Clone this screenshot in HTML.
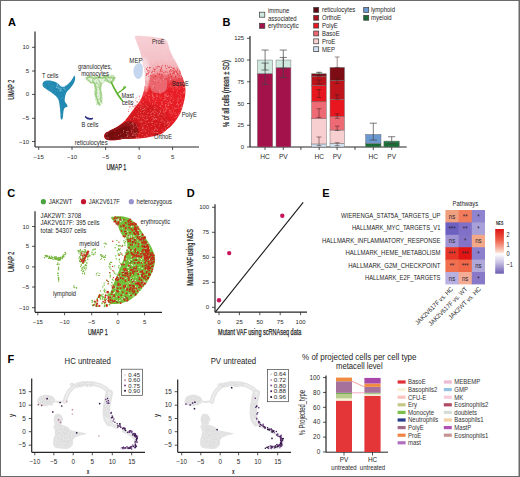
<!DOCTYPE html>
<html><head><meta charset="utf-8"><style>
html,body{margin:0;padding:0;background:#fff;width:520px;height:477px;overflow:hidden;}
svg{display:block;font-family:"Liberation Sans", sans-serif;}
</style></head><body>
<svg width="520" height="477" viewBox="0 0 520 477">
<rect x="0" y="0" width="520" height="477" fill="#fff"/>
<rect x="0.00" y="0.00" width="520.00" height="1.00" fill="#6a6a6a" />
<rect x="0.00" y="0.00" width="1.00" height="477.00" fill="#6a6a6a" />
<rect x="518.50" y="0.00" width="1.50" height="477.00" fill="#6a6a6a" />
<rect x="0.00" y="476.00" width="520.00" height="1.00" fill="#6a6a6a" />
<text x="8.00" y="25.60" font-size="11" fill="#000" font-weight="bold" >A</text>
<text x="222.60" y="25.80" font-size="11" fill="#000" font-weight="bold" >B</text>
<text x="7.30" y="196.80" font-size="11" fill="#000" font-weight="bold" >C</text>
<text x="186.80" y="196.60" font-size="11" fill="#000" font-weight="bold" >D</text>
<text x="322.30" y="196.60" font-size="11" fill="#000" font-weight="bold" >E</text>
<text x="7.50" y="362.50" font-size="11" fill="#000" font-weight="bold" >F</text>
<path d="M42.5,84.0 C42.6,83.1 43.2,82.1 44.0,81.5 C44.8,80.9 46.2,80.7 47.5,80.6 C48.8,80.5 50.6,80.7 52.0,81.0 C53.4,81.3 54.9,81.8 56.0,82.3 C57.1,82.8 58.0,83.5 58.8,84.2 C59.6,84.9 60.1,86.0 61.0,86.5 C61.9,87.0 62.9,87.3 64.0,87.0 C65.1,86.7 66.4,85.5 67.5,84.5 C68.6,83.5 69.8,82.5 70.8,81.3 C71.8,80.1 72.6,78.5 73.2,77.6 C73.8,76.6 74.0,75.6 74.3,75.6 C74.6,75.6 75.0,76.6 75.1,77.5 C75.2,78.4 75.1,79.8 74.7,81.0 C74.3,82.2 73.6,83.7 72.7,85.0 C71.8,86.3 70.6,87.8 69.6,89.0 C68.6,90.2 67.4,90.8 66.7,92.0 C66.0,93.2 65.5,94.5 65.2,96.0 C64.9,97.5 64.6,99.7 64.8,101.0 C65.0,102.3 66.1,103.1 66.6,104.0 C67.1,104.9 67.8,106.0 67.6,106.6 C67.4,107.2 65.9,106.9 65.2,107.6 C64.5,108.2 64.0,108.7 63.6,110.5 C63.2,112.3 63.1,117.2 62.6,118.6 C62.1,120.0 61.2,119.9 60.8,118.8 C60.4,117.7 60.5,114.5 60.3,112.0 C60.1,109.5 59.7,106.1 59.4,104.0 C59.1,101.9 58.9,100.9 58.3,99.5 C57.6,98.1 56.7,97.0 55.5,95.8 C54.3,94.6 52.5,93.4 51.0,92.3 C49.5,91.2 47.8,90.1 46.5,89.2 C45.2,88.3 44.1,87.9 43.4,87.0 C42.7,86.1 42.4,84.9 42.5,84.0Z" fill="#2189b1" />
<g fill="#8cc8e0" fill-opacity="1.0"><circle cx="61.9" cy="86.3" r="0.45"/><circle cx="56.6" cy="87.6" r="0.45"/><circle cx="56.4" cy="86.9" r="0.45"/><circle cx="60.7" cy="90.4" r="0.45"/><circle cx="57.4" cy="85.0" r="0.45"/><circle cx="62.3" cy="86.6" r="0.45"/><circle cx="65.4" cy="85.6" r="0.45"/><circle cx="57.6" cy="84.1" r="0.45"/><circle cx="59.4" cy="90.3" r="0.45"/><circle cx="58.0" cy="88.2" r="0.45"/><circle cx="63.0" cy="86.4" r="0.45"/><circle cx="56.7" cy="84.9" r="0.45"/><circle cx="63.5" cy="86.8" r="0.45"/><circle cx="59.5" cy="88.3" r="0.45"/><circle cx="61.0" cy="85.7" r="0.45"/><circle cx="64.7" cy="89.3" r="0.45"/><circle cx="58.7" cy="88.2" r="0.45"/><circle cx="61.8" cy="90.9" r="0.45"/><circle cx="60.6" cy="89.8" r="0.45"/><circle cx="57.7" cy="87.4" r="0.45"/><circle cx="64.4" cy="88.2" r="0.45"/><circle cx="65.6" cy="85.8" r="0.45"/><circle cx="63.6" cy="88.3" r="0.45"/><circle cx="62.4" cy="87.1" r="0.45"/><circle cx="61.2" cy="89.0" r="0.45"/><circle cx="65.0" cy="85.6" r="0.45"/><circle cx="60.2" cy="89.0" r="0.45"/><circle cx="56.2" cy="87.2" r="0.45"/><circle cx="57.8" cy="84.1" r="0.45"/><circle cx="57.4" cy="85.2" r="0.45"/><circle cx="60.3" cy="90.8" r="0.45"/><circle cx="56.9" cy="87.0" r="0.45"/><circle cx="62.0" cy="91.0" r="0.45"/><circle cx="59.1" cy="86.7" r="0.45"/><circle cx="59.9" cy="91.0" r="0.45"/><circle cx="57.9" cy="85.1" r="0.45"/><circle cx="58.6" cy="87.4" r="0.45"/><circle cx="60.1" cy="88.1" r="0.45"/><circle cx="61.7" cy="88.6" r="0.45"/><circle cx="65.9" cy="90.0" r="0.45"/></g>
<g fill="#5aaccc" fill-opacity="1.0"><circle cx="55.3" cy="92.8" r="0.4"/><circle cx="49.3" cy="82.6" r="0.4"/><circle cx="50.7" cy="90.6" r="0.4"/><circle cx="57.7" cy="96.5" r="0.4"/><circle cx="53.7" cy="87.0" r="0.4"/><circle cx="69.5" cy="82.6" r="0.4"/><circle cx="51.0" cy="91.4" r="0.4"/><circle cx="53.2" cy="85.2" r="0.4"/><circle cx="49.7" cy="85.4" r="0.4"/><circle cx="48.9" cy="84.4" r="0.4"/><circle cx="62.8" cy="114.5" r="0.4"/><circle cx="63.8" cy="110.1" r="0.4"/><circle cx="46.6" cy="82.1" r="0.4"/><circle cx="69.4" cy="84.7" r="0.4"/><circle cx="50.7" cy="88.3" r="0.4"/><circle cx="61.5" cy="114.7" r="0.4"/><circle cx="58.9" cy="98.6" r="0.4"/><circle cx="56.8" cy="83.5" r="0.4"/><circle cx="60.6" cy="109.5" r="0.4"/><circle cx="50.6" cy="87.6" r="0.4"/><circle cx="60.8" cy="108.4" r="0.4"/><circle cx="62.5" cy="97.4" r="0.4"/><circle cx="60.7" cy="116.3" r="0.4"/><circle cx="44.9" cy="86.0" r="0.4"/><circle cx="59.3" cy="90.2" r="0.4"/><circle cx="48.9" cy="89.4" r="0.4"/><circle cx="60.6" cy="94.6" r="0.4"/><circle cx="62.8" cy="97.7" r="0.4"/><circle cx="45.9" cy="87.1" r="0.4"/><circle cx="51.3" cy="81.2" r="0.4"/><circle cx="69.2" cy="86.8" r="0.4"/><circle cx="61.1" cy="105.9" r="0.4"/><circle cx="64.9" cy="94.0" r="0.4"/><circle cx="63.2" cy="110.2" r="0.4"/><circle cx="57.3" cy="90.3" r="0.4"/><circle cx="51.2" cy="81.2" r="0.4"/><circle cx="59.7" cy="85.9" r="0.4"/><circle cx="46.1" cy="82.6" r="0.4"/><circle cx="44.1" cy="84.3" r="0.4"/><circle cx="52.7" cy="88.8" r="0.4"/><circle cx="67.3" cy="88.1" r="0.4"/><circle cx="73.0" cy="80.2" r="0.4"/><circle cx="65.5" cy="103.1" r="0.4"/><circle cx="55.7" cy="90.6" r="0.4"/><circle cx="50.8" cy="82.7" r="0.4"/><circle cx="51.7" cy="86.1" r="0.4"/><circle cx="52.6" cy="91.0" r="0.4"/><circle cx="58.0" cy="97.3" r="0.4"/><circle cx="52.4" cy="85.7" r="0.4"/><circle cx="61.6" cy="98.5" r="0.4"/></g>
<path d="M85.2,115.8 Q88,119 93.2,117.4 L92.8,119.2 Q88,121 84.8,117.2Z" fill="#2b2d86"/>
<path d="M85.8,77.0 C86.5,76.2 88.3,75.5 90.0,75.2 C91.7,75.0 94.2,75.3 96.0,75.5 C97.8,75.7 99.5,76.4 101.0,76.3 C102.5,76.2 103.5,75.1 105.0,74.8 C106.5,74.5 108.5,74.5 110.0,74.5 C111.5,74.5 113.1,74.4 114.0,75.0 C114.9,75.6 115.5,76.8 115.5,78.0 C115.5,79.2 114.9,81.6 114.0,82.5 C113.1,83.4 111.3,83.6 110.0,83.5 C108.7,83.4 107.2,81.9 106.0,82.0 C104.8,82.1 103.2,83.0 102.5,84.0 C101.8,85.0 101.5,86.2 101.5,88.0 C101.5,89.8 102.4,92.8 102.5,95.0 C102.6,97.2 102.6,99.2 102.3,101.0 C102.0,102.8 101.4,104.8 100.5,105.5 C99.6,106.2 97.8,105.8 97.0,105.0 C96.2,104.2 95.9,102.8 95.5,101.0 C95.1,99.2 94.5,96.2 94.5,94.0 C94.5,91.8 95.8,89.8 95.5,88.0 C95.2,86.2 94.1,84.1 93.0,83.0 C91.9,81.9 90.2,82.0 89.0,81.5 C87.8,81.0 86.5,80.8 86.0,80.0 C85.5,79.2 85.1,77.8 85.8,77.0Z" fill="#e2f1da" />
<path d="M86.1,78.8 L90.6,76.6 L94.3,79.3 L98.8,76.4 L102.3,78.2 L106.0,77.4 L110.1,76.9 L114.9,78.3M85.6,78.1 L90.0,76.1 L94.2,79.0 L97.9,77.7 L102.9,78.1 L106.4,75.7 L109.1,78.0 L113.6,77.4M86.8,79.0 L89.2,76.6 L93.5,78.0 L97.0,77.0 L101.6,77.8 L105.4,75.7 L109.1,77.7 L114.5,78.1M92.3,80.4 L94.8,84.7 L95.2,89.6 L95.0,94.4 L97.3,98.9 L98.0,102.7 L100.1,105.5M92.7,80.2 L95.5,84.8 L96.5,89.3 L96.2,94.1 L97.1,98.9 L97.7,103.7 L100.4,104.4M93.0,81.2 L94.7,84.3 L96.2,90.4 L95.4,94.9 L97.0,98.6 L98.7,103.8 L100.0,104.1M98.8,80.5 L100.2,83.4 L99.5,89.3 L101.2,93.7 L100.7,99.4 L102.2,103.5M98.9,80.5 L101.2,84.6 L100.4,89.1 L101.0,94.6 L100.7,99.4 L101.1,102.3M103.6,76.2 L107.1,79.5 L109.4,82.8 L112.2,80.8 L115.0,77.1M104.9,76.3 L106.1,80.8 L109.8,82.7 L113.6,79.3 L113.7,76.1M104.5,76.5 L106.5,79.3 L109.8,82.5 L113.4,80.7 L115.3,77.5M88.4,79.4 L90.4,82.9 L93.6,82.8M87.6,79.8 L90.8,82.5 L93.4,82.6" fill="none" stroke="#98cc7e" stroke-width="0.9" stroke-linejoin="round"/>
<g fill="#90c874" fill-opacity="1.0"><circle cx="88.2" cy="80.8" r="0.45"/><circle cx="89.6" cy="77.6" r="0.45"/><circle cx="98.1" cy="78.5" r="0.45"/><circle cx="99.5" cy="94.3" r="0.45"/><circle cx="96.5" cy="82.3" r="0.45"/><circle cx="97.2" cy="83.2" r="0.45"/><circle cx="107.3" cy="81.5" r="0.45"/><circle cx="87.1" cy="79.4" r="0.45"/><circle cx="95.6" cy="99.6" r="0.45"/><circle cx="111.8" cy="76.9" r="0.45"/><circle cx="104.3" cy="80.3" r="0.45"/><circle cx="98.6" cy="99.7" r="0.45"/><circle cx="99.0" cy="86.9" r="0.45"/><circle cx="90.5" cy="81.3" r="0.45"/><circle cx="86.8" cy="79.6" r="0.45"/><circle cx="97.2" cy="89.3" r="0.45"/><circle cx="108.3" cy="77.5" r="0.45"/><circle cx="102.7" cy="77.3" r="0.45"/><circle cx="97.2" cy="92.7" r="0.45"/><circle cx="100.5" cy="90.2" r="0.45"/><circle cx="95.0" cy="91.2" r="0.45"/><circle cx="101.9" cy="83.3" r="0.45"/><circle cx="99.4" cy="102.9" r="0.45"/><circle cx="92.8" cy="82.4" r="0.45"/><circle cx="109.7" cy="80.5" r="0.45"/><circle cx="99.2" cy="100.0" r="0.45"/><circle cx="96.2" cy="78.2" r="0.45"/><circle cx="102.1" cy="83.2" r="0.45"/><circle cx="95.6" cy="94.6" r="0.45"/><circle cx="96.2" cy="83.5" r="0.45"/><circle cx="112.5" cy="75.5" r="0.45"/><circle cx="107.1" cy="76.4" r="0.45"/><circle cx="98.2" cy="84.3" r="0.45"/><circle cx="101.0" cy="85.5" r="0.45"/><circle cx="93.4" cy="82.0" r="0.45"/><circle cx="102.1" cy="97.4" r="0.45"/><circle cx="98.6" cy="84.8" r="0.45"/><circle cx="107.0" cy="78.6" r="0.45"/><circle cx="96.9" cy="83.8" r="0.45"/><circle cx="94.6" cy="84.6" r="0.45"/><circle cx="103.4" cy="76.5" r="0.45"/><circle cx="101.7" cy="92.6" r="0.45"/><circle cx="98.0" cy="79.6" r="0.45"/><circle cx="108.4" cy="74.9" r="0.45"/><circle cx="104.6" cy="80.4" r="0.45"/><circle cx="95.8" cy="96.9" r="0.45"/><circle cx="113.7" cy="79.9" r="0.45"/><circle cx="105.5" cy="77.1" r="0.45"/><circle cx="112.8" cy="80.9" r="0.45"/><circle cx="89.9" cy="78.0" r="0.45"/><circle cx="102.2" cy="100.3" r="0.45"/><circle cx="102.0" cy="98.0" r="0.45"/><circle cx="100.5" cy="95.8" r="0.45"/><circle cx="96.5" cy="86.2" r="0.45"/><circle cx="105.3" cy="80.6" r="0.45"/><circle cx="104.1" cy="77.5" r="0.45"/><circle cx="98.5" cy="86.7" r="0.45"/><circle cx="112.1" cy="81.4" r="0.45"/><circle cx="97.6" cy="98.8" r="0.45"/><circle cx="100.4" cy="77.0" r="0.45"/><circle cx="97.7" cy="99.6" r="0.45"/><circle cx="97.0" cy="93.7" r="0.45"/><circle cx="96.8" cy="80.9" r="0.45"/><circle cx="95.0" cy="76.3" r="0.45"/><circle cx="92.5" cy="79.5" r="0.45"/><circle cx="99.1" cy="102.7" r="0.45"/><circle cx="87.8" cy="80.9" r="0.45"/><circle cx="112.2" cy="82.9" r="0.45"/><circle cx="109.0" cy="78.6" r="0.45"/><circle cx="107.9" cy="77.0" r="0.45"/><circle cx="100.0" cy="99.5" r="0.45"/><circle cx="107.4" cy="79.9" r="0.45"/><circle cx="95.6" cy="88.6" r="0.45"/><circle cx="99.4" cy="105.2" r="0.45"/><circle cx="104.2" cy="78.8" r="0.45"/><circle cx="113.6" cy="79.7" r="0.45"/><circle cx="99.6" cy="98.6" r="0.45"/><circle cx="98.9" cy="87.4" r="0.45"/><circle cx="100.5" cy="86.8" r="0.45"/><circle cx="105.8" cy="76.7" r="0.45"/><circle cx="99.5" cy="92.5" r="0.45"/><circle cx="96.8" cy="104.3" r="0.45"/><circle cx="105.2" cy="75.3" r="0.45"/><circle cx="86.1" cy="77.2" r="0.45"/><circle cx="95.9" cy="82.7" r="0.45"/><circle cx="89.2" cy="76.6" r="0.45"/><circle cx="88.9" cy="77.4" r="0.45"/><circle cx="95.4" cy="84.1" r="0.45"/><circle cx="98.6" cy="84.9" r="0.45"/><circle cx="98.1" cy="96.2" r="0.45"/><circle cx="112.8" cy="78.8" r="0.45"/><circle cx="97.8" cy="83.3" r="0.45"/><circle cx="97.4" cy="87.3" r="0.45"/><circle cx="92.4" cy="82.6" r="0.45"/><circle cx="99.6" cy="102.7" r="0.45"/><circle cx="94.0" cy="80.1" r="0.45"/><circle cx="96.8" cy="94.0" r="0.45"/><circle cx="95.0" cy="83.8" r="0.45"/><circle cx="107.0" cy="76.6" r="0.45"/><circle cx="109.7" cy="79.9" r="0.45"/><circle cx="110.9" cy="77.6" r="0.45"/><circle cx="99.6" cy="88.4" r="0.45"/><circle cx="112.9" cy="79.5" r="0.45"/><circle cx="98.7" cy="79.1" r="0.45"/><circle cx="108.1" cy="75.6" r="0.45"/><circle cx="95.0" cy="75.7" r="0.45"/><circle cx="95.7" cy="96.6" r="0.45"/><circle cx="111.6" cy="75.4" r="0.45"/><circle cx="101.7" cy="100.3" r="0.45"/><circle cx="101.4" cy="83.9" r="0.45"/></g>
<g fill="none" stroke="#5ab22a" stroke-width="1.6" stroke-linecap="round"><path d="M111.4,82.6 Q114,88 116,91.5 Q117.5,94 118.5,95.5 Q120.5,98.5 122.5,101"/><path d="M117.4,93.5 Q120.5,91.5 122.5,89.8 Q124.2,88.5 125.6,87" stroke-width="1.2"/><path d="M123,89.5 L124.2,86.3" stroke-width="1"/></g>
<defs><clipPath id="eryclip"><path d="M135.0,36.3 C136.0,35.6 139.5,35.8 142.0,35.9 C144.5,36.0 147.5,36.3 150.0,36.6 C152.5,36.9 154.8,37.3 157.0,37.6 C159.2,37.9 161.8,37.8 163.5,38.6 C165.2,39.4 166.4,40.6 167.5,42.5 C168.6,44.4 168.9,47.6 169.8,50.0 C170.7,52.4 171.9,54.8 173.0,57.0 C174.1,59.2 175.4,61.0 176.5,63.0 C177.6,65.0 178.6,67.0 179.5,69.0 C180.4,71.0 180.9,73.1 181.7,75.3 C182.5,77.5 183.6,79.8 184.2,82.0 C184.8,84.2 185.2,86.3 185.4,88.5 C185.6,90.7 185.4,93.0 185.2,95.0 C185.0,97.0 184.6,98.4 184.2,100.4 C183.8,102.4 183.1,104.9 182.5,107.0 C181.9,109.1 181.4,110.9 180.4,113.0 C179.4,115.1 178.0,117.4 176.5,119.5 C175.0,121.6 173.2,123.8 171.6,125.5 C170.0,127.2 168.5,128.2 167.0,129.5 C165.5,130.8 164.6,132.0 162.8,133.0 C161.1,134.0 158.6,134.9 156.5,135.5 C154.4,136.1 152.4,136.4 150.3,136.8 C148.2,137.2 146.1,137.7 144.0,138.0 C141.9,138.3 140.2,138.5 138.0,138.6 C135.8,138.7 133.2,138.8 131.0,138.8 C128.8,138.8 126.8,138.7 125.0,138.8 C123.2,138.9 121.7,139.3 120.0,139.6 C118.3,139.8 116.8,140.2 115.0,140.3 C113.2,140.4 110.6,140.4 109.0,140.2 C107.4,140.0 106.3,139.6 105.5,139.0 C104.7,138.4 104.1,137.4 104.0,136.5 C103.9,135.6 104.2,134.4 105.0,133.5 C105.8,132.6 107.3,131.9 109.0,131.0 C110.7,130.1 113.2,129.0 115.0,128.0 C116.8,127.0 118.3,126.0 120.0,124.8 C121.7,123.5 123.5,122.0 125.0,120.5 C126.5,119.0 127.7,117.2 129.0,115.5 C130.3,113.8 131.4,112.1 132.7,110.4 C133.9,108.7 135.2,107.2 136.5,105.5 C137.8,103.8 139.2,102.1 140.2,100.4 C141.2,98.7 141.9,97.2 142.5,95.5 C143.1,93.8 143.6,92.4 144.0,90.3 C144.4,88.2 145.0,85.5 145.2,83.0 C145.4,80.5 145.4,78.0 145.2,75.3 C145.0,72.6 144.4,69.9 143.8,67.0 C143.2,64.1 142.1,60.4 141.5,57.7 C140.9,55.0 140.6,53.1 140.0,51.0 C139.4,48.9 138.4,46.8 137.7,45.0 C137.0,43.2 136.2,41.5 135.8,40.0 C135.4,38.5 134.0,37.0 135.0,36.3Z"/></clipPath><linearGradient id="erygrad" x1="0" y1="36" x2="0" y2="140" gradientUnits="userSpaceOnUse"><stop offset="0" stop-color="#f6d0d5"/><stop offset="0.22" stop-color="#f4c2c8"/><stop offset="0.31" stop-color="#f2b2b8"/><stop offset="0.37" stop-color="#ee8a90"/><stop offset="0.43" stop-color="#e8404a"/><stop offset="0.52" stop-color="#ea1e26"/><stop offset="1" stop-color="#e01a22"/></linearGradient><filter id="bl1" x="-20%" y="-20%" width="140%" height="140%"><feGaussianBlur stdDeviation="1.6"/></filter><filter id="bl05" x="-20%" y="-20%" width="140%" height="140%"><feGaussianBlur stdDeviation="0.7"/></filter></defs>
<g clip-path="url(#eryclip)">
<rect x="100" y="30" width="95" height="115" fill="url(#erygrad)"/>
<g filter="url(#bl1)">
<path d="M128.0,118.0 C130.0,112.8 133.0,110.5 136.0,108.0 C139.0,105.5 142.7,103.3 146.0,103.0 C149.3,102.7 152.8,104.3 156.0,106.0 C159.2,107.7 162.7,110.3 165.0,113.0 C167.3,115.7 170.2,119.0 170.0,122.0 C169.8,125.0 167.0,128.7 164.0,131.0 C161.0,133.3 156.3,134.7 152.0,136.0 C147.7,137.3 142.7,138.5 138.0,139.0 C133.3,139.5 125.7,142.5 124.0,139.0 C122.3,135.5 126.0,123.2 128.0,118.0Z" fill="#c0141a" opacity="0.45"/>
<path d="M142.0,58.0 C142.8,55.0 145.5,57.7 147.0,60.0 C148.5,62.3 150.7,67.8 151.0,72.0 C151.3,76.2 150.0,81.7 149.0,85.0 C148.0,88.3 146.2,93.2 145.0,92.0 C143.8,90.8 142.5,83.7 142.0,78.0 C141.5,72.3 141.2,61.0 142.0,58.0Z" fill="#f8e4e6" opacity="0.8"/>
</g>
<g filter="url(#bl05)">
<path d="M104.8,134.0 C105.2,132.6 106.6,131.4 108.0,130.5 C109.4,129.6 111.3,129.2 113.0,128.5 C114.7,127.8 116.3,127.3 118.0,126.5 C119.7,125.7 121.3,124.3 123.0,123.5 C124.7,122.7 126.3,121.8 128.0,121.5 C129.7,121.2 131.5,121.2 133.0,122.0 C134.5,122.8 136.1,124.3 137.0,126.0 C137.9,127.7 138.8,130.1 138.5,132.0 C138.2,133.9 137.1,136.2 135.0,137.5 C132.9,138.8 129.0,139.0 126.0,139.5 C123.0,140.0 119.7,140.2 117.0,140.5 C114.3,140.8 111.9,141.2 110.0,141.0 C108.1,140.8 106.4,140.2 105.5,139.0 C104.6,137.8 104.4,135.4 104.8,134.0Z" fill="#8e1418" />
<path d="M106.0,135.0 C106.5,134.0 108.3,132.8 110.0,132.0 C111.7,131.2 114.0,130.8 116.0,130.0 C118.0,129.2 120.0,128.2 122.0,127.5 C124.0,126.8 126.5,125.6 128.0,126.0 C129.5,126.4 131.2,128.3 131.0,130.0 C130.8,131.7 129.0,134.6 127.0,136.0 C125.0,137.4 121.7,137.9 119.0,138.5 C116.3,139.1 113.0,139.6 111.0,139.5 C109.0,139.4 107.8,138.8 107.0,138.0 C106.2,137.2 105.5,136.0 106.0,135.0Z" fill="#740c10" />
</g>
<path d="M150.5,75.5 C151.3,73.9 153.2,74.7 155.0,74.6 C156.8,74.5 159.2,74.5 161.0,74.8 C162.8,75.1 165.0,75.3 166.0,76.5 C167.0,77.7 167.1,79.9 167.2,82.0 C167.3,84.1 167.2,87.2 166.5,89.0 C165.8,90.8 164.8,91.9 163.0,92.5 C161.2,93.1 157.9,93.1 156.0,92.8 C154.1,92.5 152.5,92.0 151.5,90.5 C150.5,89.0 150.2,86.5 150.0,84.0 C149.8,81.5 149.7,77.1 150.5,75.5Z" fill="#ea6870" filter="url(#bl05)"/>
<g fill="#f9e0e2" fill-opacity="0.8"><circle cx="154.7" cy="113.3" r="0.45"/><circle cx="180.8" cy="103.7" r="0.45"/><circle cx="148.3" cy="95.8" r="0.45"/><circle cx="126.7" cy="131.6" r="0.45"/><circle cx="166.3" cy="52.6" r="0.45"/><circle cx="168.9" cy="50.4" r="0.45"/><circle cx="154.3" cy="49.1" r="0.45"/><circle cx="127.5" cy="136.3" r="0.45"/><circle cx="147.9" cy="106.7" r="0.45"/><circle cx="120.7" cy="134.1" r="0.45"/><circle cx="176.8" cy="67.1" r="0.45"/><circle cx="170.6" cy="86.1" r="0.45"/><circle cx="161.4" cy="41.9" r="0.45"/><circle cx="165.0" cy="124.1" r="0.45"/><circle cx="118.7" cy="135.6" r="0.45"/><circle cx="146.7" cy="116.9" r="0.45"/><circle cx="168.9" cy="125.7" r="0.45"/><circle cx="107.0" cy="134.6" r="0.45"/><circle cx="153.7" cy="131.7" r="0.45"/><circle cx="131.7" cy="132.4" r="0.45"/><circle cx="148.4" cy="68.5" r="0.45"/><circle cx="184.3" cy="91.6" r="0.45"/><circle cx="152.3" cy="122.2" r="0.45"/><circle cx="108.5" cy="131.5" r="0.45"/><circle cx="155.3" cy="118.2" r="0.45"/><circle cx="183.4" cy="83.2" r="0.45"/><circle cx="143.7" cy="112.1" r="0.45"/><circle cx="182.1" cy="101.4" r="0.45"/><circle cx="144.6" cy="71.2" r="0.45"/><circle cx="167.7" cy="126.5" r="0.45"/><circle cx="133.4" cy="118.0" r="0.45"/><circle cx="167.1" cy="108.4" r="0.45"/><circle cx="158.1" cy="115.2" r="0.45"/><circle cx="133.6" cy="109.4" r="0.45"/><circle cx="166.7" cy="108.0" r="0.45"/><circle cx="127.9" cy="134.6" r="0.45"/><circle cx="156.9" cy="96.5" r="0.45"/><circle cx="141.7" cy="121.2" r="0.45"/><circle cx="156.7" cy="119.2" r="0.45"/><circle cx="164.1" cy="122.4" r="0.45"/><circle cx="132.5" cy="123.9" r="0.45"/><circle cx="174.8" cy="107.8" r="0.45"/><circle cx="146.2" cy="91.2" r="0.45"/><circle cx="180.3" cy="85.7" r="0.45"/><circle cx="160.3" cy="111.0" r="0.45"/><circle cx="163.5" cy="53.8" r="0.45"/><circle cx="167.5" cy="96.5" r="0.45"/><circle cx="158.2" cy="79.8" r="0.45"/><circle cx="154.8" cy="116.8" r="0.45"/><circle cx="155.8" cy="111.1" r="0.45"/><circle cx="139.9" cy="103.8" r="0.45"/><circle cx="155.4" cy="40.3" r="0.45"/><circle cx="142.4" cy="59.5" r="0.45"/><circle cx="153.8" cy="97.5" r="0.45"/><circle cx="123.4" cy="130.2" r="0.45"/><circle cx="153.9" cy="45.8" r="0.45"/><circle cx="148.4" cy="71.3" r="0.45"/><circle cx="151.3" cy="135.9" r="0.45"/><circle cx="170.6" cy="79.7" r="0.45"/><circle cx="170.2" cy="103.0" r="0.45"/><circle cx="152.5" cy="94.8" r="0.45"/><circle cx="153.5" cy="72.6" r="0.45"/><circle cx="154.1" cy="50.6" r="0.45"/><circle cx="155.2" cy="128.9" r="0.45"/><circle cx="152.5" cy="63.0" r="0.45"/><circle cx="183.9" cy="87.7" r="0.45"/><circle cx="184.1" cy="87.2" r="0.45"/><circle cx="167.6" cy="122.2" r="0.45"/><circle cx="126.3" cy="133.5" r="0.45"/><circle cx="167.6" cy="61.5" r="0.45"/><circle cx="153.5" cy="85.5" r="0.45"/><circle cx="156.5" cy="98.9" r="0.45"/><circle cx="164.5" cy="48.2" r="0.45"/><circle cx="165.9" cy="67.3" r="0.45"/><circle cx="147.4" cy="71.0" r="0.45"/><circle cx="164.6" cy="97.6" r="0.45"/><circle cx="141.1" cy="131.6" r="0.45"/><circle cx="176.3" cy="92.9" r="0.45"/><circle cx="161.6" cy="101.9" r="0.45"/><circle cx="143.2" cy="131.1" r="0.45"/><circle cx="128.1" cy="122.6" r="0.45"/><circle cx="160.5" cy="81.1" r="0.45"/><circle cx="144.5" cy="70.4" r="0.45"/><circle cx="168.4" cy="105.2" r="0.45"/><circle cx="161.1" cy="41.0" r="0.45"/><circle cx="172.5" cy="58.8" r="0.45"/><circle cx="156.6" cy="135.3" r="0.45"/><circle cx="162.0" cy="50.0" r="0.45"/><circle cx="127.8" cy="131.7" r="0.45"/><circle cx="154.7" cy="40.4" r="0.45"/><circle cx="150.8" cy="113.4" r="0.45"/><circle cx="152.9" cy="87.0" r="0.45"/><circle cx="180.4" cy="75.0" r="0.45"/><circle cx="145.2" cy="130.9" r="0.45"/><circle cx="149.2" cy="100.7" r="0.45"/><circle cx="146.1" cy="49.9" r="0.45"/><circle cx="164.0" cy="54.6" r="0.45"/><circle cx="162.1" cy="104.3" r="0.45"/><circle cx="152.3" cy="60.8" r="0.45"/><circle cx="175.4" cy="86.1" r="0.45"/><circle cx="130.3" cy="119.1" r="0.45"/><circle cx="181.5" cy="107.0" r="0.45"/><circle cx="154.9" cy="72.9" r="0.45"/><circle cx="154.0" cy="72.3" r="0.45"/><circle cx="171.7" cy="103.5" r="0.45"/><circle cx="169.5" cy="81.1" r="0.45"/><circle cx="173.3" cy="89.9" r="0.45"/><circle cx="152.2" cy="95.7" r="0.45"/><circle cx="164.2" cy="77.2" r="0.45"/><circle cx="176.4" cy="86.1" r="0.45"/><circle cx="142.3" cy="128.8" r="0.45"/><circle cx="154.4" cy="80.7" r="0.45"/><circle cx="141.9" cy="46.3" r="0.45"/><circle cx="134.0" cy="133.8" r="0.45"/><circle cx="160.0" cy="106.2" r="0.45"/><circle cx="142.4" cy="134.6" r="0.45"/><circle cx="163.4" cy="52.9" r="0.45"/><circle cx="136.6" cy="137.5" r="0.45"/><circle cx="163.6" cy="110.9" r="0.45"/><circle cx="158.7" cy="134.1" r="0.45"/><circle cx="156.6" cy="80.9" r="0.45"/><circle cx="137.4" cy="40.6" r="0.45"/><circle cx="146.2" cy="72.4" r="0.45"/><circle cx="177.2" cy="87.2" r="0.45"/><circle cx="107.1" cy="137.3" r="0.45"/><circle cx="179.0" cy="98.4" r="0.45"/><circle cx="173.7" cy="58.3" r="0.45"/><circle cx="143.6" cy="95.6" r="0.45"/><circle cx="163.1" cy="131.2" r="0.45"/><circle cx="171.3" cy="59.3" r="0.45"/><circle cx="170.7" cy="68.6" r="0.45"/><circle cx="161.0" cy="40.9" r="0.45"/><circle cx="165.2" cy="94.0" r="0.45"/><circle cx="176.9" cy="104.2" r="0.45"/><circle cx="165.8" cy="95.9" r="0.45"/><circle cx="140.0" cy="121.2" r="0.45"/><circle cx="163.3" cy="109.1" r="0.45"/><circle cx="125.8" cy="120.7" r="0.45"/><circle cx="166.2" cy="94.1" r="0.45"/><circle cx="153.8" cy="60.0" r="0.45"/><circle cx="151.6" cy="122.2" r="0.45"/><circle cx="163.2" cy="45.8" r="0.45"/><circle cx="147.2" cy="53.8" r="0.45"/><circle cx="161.7" cy="82.5" r="0.45"/><circle cx="178.5" cy="84.0" r="0.45"/><circle cx="147.4" cy="137.1" r="0.45"/><circle cx="152.5" cy="46.7" r="0.45"/><circle cx="170.3" cy="79.7" r="0.45"/><circle cx="108.3" cy="138.0" r="0.45"/><circle cx="143.2" cy="128.0" r="0.45"/><circle cx="149.8" cy="73.2" r="0.45"/><circle cx="165.1" cy="61.1" r="0.45"/><circle cx="173.2" cy="100.4" r="0.45"/><circle cx="171.7" cy="87.1" r="0.45"/><circle cx="168.9" cy="69.7" r="0.45"/><circle cx="159.6" cy="126.0" r="0.45"/><circle cx="154.7" cy="119.5" r="0.45"/><circle cx="145.7" cy="97.1" r="0.45"/><circle cx="142.8" cy="109.3" r="0.45"/><circle cx="136.5" cy="138.5" r="0.45"/><circle cx="160.4" cy="105.9" r="0.45"/><circle cx="147.7" cy="119.3" r="0.45"/><circle cx="159.3" cy="90.4" r="0.45"/><circle cx="151.2" cy="115.2" r="0.45"/><circle cx="162.2" cy="67.9" r="0.45"/><circle cx="162.3" cy="43.4" r="0.45"/><circle cx="165.3" cy="105.8" r="0.45"/><circle cx="160.0" cy="123.4" r="0.45"/><circle cx="164.1" cy="99.7" r="0.45"/><circle cx="183.3" cy="92.7" r="0.45"/><circle cx="157.2" cy="129.8" r="0.45"/><circle cx="178.1" cy="100.0" r="0.45"/><circle cx="160.1" cy="93.7" r="0.45"/><circle cx="162.2" cy="74.9" r="0.45"/><circle cx="154.6" cy="129.6" r="0.45"/><circle cx="166.4" cy="59.4" r="0.45"/><circle cx="163.3" cy="79.4" r="0.45"/><circle cx="177.6" cy="67.5" r="0.45"/><circle cx="149.8" cy="98.9" r="0.45"/><circle cx="152.4" cy="103.4" r="0.45"/><circle cx="160.2" cy="112.0" r="0.45"/><circle cx="129.9" cy="124.7" r="0.45"/><circle cx="156.5" cy="132.6" r="0.45"/><circle cx="172.4" cy="85.7" r="0.45"/><circle cx="163.9" cy="121.1" r="0.45"/><circle cx="169.4" cy="110.3" r="0.45"/><circle cx="159.4" cy="113.5" r="0.45"/><circle cx="148.2" cy="75.1" r="0.45"/><circle cx="144.3" cy="136.4" r="0.45"/><circle cx="165.8" cy="111.2" r="0.45"/><circle cx="164.0" cy="131.8" r="0.45"/><circle cx="144.6" cy="108.7" r="0.45"/><circle cx="168.2" cy="96.0" r="0.45"/><circle cx="173.0" cy="90.1" r="0.45"/><circle cx="184.1" cy="92.4" r="0.45"/><circle cx="135.4" cy="133.4" r="0.45"/><circle cx="166.3" cy="73.6" r="0.45"/><circle cx="146.1" cy="41.4" r="0.45"/><circle cx="121.8" cy="137.6" r="0.45"/><circle cx="181.7" cy="107.6" r="0.45"/><circle cx="145.3" cy="41.4" r="0.45"/><circle cx="136.0" cy="117.2" r="0.45"/><circle cx="177.5" cy="103.3" r="0.45"/><circle cx="155.8" cy="39.7" r="0.45"/><circle cx="137.6" cy="127.2" r="0.45"/><circle cx="165.6" cy="129.0" r="0.45"/><circle cx="138.4" cy="137.4" r="0.45"/><circle cx="158.3" cy="48.8" r="0.45"/><circle cx="152.8" cy="50.1" r="0.45"/><circle cx="123.3" cy="132.0" r="0.45"/><circle cx="134.4" cy="116.8" r="0.45"/><circle cx="156.4" cy="75.0" r="0.45"/><circle cx="163.5" cy="49.8" r="0.45"/><circle cx="143.2" cy="109.6" r="0.45"/><circle cx="153.7" cy="118.7" r="0.45"/><circle cx="157.3" cy="132.4" r="0.45"/><circle cx="140.5" cy="112.8" r="0.45"/><circle cx="147.0" cy="76.5" r="0.45"/><circle cx="148.9" cy="122.5" r="0.45"/><circle cx="144.2" cy="95.0" r="0.45"/></g>
<g fill="#e0282e" fill-opacity="0.9"><circle cx="152.3" cy="71.3" r="0.5"/><circle cx="157.7" cy="66.3" r="0.5"/><circle cx="155.0" cy="76.5" r="0.5"/><circle cx="173.6" cy="68.2" r="0.5"/><circle cx="177.2" cy="74.0" r="0.5"/><circle cx="159.5" cy="74.1" r="0.5"/><circle cx="153.8" cy="68.2" r="0.5"/><circle cx="179.1" cy="71.0" r="0.5"/><circle cx="173.6" cy="73.0" r="0.5"/><circle cx="177.0" cy="71.9" r="0.5"/><circle cx="167.6" cy="65.9" r="0.5"/><circle cx="172.8" cy="73.8" r="0.5"/><circle cx="168.5" cy="67.5" r="0.5"/><circle cx="146.6" cy="74.9" r="0.5"/><circle cx="162.4" cy="74.4" r="0.5"/><circle cx="179.7" cy="75.5" r="0.5"/><circle cx="146.8" cy="74.3" r="0.5"/><circle cx="174.2" cy="68.1" r="0.5"/><circle cx="174.3" cy="72.3" r="0.5"/><circle cx="180.1" cy="71.4" r="0.5"/><circle cx="150.2" cy="67.5" r="0.5"/><circle cx="161.0" cy="73.9" r="0.5"/><circle cx="170.0" cy="66.8" r="0.5"/><circle cx="149.6" cy="71.9" r="0.5"/><circle cx="171.5" cy="71.2" r="0.5"/><circle cx="166.9" cy="78.6" r="0.5"/><circle cx="149.8" cy="68.3" r="0.5"/><circle cx="163.8" cy="72.6" r="0.5"/><circle cx="180.0" cy="72.9" r="0.5"/><circle cx="170.5" cy="70.7" r="0.5"/><circle cx="175.4" cy="77.4" r="0.5"/><circle cx="154.4" cy="69.7" r="0.5"/><circle cx="169.2" cy="74.3" r="0.5"/><circle cx="174.8" cy="69.4" r="0.5"/><circle cx="148.1" cy="74.1" r="0.5"/><circle cx="177.8" cy="73.3" r="0.5"/><circle cx="159.4" cy="74.2" r="0.5"/><circle cx="173.0" cy="68.2" r="0.5"/><circle cx="160.3" cy="69.3" r="0.5"/><circle cx="172.7" cy="70.6" r="0.5"/><circle cx="156.1" cy="66.9" r="0.5"/><circle cx="181.7" cy="76.6" r="0.5"/><circle cx="179.9" cy="72.1" r="0.5"/><circle cx="148.2" cy="70.7" r="0.5"/><circle cx="166.6" cy="68.6" r="0.5"/><circle cx="148.3" cy="72.2" r="0.5"/><circle cx="181.3" cy="79.1" r="0.5"/><circle cx="162.6" cy="65.6" r="0.5"/><circle cx="165.5" cy="65.3" r="0.5"/><circle cx="161.5" cy="68.4" r="0.5"/><circle cx="161.1" cy="67.3" r="0.5"/><circle cx="164.6" cy="78.7" r="0.5"/><circle cx="159.3" cy="74.1" r="0.5"/><circle cx="176.4" cy="72.5" r="0.5"/><circle cx="161.7" cy="78.7" r="0.5"/><circle cx="167.0" cy="72.0" r="0.5"/><circle cx="155.4" cy="75.9" r="0.5"/><circle cx="154.2" cy="71.5" r="0.5"/><circle cx="174.3" cy="73.7" r="0.5"/><circle cx="149.4" cy="67.2" r="0.5"/><circle cx="171.8" cy="75.7" r="0.5"/><circle cx="147.6" cy="71.1" r="0.5"/><circle cx="168.8" cy="77.7" r="0.5"/><circle cx="150.5" cy="75.2" r="0.5"/><circle cx="148.2" cy="73.3" r="0.5"/><circle cx="154.1" cy="69.7" r="0.5"/><circle cx="146.1" cy="75.5" r="0.5"/><circle cx="148.9" cy="76.2" r="0.5"/><circle cx="157.5" cy="73.5" r="0.5"/><circle cx="169.6" cy="71.8" r="0.5"/><circle cx="178.9" cy="78.7" r="0.5"/><circle cx="155.3" cy="69.3" r="0.5"/><circle cx="160.8" cy="70.6" r="0.5"/><circle cx="170.2" cy="76.1" r="0.5"/><circle cx="178.1" cy="74.6" r="0.5"/><circle cx="160.8" cy="77.4" r="0.5"/><circle cx="171.0" cy="69.4" r="0.5"/><circle cx="173.3" cy="72.1" r="0.5"/><circle cx="172.5" cy="73.8" r="0.5"/><circle cx="175.6" cy="76.3" r="0.5"/><circle cx="165.4" cy="71.7" r="0.5"/><circle cx="183.0" cy="77.6" r="0.5"/><circle cx="153.5" cy="77.3" r="0.5"/><circle cx="170.0" cy="70.2" r="0.5"/><circle cx="169.8" cy="67.7" r="0.5"/><circle cx="170.3" cy="73.3" r="0.5"/><circle cx="173.7" cy="72.1" r="0.5"/><circle cx="161.4" cy="68.9" r="0.5"/><circle cx="173.4" cy="70.0" r="0.5"/><circle cx="167.9" cy="76.1" r="0.5"/><circle cx="161.8" cy="75.0" r="0.5"/><circle cx="146.5" cy="68.2" r="0.5"/><circle cx="162.3" cy="71.0" r="0.5"/><circle cx="176.1" cy="71.6" r="0.5"/><circle cx="175.8" cy="76.3" r="0.5"/><circle cx="168.9" cy="77.4" r="0.5"/><circle cx="168.6" cy="75.5" r="0.5"/><circle cx="178.0" cy="73.9" r="0.5"/><circle cx="146.6" cy="69.4" r="0.5"/><circle cx="148.0" cy="69.9" r="0.5"/><circle cx="147.6" cy="67.5" r="0.5"/><circle cx="156.0" cy="75.7" r="0.5"/><circle cx="159.5" cy="66.7" r="0.5"/><circle cx="182.1" cy="78.3" r="0.5"/><circle cx="171.6" cy="67.5" r="0.5"/><circle cx="160.1" cy="71.2" r="0.5"/><circle cx="162.2" cy="76.3" r="0.5"/><circle cx="171.7" cy="77.8" r="0.5"/><circle cx="171.3" cy="76.2" r="0.5"/><circle cx="178.8" cy="78.7" r="0.5"/><circle cx="175.7" cy="70.7" r="0.5"/><circle cx="170.4" cy="74.5" r="0.5"/><circle cx="179.3" cy="75.4" r="0.5"/><circle cx="161.7" cy="67.1" r="0.5"/><circle cx="157.1" cy="68.0" r="0.5"/><circle cx="171.3" cy="76.3" r="0.5"/><circle cx="151.7" cy="72.5" r="0.5"/><circle cx="177.6" cy="69.9" r="0.5"/><circle cx="147.8" cy="73.7" r="0.5"/><circle cx="158.5" cy="66.3" r="0.5"/><circle cx="150.0" cy="70.8" r="0.5"/><circle cx="166.0" cy="79.3" r="0.5"/><circle cx="177.4" cy="69.2" r="0.5"/><circle cx="146.3" cy="73.6" r="0.5"/><circle cx="174.3" cy="71.6" r="0.5"/><circle cx="176.1" cy="71.2" r="0.5"/><circle cx="180.7" cy="73.7" r="0.5"/><circle cx="165.5" cy="66.7" r="0.5"/><circle cx="161.1" cy="71.0" r="0.5"/><circle cx="176.9" cy="67.7" r="0.5"/></g>
<g fill="#f26a6e" fill-opacity="0.75"><circle cx="142.7" cy="127.4" r="0.5"/><circle cx="138.2" cy="118.6" r="0.5"/><circle cx="160.7" cy="85.5" r="0.5"/><circle cx="168.8" cy="103.6" r="0.5"/><circle cx="144.2" cy="129.7" r="0.5"/><circle cx="171.7" cy="98.0" r="0.5"/><circle cx="165.7" cy="87.2" r="0.5"/><circle cx="156.1" cy="84.8" r="0.5"/><circle cx="163.2" cy="82.4" r="0.5"/><circle cx="155.8" cy="107.2" r="0.5"/><circle cx="151.6" cy="88.8" r="0.5"/><circle cx="141.7" cy="106.1" r="0.5"/><circle cx="180.9" cy="96.9" r="0.5"/><circle cx="181.7" cy="85.1" r="0.5"/><circle cx="145.5" cy="92.1" r="0.5"/><circle cx="165.9" cy="106.8" r="0.5"/><circle cx="130.9" cy="130.0" r="0.5"/><circle cx="144.7" cy="119.8" r="0.5"/><circle cx="152.2" cy="130.6" r="0.5"/><circle cx="142.1" cy="95.3" r="0.5"/><circle cx="174.3" cy="109.1" r="0.5"/><circle cx="145.8" cy="109.4" r="0.5"/><circle cx="175.7" cy="113.0" r="0.5"/><circle cx="152.1" cy="118.1" r="0.5"/><circle cx="161.9" cy="103.5" r="0.5"/><circle cx="150.6" cy="87.6" r="0.5"/><circle cx="151.3" cy="131.0" r="0.5"/><circle cx="143.4" cy="101.2" r="0.5"/><circle cx="161.2" cy="114.2" r="0.5"/><circle cx="169.0" cy="82.4" r="0.5"/><circle cx="131.5" cy="123.8" r="0.5"/><circle cx="179.3" cy="83.9" r="0.5"/><circle cx="142.1" cy="118.1" r="0.5"/><circle cx="166.6" cy="109.6" r="0.5"/><circle cx="162.2" cy="129.2" r="0.5"/><circle cx="144.2" cy="116.2" r="0.5"/><circle cx="131.7" cy="131.3" r="0.5"/><circle cx="147.2" cy="125.5" r="0.5"/><circle cx="148.4" cy="129.7" r="0.5"/><circle cx="184.8" cy="87.5" r="0.5"/><circle cx="169.8" cy="122.2" r="0.5"/><circle cx="152.5" cy="96.1" r="0.5"/><circle cx="180.9" cy="103.3" r="0.5"/><circle cx="140.3" cy="115.9" r="0.5"/><circle cx="151.2" cy="115.6" r="0.5"/><circle cx="152.3" cy="96.6" r="0.5"/><circle cx="164.5" cy="94.1" r="0.5"/><circle cx="155.0" cy="113.7" r="0.5"/><circle cx="155.2" cy="132.3" r="0.5"/><circle cx="171.7" cy="97.8" r="0.5"/><circle cx="145.3" cy="115.5" r="0.5"/><circle cx="134.7" cy="134.2" r="0.5"/><circle cx="141.4" cy="110.5" r="0.5"/><circle cx="138.3" cy="106.5" r="0.5"/><circle cx="143.7" cy="94.4" r="0.5"/><circle cx="172.0" cy="94.8" r="0.5"/><circle cx="168.2" cy="108.5" r="0.5"/><circle cx="168.8" cy="122.4" r="0.5"/><circle cx="179.7" cy="112.3" r="0.5"/><circle cx="148.0" cy="113.2" r="0.5"/><circle cx="140.6" cy="106.5" r="0.5"/><circle cx="139.8" cy="101.4" r="0.5"/><circle cx="182.4" cy="108.2" r="0.5"/><circle cx="160.5" cy="98.7" r="0.5"/><circle cx="148.6" cy="98.4" r="0.5"/><circle cx="172.4" cy="97.1" r="0.5"/><circle cx="160.1" cy="93.2" r="0.5"/><circle cx="164.9" cy="113.9" r="0.5"/><circle cx="141.9" cy="122.4" r="0.5"/><circle cx="137.4" cy="133.4" r="0.5"/><circle cx="167.3" cy="122.5" r="0.5"/><circle cx="154.2" cy="130.5" r="0.5"/><circle cx="162.7" cy="120.1" r="0.5"/><circle cx="152.9" cy="111.6" r="0.5"/><circle cx="145.8" cy="107.6" r="0.5"/><circle cx="156.3" cy="128.7" r="0.5"/><circle cx="143.1" cy="112.5" r="0.5"/><circle cx="161.3" cy="118.0" r="0.5"/><circle cx="143.7" cy="96.2" r="0.5"/><circle cx="153.2" cy="114.9" r="0.5"/><circle cx="163.7" cy="87.8" r="0.5"/><circle cx="151.8" cy="112.5" r="0.5"/><circle cx="180.7" cy="81.2" r="0.5"/><circle cx="154.9" cy="97.1" r="0.5"/><circle cx="179.6" cy="84.6" r="0.5"/><circle cx="146.1" cy="120.3" r="0.5"/><circle cx="162.5" cy="81.2" r="0.5"/><circle cx="178.7" cy="105.6" r="0.5"/><circle cx="140.5" cy="107.9" r="0.5"/><circle cx="154.1" cy="88.7" r="0.5"/><circle cx="165.0" cy="121.8" r="0.5"/><circle cx="153.6" cy="111.2" r="0.5"/><circle cx="161.8" cy="82.6" r="0.5"/><circle cx="155.3" cy="118.4" r="0.5"/><circle cx="144.9" cy="119.7" r="0.5"/><circle cx="147.1" cy="115.8" r="0.5"/><circle cx="161.8" cy="118.9" r="0.5"/><circle cx="167.6" cy="120.8" r="0.5"/><circle cx="138.8" cy="115.6" r="0.5"/><circle cx="162.2" cy="83.5" r="0.5"/><circle cx="170.3" cy="93.2" r="0.5"/><circle cx="154.5" cy="110.4" r="0.5"/><circle cx="168.3" cy="124.4" r="0.5"/><circle cx="151.6" cy="112.9" r="0.5"/><circle cx="184.5" cy="98.8" r="0.5"/><circle cx="164.1" cy="111.3" r="0.5"/><circle cx="161.9" cy="120.5" r="0.5"/><circle cx="174.7" cy="83.7" r="0.5"/><circle cx="150.6" cy="133.0" r="0.5"/><circle cx="145.0" cy="124.6" r="0.5"/><circle cx="156.9" cy="118.7" r="0.5"/><circle cx="154.6" cy="108.6" r="0.5"/><circle cx="164.4" cy="112.6" r="0.5"/><circle cx="127.9" cy="135.6" r="0.5"/><circle cx="144.1" cy="109.0" r="0.5"/><circle cx="180.7" cy="96.1" r="0.5"/><circle cx="142.9" cy="127.1" r="0.5"/><circle cx="139.5" cy="118.7" r="0.5"/><circle cx="153.6" cy="99.1" r="0.5"/><circle cx="140.5" cy="101.1" r="0.5"/><circle cx="146.3" cy="94.5" r="0.5"/><circle cx="142.6" cy="116.5" r="0.5"/><circle cx="153.7" cy="86.8" r="0.5"/><circle cx="156.4" cy="95.6" r="0.5"/><circle cx="133.6" cy="125.5" r="0.5"/><circle cx="171.0" cy="111.5" r="0.5"/><circle cx="177.4" cy="98.4" r="0.5"/><circle cx="181.8" cy="82.5" r="0.5"/><circle cx="178.7" cy="104.6" r="0.5"/><circle cx="152.9" cy="132.7" r="0.5"/><circle cx="179.5" cy="88.7" r="0.5"/><circle cx="150.6" cy="110.2" r="0.5"/><circle cx="152.2" cy="98.0" r="0.5"/><circle cx="181.9" cy="107.6" r="0.5"/><circle cx="143.5" cy="125.1" r="0.5"/><circle cx="139.7" cy="104.5" r="0.5"/><circle cx="156.4" cy="119.1" r="0.5"/><circle cx="165.3" cy="110.2" r="0.5"/><circle cx="147.0" cy="88.5" r="0.5"/><circle cx="149.3" cy="80.6" r="0.5"/><circle cx="165.5" cy="99.6" r="0.5"/><circle cx="154.6" cy="92.2" r="0.5"/><circle cx="176.1" cy="108.0" r="0.5"/><circle cx="178.4" cy="113.5" r="0.5"/><circle cx="142.5" cy="121.4" r="0.5"/><circle cx="127.8" cy="131.6" r="0.5"/><circle cx="175.2" cy="114.4" r="0.5"/><circle cx="154.5" cy="125.5" r="0.5"/><circle cx="133.0" cy="135.0" r="0.5"/><circle cx="176.9" cy="108.0" r="0.5"/><circle cx="178.2" cy="97.2" r="0.5"/><circle cx="183.8" cy="98.7" r="0.5"/><circle cx="165.9" cy="82.3" r="0.5"/><circle cx="145.9" cy="100.0" r="0.5"/><circle cx="156.0" cy="101.6" r="0.5"/><circle cx="141.0" cy="103.9" r="0.5"/><circle cx="169.4" cy="123.7" r="0.5"/><circle cx="161.9" cy="107.6" r="0.5"/><circle cx="168.3" cy="104.8" r="0.5"/><circle cx="145.9" cy="103.9" r="0.5"/><circle cx="141.7" cy="125.3" r="0.5"/><circle cx="154.5" cy="89.9" r="0.5"/><circle cx="138.3" cy="117.1" r="0.5"/><circle cx="146.5" cy="97.3" r="0.5"/><circle cx="143.1" cy="115.2" r="0.5"/><circle cx="155.2" cy="108.3" r="0.5"/><circle cx="165.8" cy="107.4" r="0.5"/><circle cx="181.8" cy="105.4" r="0.5"/><circle cx="162.3" cy="114.2" r="0.5"/><circle cx="172.4" cy="121.3" r="0.5"/><circle cx="166.2" cy="99.1" r="0.5"/><circle cx="146.5" cy="105.3" r="0.5"/><circle cx="167.1" cy="92.7" r="0.5"/><circle cx="184.3" cy="90.7" r="0.5"/><circle cx="159.8" cy="117.4" r="0.5"/><circle cx="142.2" cy="131.6" r="0.5"/><circle cx="161.6" cy="121.2" r="0.5"/><circle cx="133.3" cy="128.3" r="0.5"/><circle cx="142.2" cy="115.9" r="0.5"/><circle cx="169.2" cy="98.7" r="0.5"/><circle cx="140.9" cy="99.2" r="0.5"/><circle cx="153.3" cy="112.6" r="0.5"/><circle cx="164.3" cy="95.2" r="0.5"/><circle cx="159.9" cy="114.7" r="0.5"/><circle cx="154.8" cy="104.5" r="0.5"/><circle cx="153.3" cy="101.6" r="0.5"/><circle cx="170.6" cy="113.4" r="0.5"/><circle cx="132.4" cy="135.4" r="0.5"/><circle cx="156.6" cy="123.4" r="0.5"/><circle cx="157.8" cy="114.1" r="0.5"/><circle cx="159.6" cy="86.7" r="0.5"/><circle cx="132.8" cy="122.4" r="0.5"/><circle cx="146.0" cy="87.5" r="0.5"/><circle cx="170.8" cy="102.5" r="0.5"/><circle cx="132.9" cy="124.1" r="0.5"/><circle cx="137.9" cy="118.8" r="0.5"/><circle cx="166.8" cy="95.9" r="0.5"/><circle cx="172.4" cy="114.1" r="0.5"/><circle cx="184.1" cy="93.3" r="0.5"/><circle cx="168.9" cy="105.2" r="0.5"/><circle cx="159.8" cy="97.5" r="0.5"/><circle cx="138.8" cy="111.8" r="0.5"/><circle cx="161.2" cy="109.0" r="0.5"/><circle cx="164.1" cy="116.4" r="0.5"/><circle cx="149.5" cy="95.5" r="0.5"/><circle cx="165.9" cy="102.4" r="0.5"/><circle cx="146.5" cy="119.8" r="0.5"/><circle cx="164.4" cy="108.4" r="0.5"/><circle cx="174.0" cy="98.9" r="0.5"/><circle cx="146.1" cy="123.6" r="0.5"/><circle cx="165.8" cy="104.7" r="0.5"/><circle cx="178.4" cy="81.5" r="0.5"/><circle cx="157.2" cy="129.8" r="0.5"/><circle cx="177.7" cy="91.2" r="0.5"/><circle cx="173.4" cy="110.9" r="0.5"/><circle cx="181.1" cy="99.0" r="0.5"/><circle cx="164.9" cy="117.2" r="0.5"/><circle cx="184.4" cy="99.7" r="0.5"/><circle cx="148.4" cy="87.2" r="0.5"/><circle cx="166.0" cy="84.1" r="0.5"/><circle cx="176.0" cy="88.5" r="0.5"/><circle cx="136.4" cy="135.1" r="0.5"/><circle cx="154.9" cy="123.8" r="0.5"/><circle cx="145.7" cy="94.1" r="0.5"/><circle cx="136.5" cy="132.5" r="0.5"/><circle cx="140.9" cy="122.4" r="0.5"/><circle cx="179.3" cy="114.4" r="0.5"/><circle cx="138.2" cy="115.4" r="0.5"/><circle cx="162.8" cy="82.8" r="0.5"/><circle cx="140.4" cy="108.6" r="0.5"/><circle cx="165.5" cy="98.4" r="0.5"/><circle cx="159.9" cy="110.6" r="0.5"/><circle cx="172.3" cy="113.4" r="0.5"/><circle cx="163.3" cy="112.7" r="0.5"/><circle cx="174.4" cy="85.6" r="0.5"/><circle cx="131.8" cy="130.2" r="0.5"/><circle cx="175.0" cy="80.5" r="0.5"/><circle cx="178.6" cy="115.3" r="0.5"/><circle cx="147.6" cy="86.6" r="0.5"/><circle cx="170.9" cy="121.2" r="0.5"/><circle cx="153.2" cy="95.7" r="0.5"/><circle cx="146.8" cy="134.3" r="0.5"/><circle cx="152.8" cy="92.2" r="0.5"/><circle cx="168.8" cy="102.4" r="0.5"/><circle cx="153.4" cy="119.7" r="0.5"/><circle cx="141.4" cy="114.5" r="0.5"/><circle cx="157.7" cy="104.8" r="0.5"/><circle cx="178.7" cy="88.3" r="0.5"/><circle cx="180.0" cy="95.2" r="0.5"/><circle cx="145.6" cy="86.2" r="0.5"/><circle cx="146.7" cy="128.5" r="0.5"/><circle cx="145.1" cy="89.6" r="0.5"/><circle cx="165.8" cy="110.3" r="0.5"/><circle cx="142.5" cy="94.8" r="0.5"/><circle cx="151.3" cy="84.3" r="0.5"/><circle cx="156.4" cy="94.8" r="0.5"/><circle cx="171.3" cy="95.5" r="0.5"/><circle cx="180.8" cy="93.2" r="0.5"/><circle cx="180.7" cy="107.4" r="0.5"/><circle cx="178.1" cy="106.9" r="0.5"/><circle cx="157.5" cy="95.0" r="0.5"/><circle cx="170.4" cy="101.3" r="0.5"/><circle cx="150.7" cy="81.8" r="0.5"/><circle cx="141.1" cy="104.2" r="0.5"/><circle cx="147.2" cy="113.8" r="0.5"/><circle cx="166.3" cy="119.8" r="0.5"/><circle cx="172.4" cy="106.7" r="0.5"/><circle cx="158.1" cy="114.7" r="0.5"/><circle cx="143.5" cy="118.5" r="0.5"/><circle cx="182.0" cy="82.5" r="0.5"/><circle cx="174.6" cy="112.4" r="0.5"/><circle cx="133.6" cy="123.2" r="0.5"/><circle cx="162.2" cy="87.6" r="0.5"/><circle cx="175.0" cy="117.7" r="0.5"/><circle cx="168.8" cy="95.5" r="0.5"/><circle cx="150.4" cy="102.0" r="0.5"/><circle cx="148.5" cy="132.9" r="0.5"/><circle cx="151.2" cy="126.4" r="0.5"/><circle cx="162.8" cy="84.8" r="0.5"/><circle cx="137.6" cy="113.5" r="0.5"/><circle cx="172.4" cy="93.5" r="0.5"/><circle cx="140.0" cy="101.9" r="0.5"/><circle cx="152.5" cy="104.4" r="0.5"/><circle cx="141.7" cy="100.0" r="0.5"/><circle cx="155.5" cy="89.3" r="0.5"/><circle cx="148.5" cy="83.8" r="0.5"/><circle cx="178.9" cy="114.6" r="0.5"/><circle cx="148.1" cy="112.5" r="0.5"/><circle cx="158.3" cy="90.2" r="0.5"/><circle cx="157.4" cy="108.8" r="0.5"/><circle cx="175.2" cy="117.2" r="0.5"/><circle cx="144.7" cy="93.8" r="0.5"/><circle cx="162.8" cy="112.1" r="0.5"/><circle cx="142.9" cy="107.3" r="0.5"/><circle cx="149.4" cy="116.4" r="0.5"/><circle cx="177.7" cy="101.6" r="0.5"/><circle cx="157.3" cy="112.6" r="0.5"/><circle cx="165.0" cy="94.1" r="0.5"/><circle cx="139.8" cy="133.5" r="0.5"/><circle cx="133.7" cy="119.5" r="0.5"/><circle cx="140.6" cy="108.5" r="0.5"/><circle cx="152.1" cy="93.9" r="0.5"/><circle cx="135.6" cy="135.5" r="0.5"/><circle cx="169.3" cy="101.5" r="0.5"/><circle cx="136.7" cy="125.0" r="0.5"/><circle cx="183.9" cy="92.0" r="0.5"/><circle cx="167.4" cy="103.0" r="0.5"/><circle cx="167.3" cy="88.9" r="0.5"/><circle cx="130.3" cy="137.5" r="0.5"/><circle cx="167.9" cy="105.5" r="0.5"/><circle cx="155.0" cy="84.3" r="0.5"/><circle cx="133.7" cy="135.2" r="0.5"/><circle cx="166.0" cy="104.8" r="0.5"/><circle cx="152.8" cy="93.5" r="0.5"/><circle cx="168.6" cy="104.9" r="0.5"/><circle cx="154.5" cy="102.9" r="0.5"/><circle cx="152.9" cy="98.9" r="0.5"/><circle cx="173.1" cy="87.8" r="0.5"/><circle cx="165.2" cy="127.5" r="0.5"/><circle cx="145.7" cy="131.6" r="0.5"/><circle cx="181.4" cy="84.1" r="0.5"/><circle cx="162.5" cy="102.1" r="0.5"/><circle cx="153.0" cy="111.8" r="0.5"/><circle cx="176.6" cy="116.6" r="0.5"/><circle cx="178.3" cy="94.4" r="0.5"/><circle cx="172.8" cy="102.7" r="0.5"/><circle cx="135.9" cy="126.6" r="0.5"/><circle cx="159.6" cy="93.1" r="0.5"/><circle cx="178.6" cy="108.5" r="0.5"/><circle cx="144.6" cy="111.5" r="0.5"/><circle cx="157.8" cy="96.6" r="0.5"/><circle cx="166.8" cy="95.4" r="0.5"/><circle cx="166.0" cy="115.7" r="0.5"/><circle cx="147.1" cy="118.9" r="0.5"/><circle cx="147.6" cy="125.3" r="0.5"/><circle cx="148.3" cy="127.8" r="0.5"/><circle cx="144.8" cy="87.3" r="0.5"/><circle cx="150.0" cy="93.9" r="0.5"/><circle cx="154.8" cy="87.7" r="0.5"/><circle cx="161.3" cy="97.4" r="0.5"/><circle cx="165.2" cy="95.9" r="0.5"/><circle cx="170.6" cy="99.6" r="0.5"/><circle cx="177.2" cy="104.6" r="0.5"/><circle cx="166.5" cy="123.5" r="0.5"/><circle cx="167.2" cy="123.7" r="0.5"/><circle cx="145.5" cy="88.8" r="0.5"/><circle cx="147.1" cy="135.6" r="0.5"/><circle cx="143.6" cy="105.5" r="0.5"/><circle cx="177.2" cy="90.0" r="0.5"/><circle cx="145.4" cy="122.1" r="0.5"/><circle cx="152.2" cy="117.5" r="0.5"/><circle cx="155.8" cy="100.9" r="0.5"/><circle cx="149.5" cy="82.4" r="0.5"/><circle cx="172.0" cy="109.4" r="0.5"/><circle cx="169.9" cy="123.6" r="0.5"/><circle cx="133.7" cy="127.7" r="0.5"/><circle cx="143.2" cy="102.4" r="0.5"/><circle cx="169.1" cy="97.1" r="0.5"/><circle cx="132.8" cy="134.7" r="0.5"/><circle cx="151.3" cy="89.9" r="0.5"/><circle cx="180.5" cy="113.1" r="0.5"/><circle cx="175.5" cy="108.5" r="0.5"/><circle cx="176.4" cy="114.2" r="0.5"/><circle cx="171.3" cy="115.4" r="0.5"/><circle cx="170.1" cy="110.9" r="0.5"/><circle cx="180.5" cy="110.5" r="0.5"/><circle cx="154.5" cy="106.4" r="0.5"/><circle cx="162.8" cy="115.7" r="0.5"/><circle cx="154.3" cy="132.4" r="0.5"/><circle cx="168.5" cy="121.7" r="0.5"/><circle cx="136.8" cy="108.5" r="0.5"/><circle cx="182.0" cy="93.4" r="0.5"/><circle cx="149.3" cy="81.4" r="0.5"/><circle cx="135.6" cy="117.4" r="0.5"/><circle cx="167.6" cy="100.6" r="0.5"/><circle cx="161.0" cy="89.5" r="0.5"/><circle cx="164.5" cy="125.3" r="0.5"/><circle cx="172.0" cy="112.6" r="0.5"/><circle cx="159.4" cy="80.1" r="0.5"/><circle cx="141.0" cy="103.6" r="0.5"/><circle cx="158.7" cy="120.0" r="0.5"/><circle cx="177.1" cy="116.8" r="0.5"/><circle cx="150.6" cy="102.8" r="0.5"/><circle cx="134.1" cy="127.5" r="0.5"/><circle cx="163.6" cy="99.9" r="0.5"/><circle cx="166.7" cy="95.9" r="0.5"/><circle cx="169.7" cy="112.4" r="0.5"/><circle cx="160.1" cy="83.3" r="0.5"/><circle cx="170.7" cy="97.0" r="0.5"/><circle cx="168.4" cy="86.8" r="0.5"/><circle cx="157.8" cy="100.0" r="0.5"/><circle cx="153.3" cy="96.8" r="0.5"/><circle cx="144.9" cy="87.2" r="0.5"/><circle cx="126.3" cy="136.5" r="0.5"/><circle cx="128.3" cy="131.8" r="0.5"/><circle cx="150.2" cy="87.0" r="0.5"/><circle cx="150.7" cy="109.4" r="0.5"/><circle cx="181.8" cy="98.3" r="0.5"/><circle cx="176.9" cy="100.0" r="0.5"/><circle cx="162.3" cy="91.5" r="0.5"/><circle cx="153.8" cy="98.9" r="0.5"/><circle cx="153.8" cy="115.7" r="0.5"/><circle cx="155.5" cy="127.0" r="0.5"/><circle cx="155.4" cy="91.2" r="0.5"/><circle cx="165.2" cy="95.7" r="0.5"/><circle cx="154.1" cy="81.9" r="0.5"/><circle cx="146.6" cy="135.7" r="0.5"/><circle cx="155.6" cy="101.3" r="0.5"/><circle cx="152.4" cy="120.5" r="0.5"/><circle cx="155.2" cy="103.5" r="0.5"/><circle cx="159.8" cy="96.0" r="0.5"/><circle cx="166.0" cy="104.6" r="0.5"/><circle cx="167.3" cy="100.2" r="0.5"/><circle cx="163.3" cy="91.4" r="0.5"/><circle cx="154.1" cy="108.6" r="0.5"/><circle cx="152.6" cy="124.4" r="0.5"/><circle cx="133.3" cy="126.0" r="0.5"/><circle cx="133.3" cy="132.7" r="0.5"/><circle cx="160.7" cy="120.8" r="0.5"/><circle cx="156.8" cy="112.1" r="0.5"/></g>
<g fill="#b8121a" fill-opacity="0.6"><circle cx="155.9" cy="126.3" r="0.45"/><circle cx="153.2" cy="81.5" r="0.45"/><circle cx="163.2" cy="107.8" r="0.45"/><circle cx="169.0" cy="120.2" r="0.45"/><circle cx="145.0" cy="122.1" r="0.45"/><circle cx="163.4" cy="92.7" r="0.45"/><circle cx="177.1" cy="107.4" r="0.45"/><circle cx="156.9" cy="91.5" r="0.45"/><circle cx="174.9" cy="107.5" r="0.45"/><circle cx="156.1" cy="113.9" r="0.45"/><circle cx="152.8" cy="93.8" r="0.45"/><circle cx="153.2" cy="84.6" r="0.45"/><circle cx="151.3" cy="99.8" r="0.45"/><circle cx="139.5" cy="125.0" r="0.45"/><circle cx="162.0" cy="124.8" r="0.45"/><circle cx="150.7" cy="90.8" r="0.45"/><circle cx="148.1" cy="112.9" r="0.45"/><circle cx="150.7" cy="109.3" r="0.45"/><circle cx="149.0" cy="90.9" r="0.45"/><circle cx="168.9" cy="97.0" r="0.45"/><circle cx="166.2" cy="117.5" r="0.45"/><circle cx="154.0" cy="131.3" r="0.45"/><circle cx="184.2" cy="99.3" r="0.45"/><circle cx="149.7" cy="127.6" r="0.45"/><circle cx="175.1" cy="81.5" r="0.45"/><circle cx="143.4" cy="95.3" r="0.45"/><circle cx="140.3" cy="99.7" r="0.45"/><circle cx="152.2" cy="110.8" r="0.45"/><circle cx="184.1" cy="86.3" r="0.45"/><circle cx="133.0" cy="132.4" r="0.45"/><circle cx="142.3" cy="111.2" r="0.45"/><circle cx="143.3" cy="131.9" r="0.45"/><circle cx="181.1" cy="113.1" r="0.45"/><circle cx="167.2" cy="112.8" r="0.45"/><circle cx="141.8" cy="103.0" r="0.45"/><circle cx="174.5" cy="102.5" r="0.45"/><circle cx="153.0" cy="89.7" r="0.45"/><circle cx="167.8" cy="104.2" r="0.45"/><circle cx="148.1" cy="124.9" r="0.45"/><circle cx="163.5" cy="122.8" r="0.45"/><circle cx="178.2" cy="109.5" r="0.45"/><circle cx="149.4" cy="87.5" r="0.45"/><circle cx="142.3" cy="114.0" r="0.45"/><circle cx="183.1" cy="103.6" r="0.45"/><circle cx="147.0" cy="83.3" r="0.45"/><circle cx="129.9" cy="132.8" r="0.45"/><circle cx="178.7" cy="87.7" r="0.45"/><circle cx="129.9" cy="136.9" r="0.45"/><circle cx="171.5" cy="84.1" r="0.45"/><circle cx="154.5" cy="87.7" r="0.45"/><circle cx="177.5" cy="110.9" r="0.45"/><circle cx="133.5" cy="121.6" r="0.45"/><circle cx="143.0" cy="131.8" r="0.45"/><circle cx="142.1" cy="122.9" r="0.45"/><circle cx="154.7" cy="93.9" r="0.45"/><circle cx="154.5" cy="105.0" r="0.45"/><circle cx="156.9" cy="120.6" r="0.45"/><circle cx="145.4" cy="115.7" r="0.45"/><circle cx="136.9" cy="110.3" r="0.45"/><circle cx="139.4" cy="125.6" r="0.45"/><circle cx="157.5" cy="93.2" r="0.45"/><circle cx="132.3" cy="131.8" r="0.45"/><circle cx="143.6" cy="92.5" r="0.45"/><circle cx="148.9" cy="128.8" r="0.45"/><circle cx="157.7" cy="99.4" r="0.45"/><circle cx="155.1" cy="83.4" r="0.45"/><circle cx="163.8" cy="126.6" r="0.45"/><circle cx="142.5" cy="112.6" r="0.45"/><circle cx="134.8" cy="134.3" r="0.45"/><circle cx="155.7" cy="90.2" r="0.45"/><circle cx="137.7" cy="129.0" r="0.45"/><circle cx="162.6" cy="116.1" r="0.45"/><circle cx="177.7" cy="98.3" r="0.45"/><circle cx="141.7" cy="113.1" r="0.45"/><circle cx="137.2" cy="120.5" r="0.45"/><circle cx="153.6" cy="91.6" r="0.45"/><circle cx="159.0" cy="126.5" r="0.45"/><circle cx="144.8" cy="101.3" r="0.45"/><circle cx="179.2" cy="95.0" r="0.45"/><circle cx="162.4" cy="112.9" r="0.45"/><circle cx="150.1" cy="132.1" r="0.45"/><circle cx="127.3" cy="132.6" r="0.45"/><circle cx="165.8" cy="127.0" r="0.45"/><circle cx="151.9" cy="114.1" r="0.45"/><circle cx="174.5" cy="93.0" r="0.45"/><circle cx="136.0" cy="123.7" r="0.45"/><circle cx="177.6" cy="93.2" r="0.45"/><circle cx="157.8" cy="109.4" r="0.45"/><circle cx="143.7" cy="128.9" r="0.45"/><circle cx="142.0" cy="125.2" r="0.45"/><circle cx="149.7" cy="88.5" r="0.45"/><circle cx="182.7" cy="88.6" r="0.45"/><circle cx="146.0" cy="81.5" r="0.45"/><circle cx="134.3" cy="134.6" r="0.45"/><circle cx="140.3" cy="121.5" r="0.45"/><circle cx="182.2" cy="106.5" r="0.45"/><circle cx="163.5" cy="98.3" r="0.45"/><circle cx="167.7" cy="99.8" r="0.45"/><circle cx="158.7" cy="90.9" r="0.45"/><circle cx="158.5" cy="82.4" r="0.45"/><circle cx="159.5" cy="107.5" r="0.45"/><circle cx="148.8" cy="123.4" r="0.45"/><circle cx="159.7" cy="121.2" r="0.45"/><circle cx="151.6" cy="103.2" r="0.45"/><circle cx="168.4" cy="90.5" r="0.45"/><circle cx="145.5" cy="93.9" r="0.45"/><circle cx="137.4" cy="130.1" r="0.45"/><circle cx="143.7" cy="122.7" r="0.45"/><circle cx="127.9" cy="133.6" r="0.45"/><circle cx="153.1" cy="123.2" r="0.45"/></g>
<g fill="#a0141a" fill-opacity="1.0"><circle cx="115.0" cy="130.7" r="0.5"/><circle cx="134.7" cy="124.1" r="0.5"/><circle cx="137.6" cy="124.1" r="0.5"/><circle cx="114.4" cy="136.2" r="0.5"/><circle cx="135.0" cy="127.4" r="0.5"/><circle cx="131.5" cy="133.8" r="0.5"/><circle cx="135.4" cy="122.0" r="0.5"/><circle cx="134.1" cy="129.0" r="0.5"/><circle cx="126.2" cy="136.8" r="0.5"/><circle cx="136.5" cy="128.6" r="0.5"/><circle cx="115.7" cy="130.9" r="0.5"/><circle cx="127.9" cy="128.5" r="0.5"/><circle cx="130.0" cy="135.2" r="0.5"/><circle cx="138.6" cy="124.5" r="0.5"/><circle cx="138.7" cy="124.8" r="0.5"/><circle cx="121.8" cy="133.9" r="0.5"/><circle cx="120.8" cy="131.0" r="0.5"/><circle cx="115.5" cy="136.3" r="0.5"/><circle cx="127.9" cy="126.8" r="0.5"/><circle cx="134.2" cy="127.3" r="0.5"/><circle cx="133.3" cy="131.5" r="0.5"/><circle cx="119.8" cy="134.6" r="0.5"/><circle cx="122.7" cy="133.7" r="0.5"/><circle cx="130.7" cy="130.1" r="0.5"/><circle cx="134.0" cy="129.6" r="0.5"/><circle cx="127.1" cy="123.4" r="0.5"/><circle cx="133.8" cy="120.2" r="0.5"/><circle cx="114.7" cy="131.2" r="0.5"/><circle cx="117.4" cy="127.8" r="0.5"/><circle cx="119.3" cy="128.1" r="0.5"/><circle cx="129.3" cy="122.1" r="0.5"/><circle cx="117.8" cy="136.5" r="0.5"/><circle cx="115.3" cy="131.4" r="0.5"/><circle cx="130.8" cy="132.7" r="0.5"/><circle cx="129.7" cy="124.2" r="0.5"/><circle cx="129.0" cy="133.5" r="0.5"/><circle cx="128.1" cy="124.9" r="0.5"/><circle cx="136.6" cy="122.7" r="0.5"/><circle cx="114.8" cy="128.6" r="0.5"/><circle cx="124.4" cy="130.0" r="0.5"/><circle cx="117.7" cy="137.5" r="0.5"/><circle cx="127.0" cy="126.2" r="0.5"/><circle cx="132.9" cy="118.8" r="0.5"/><circle cx="119.2" cy="127.5" r="0.5"/><circle cx="128.3" cy="130.7" r="0.5"/><circle cx="123.2" cy="126.0" r="0.5"/><circle cx="132.1" cy="132.7" r="0.5"/><circle cx="119.2" cy="130.8" r="0.5"/><circle cx="129.2" cy="124.6" r="0.5"/><circle cx="137.6" cy="126.7" r="0.5"/><circle cx="131.8" cy="119.4" r="0.5"/><circle cx="139.0" cy="125.2" r="0.5"/><circle cx="130.5" cy="128.0" r="0.5"/><circle cx="116.0" cy="128.6" r="0.5"/><circle cx="126.0" cy="122.2" r="0.5"/><circle cx="116.6" cy="131.1" r="0.5"/><circle cx="116.3" cy="133.8" r="0.5"/><circle cx="114.3" cy="135.4" r="0.5"/><circle cx="129.2" cy="131.5" r="0.5"/><circle cx="132.5" cy="131.2" r="0.5"/><circle cx="127.3" cy="128.9" r="0.5"/><circle cx="131.3" cy="126.7" r="0.5"/><circle cx="124.6" cy="135.8" r="0.5"/><circle cx="122.8" cy="133.3" r="0.5"/><circle cx="118.6" cy="130.8" r="0.5"/><circle cx="125.1" cy="130.3" r="0.5"/><circle cx="118.9" cy="134.5" r="0.5"/><circle cx="133.9" cy="126.0" r="0.5"/><circle cx="129.0" cy="127.3" r="0.5"/><circle cx="127.0" cy="123.6" r="0.5"/></g>
</g>
<path d="M134.8,66.0 C135.5,64.8 136.5,64.0 137.5,63.6 C138.5,63.2 139.8,63.1 140.6,63.4 C141.4,63.7 142.2,64.3 142.6,65.5 C143.0,66.7 142.9,68.8 142.8,70.5 C142.7,72.2 142.5,74.2 142.0,75.5 C141.5,76.8 140.7,78.1 139.8,78.6 C138.9,79.1 137.7,79.1 136.8,78.6 C135.9,78.1 134.9,76.8 134.3,75.5 C133.8,74.2 133.4,72.1 133.5,70.5 C133.6,68.9 134.1,67.2 134.8,66.0Z" fill="#c5d7ef" filter="url(#bl05)"/>
<g fill="#e0282e" fill-opacity="0.8"><circle cx="139.4" cy="96.4" r="0.45"/><circle cx="128.7" cy="111.3" r="0.45"/><circle cx="133.2" cy="106.8" r="0.45"/><circle cx="135.4" cy="106.1" r="0.45"/><circle cx="139.7" cy="97.1" r="0.45"/><circle cx="139.0" cy="99.2" r="0.45"/><circle cx="135.0" cy="105.8" r="0.45"/><circle cx="136.7" cy="104.1" r="0.45"/><circle cx="128.4" cy="109.6" r="0.45"/><circle cx="130.6" cy="106.5" r="0.45"/><circle cx="129.4" cy="106.4" r="0.45"/><circle cx="137.6" cy="102.4" r="0.45"/><circle cx="139.1" cy="95.9" r="0.45"/><circle cx="135.1" cy="105.3" r="0.45"/><circle cx="136.8" cy="97.7" r="0.45"/><circle cx="132.9" cy="106.3" r="0.45"/><circle cx="135.5" cy="100.6" r="0.45"/><circle cx="131.8" cy="108.9" r="0.45"/><circle cx="128.8" cy="111.5" r="0.45"/><circle cx="129.9" cy="104.2" r="0.45"/><circle cx="136.4" cy="101.9" r="0.45"/><circle cx="137.0" cy="101.6" r="0.45"/><circle cx="134.2" cy="107.2" r="0.45"/><circle cx="135.0" cy="105.9" r="0.45"/><circle cx="132.6" cy="106.0" r="0.45"/><circle cx="137.3" cy="101.5" r="0.45"/><circle cx="135.9" cy="98.3" r="0.45"/><circle cx="129.8" cy="107.6" r="0.45"/><circle cx="131.4" cy="104.5" r="0.45"/><circle cx="133.6" cy="102.3" r="0.45"/></g>
<text x="42.00" y="78.12" font-size="6.73" fill="#1e1e1e" textLength="16.36" lengthAdjust="spacingAndGlyphs" >T cells</text>
<text x="95.00" y="68.72" font-size="6.73" fill="#1e1e1e" text-anchor="middle" textLength="33.9" lengthAdjust="spacingAndGlyphs" >granulocytes,</text>
<text x="95.00" y="75.62" font-size="6.73" fill="#1e1e1e" text-anchor="middle" textLength="27.56" lengthAdjust="spacingAndGlyphs" >monocytes</text>
<text x="121.60" y="97.72" font-size="6.73" fill="#1e1e1e" textLength="12.35" lengthAdjust="spacingAndGlyphs" >Mast</text>
<text x="122.00" y="105.12" font-size="6.73" fill="#1e1e1e" textLength="11.4" lengthAdjust="spacingAndGlyphs" >cells</text>
<text x="129.30" y="62.78" font-size="7.2" fill="#1e1e1e" textLength="13.22" lengthAdjust="spacingAndGlyphs" >MEP</text>
<text x="152.00" y="43.72" font-size="6.73" fill="#1e1e1e" textLength="12.67" lengthAdjust="spacingAndGlyphs" >ProE</text>
<text x="172.00" y="86.12" font-size="6.73" fill="#1e1e1e" textLength="16.79" lengthAdjust="spacingAndGlyphs" >BasoE</text>
<text x="181.80" y="116.62" font-size="6.73" fill="#1e1e1e" textLength="14.89" lengthAdjust="spacingAndGlyphs" >PolyE</text>
<text x="154.00" y="138.92" font-size="6.73" fill="#1e1e1e" textLength="18.06" lengthAdjust="spacingAndGlyphs" >OrthoE</text>
<text x="81.50" y="127.12" font-size="6.73" fill="#1e1e1e" textLength="16.79" lengthAdjust="spacingAndGlyphs" >B cells</text>
<text x="74.80" y="144.50" font-size="6.96" fill="#1e1e1e" textLength="32.79" lengthAdjust="spacingAndGlyphs" >reticulocytes</text>
<line x1="35" y1="31.5" x2="35" y2="147" stroke="#262626" stroke-width="1.2"/>
<line x1="32.0" y1="47.3" x2="35" y2="47.3" stroke="#262626" stroke-width="0.8"/>
<text x="29.20" y="49.37" font-size="6" fill="#2a2a2a" text-anchor="end" >10</text>
<line x1="32.0" y1="71" x2="35" y2="71" stroke="#262626" stroke-width="0.8"/>
<text x="29.20" y="73.07" font-size="6" fill="#2a2a2a" text-anchor="end" >5</text>
<line x1="32.0" y1="94.4" x2="35" y2="94.4" stroke="#262626" stroke-width="0.8"/>
<text x="29.20" y="96.47" font-size="6" fill="#2a2a2a" text-anchor="end" >0</text>
<line x1="32.0" y1="118.3" x2="35" y2="118.3" stroke="#262626" stroke-width="0.8"/>
<text x="29.20" y="120.37" font-size="6" fill="#2a2a2a" text-anchor="end" >−5</text>
<line x1="32.0" y1="141.5" x2="35" y2="141.5" stroke="#262626" stroke-width="0.8"/>
<text x="29.20" y="143.57" font-size="6" fill="#2a2a2a" text-anchor="end" >−10</text>
<line x1="35" y1="147" x2="199" y2="147" stroke="#262626" stroke-width="1.2"/>
<line x1="38.7" y1="147" x2="38.7" y2="150.0" stroke="#262626" stroke-width="0.8"/>
<text x="38.70" y="158.57" font-size="6" fill="#2a2a2a" text-anchor="middle" >−15</text>
<line x1="72" y1="147" x2="72" y2="150.0" stroke="#262626" stroke-width="0.8"/>
<text x="72.00" y="158.57" font-size="6" fill="#2a2a2a" text-anchor="middle" >−10</text>
<line x1="105.6" y1="147" x2="105.6" y2="150.0" stroke="#262626" stroke-width="0.8"/>
<text x="105.60" y="158.57" font-size="6" fill="#2a2a2a" text-anchor="middle" >−5</text>
<line x1="139.2" y1="147" x2="139.2" y2="150.0" stroke="#262626" stroke-width="0.8"/>
<text x="139.20" y="158.57" font-size="6" fill="#2a2a2a" text-anchor="middle" >0</text>
<line x1="172.6" y1="147" x2="172.6" y2="150.0" stroke="#262626" stroke-width="0.8"/>
<text x="172.60" y="158.57" font-size="6" fill="#2a2a2a" text-anchor="middle" >5</text>
<text x="14.19" y="89.70" font-size="8.8" fill="#1e1e1e" text-anchor="middle" textLength="20.2" lengthAdjust="spacingAndGlyphs" transform="rotate(-90 14.19 89.70)" stroke="#1e1e1e" stroke-width="0.25">UMAP 2</text>
<text x="116.40" y="170.34" font-size="8.8" fill="#1e1e1e" text-anchor="middle" textLength="19.8" lengthAdjust="spacingAndGlyphs" stroke="#1e1e1e" stroke-width="0.25">UMAP 1</text>
<rect x="259.60" y="12.20" width="5.20" height="5.00" fill="#cfe9df" stroke="#3a3a3a" stroke-width="0.7" />
<rect x="259.60" y="23.30" width="5.20" height="5.00" fill="#a3124a" stroke="#3a3a3a" stroke-width="0.7" />
<text x="268.00" y="13.44" font-size="7.08" fill="#1e1e1e" textLength="21.34" lengthAdjust="spacingAndGlyphs" >immune</text>
<text x="268.00" y="20.94" font-size="7.08" fill="#1e1e1e" textLength="28.68" lengthAdjust="spacingAndGlyphs" >associated</text>
<text x="268.00" y="28.44" font-size="7.08" fill="#1e1e1e" textLength="30.67" lengthAdjust="spacingAndGlyphs" >erythrocytic</text>
<rect x="313.70" y="7.45" width="5.00" height="4.90" fill="#5e0b16" stroke="#3a3a3a" stroke-width="0.7" />
<text x="322.00" y="12.34" font-size="7.08" fill="#1e1e1e" textLength="33.34" lengthAdjust="spacingAndGlyphs" >reticulocytes</text>
<rect x="313.70" y="15.31" width="5.00" height="4.90" fill="#a8121c" stroke="#3a3a3a" stroke-width="0.7" />
<text x="322.00" y="20.20" font-size="7.08" fill="#1e1e1e" textLength="19.01" lengthAdjust="spacingAndGlyphs" >OrthoE</text>
<rect x="313.70" y="23.17" width="5.00" height="4.90" fill="#e8161f" stroke="#3a3a3a" stroke-width="0.7" />
<text x="322.00" y="28.06" font-size="7.08" fill="#1e1e1e" textLength="15.67" lengthAdjust="spacingAndGlyphs" >PolyE</text>
<rect x="313.70" y="31.03" width="5.00" height="4.90" fill="#ec6670" stroke="#3a3a3a" stroke-width="0.7" />
<text x="322.00" y="35.92" font-size="7.08" fill="#1e1e1e" textLength="17.68" lengthAdjust="spacingAndGlyphs" >BasoE</text>
<rect x="313.70" y="38.89" width="5.00" height="4.90" fill="#f8d0d2" stroke="#3a3a3a" stroke-width="0.7" />
<text x="322.00" y="43.78" font-size="7.08" fill="#1e1e1e" textLength="13.34" lengthAdjust="spacingAndGlyphs" >ProE</text>
<rect x="313.70" y="46.75" width="5.00" height="4.90" fill="#d2e2f2" stroke="#3a3a3a" stroke-width="0.7" />
<text x="322.00" y="51.64" font-size="7.08" fill="#1e1e1e" textLength="13.0" lengthAdjust="spacingAndGlyphs" >MEP</text>
<rect x="363.70" y="7.45" width="5.00" height="4.90" fill="#6a98d0" stroke="#3a3a3a" stroke-width="0.7" />
<text x="371.00" y="12.34" font-size="7.08" fill="#1e1e1e" textLength="24.01" lengthAdjust="spacingAndGlyphs" >lymphoid</text>
<rect x="363.70" y="15.31" width="5.00" height="4.90" fill="#1b6b36" stroke="#3a3a3a" stroke-width="0.7" />
<text x="371.00" y="20.20" font-size="7.08" fill="#1e1e1e" textLength="20.67" lengthAdjust="spacingAndGlyphs" >myeloid</text>
<line x1="250" y1="36" x2="250" y2="147" stroke="#262626" stroke-width="1.2"/>
<line x1="247.0" y1="38.3" x2="250" y2="38.3" stroke="#262626" stroke-width="0.8"/>
<text x="244.20" y="40.37" font-size="6" fill="#2a2a2a" text-anchor="end" >125</text>
<line x1="247.0" y1="60.03999999999999" x2="250" y2="60.03999999999999" stroke="#262626" stroke-width="0.8"/>
<text x="244.20" y="62.11" font-size="6" fill="#2a2a2a" text-anchor="end" >100</text>
<line x1="247.0" y1="81.78" x2="250" y2="81.78" stroke="#262626" stroke-width="0.8"/>
<text x="244.20" y="83.85" font-size="6" fill="#2a2a2a" text-anchor="end" >75</text>
<line x1="247.0" y1="103.52" x2="250" y2="103.52" stroke="#262626" stroke-width="0.8"/>
<text x="244.20" y="105.59" font-size="6" fill="#2a2a2a" text-anchor="end" >50</text>
<line x1="247.0" y1="125.25999999999999" x2="250" y2="125.25999999999999" stroke="#262626" stroke-width="0.8"/>
<text x="244.20" y="127.33" font-size="6" fill="#2a2a2a" text-anchor="end" >25</text>
<line x1="247.0" y1="147.0" x2="250" y2="147.0" stroke="#262626" stroke-width="0.8"/>
<text x="244.20" y="149.07" font-size="6" fill="#2a2a2a" text-anchor="end" >0</text>
<text x="229.43" y="93.50" font-size="8.2" fill="#1e1e1e" text-anchor="middle" textLength="67" lengthAdjust="spacingAndGlyphs" transform="rotate(-90 229.43 93.50)" stroke="#1e1e1e" stroke-width="0.25">% of all cells (mean ± SD)</text>
<line x1="250" y1="147" x2="406.7" y2="147" stroke="#262626" stroke-width="1.2"/>
<line x1="265" y1="147" x2="265" y2="150.0" stroke="#262626" stroke-width="0.8"/>
<text x="265.00" y="158.78" font-size="6.6" fill="#2a2a2a" text-anchor="middle" >HC</text>
<line x1="283.3" y1="147" x2="283.3" y2="150.0" stroke="#262626" stroke-width="0.8"/>
<text x="283.30" y="158.78" font-size="6.6" fill="#2a2a2a" text-anchor="middle" >PV</text>
<line x1="300.9" y1="147" x2="300.9" y2="150.0" stroke="#262626" stroke-width="0.8"/>
<line x1="319.2" y1="147" x2="319.2" y2="150.0" stroke="#262626" stroke-width="0.8"/>
<text x="319.20" y="158.78" font-size="6.6" fill="#2a2a2a" text-anchor="middle" >HC</text>
<line x1="337.1" y1="147" x2="337.1" y2="150.0" stroke="#262626" stroke-width="0.8"/>
<text x="337.10" y="158.78" font-size="6.6" fill="#2a2a2a" text-anchor="middle" >PV</text>
<line x1="355" y1="147" x2="355" y2="150.0" stroke="#262626" stroke-width="0.8"/>
<line x1="373.3" y1="147" x2="373.3" y2="150.0" stroke="#262626" stroke-width="0.8"/>
<text x="373.30" y="158.78" font-size="6.6" fill="#2a2a2a" text-anchor="middle" >HC</text>
<line x1="391.7" y1="147" x2="391.7" y2="150.0" stroke="#262626" stroke-width="0.8"/>
<text x="391.70" y="158.78" font-size="6.6" fill="#2a2a2a" text-anchor="middle" >PV</text>
<rect x="257.40" y="73.52" width="15.30" height="73.48" fill="#a3124a" stroke="#777" stroke-width="0.5" />
<rect x="257.40" y="60.04" width="15.30" height="13.48" fill="#cfe9df" stroke="#777" stroke-width="0.5" />
<rect x="276.00" y="67.43" width="14.90" height="79.57" fill="#a3124a" stroke="#777" stroke-width="0.5" />
<rect x="276.00" y="60.04" width="14.90" height="7.39" fill="#cfe9df" stroke="#777" stroke-width="0.5" />
<line x1="265.1" y1="84.3888" x2="265.1" y2="50.03959999999999" stroke="#444" stroke-width="0.7"/>
<line x1="261.5" y1="84.3888" x2="268.70000000000005" y2="84.3888" stroke="#444" stroke-width="0.7"/>
<line x1="261.5" y1="50.03959999999999" x2="268.70000000000005" y2="50.03959999999999" stroke="#444" stroke-width="0.7"/>
<line x1="265.1" y1="70.04039999999999" x2="265.1" y2="63.08359999999999" stroke="#444" stroke-width="0.7"/>
<line x1="261.5" y1="70.04039999999999" x2="268.70000000000005" y2="70.04039999999999" stroke="#444" stroke-width="0.7"/>
<line x1="261.5" y1="63.08359999999999" x2="268.70000000000005" y2="63.08359999999999" stroke="#444" stroke-width="0.7"/>
<line x1="283.3" y1="77.432" x2="283.3" y2="50.03959999999999" stroke="#444" stroke-width="0.7"/>
<line x1="279.7" y1="77.432" x2="286.90000000000003" y2="77.432" stroke="#444" stroke-width="0.7"/>
<line x1="279.7" y1="50.03959999999999" x2="286.90000000000003" y2="50.03959999999999" stroke="#444" stroke-width="0.7"/>
<line x1="283.3" y1="68.3012" x2="283.3" y2="57.43119999999999" stroke="#444" stroke-width="0.7"/>
<line x1="279.7" y1="68.3012" x2="286.90000000000003" y2="68.3012" stroke="#444" stroke-width="0.7"/>
<line x1="279.7" y1="57.43119999999999" x2="286.90000000000003" y2="57.43119999999999" stroke="#444" stroke-width="0.7"/>
<rect x="311.60" y="143.96" width="14.70" height="3.04" fill="#d2e2f2" stroke="#777" stroke-width="0.5" />
<rect x="311.60" y="118.74" width="14.70" height="25.22" fill="#f8cfd1" stroke="#777" stroke-width="0.5" />
<rect x="311.60" y="101.78" width="14.70" height="16.96" fill="#ee6a74" stroke="#777" stroke-width="0.5" />
<rect x="311.60" y="85.69" width="14.70" height="16.09" fill="#e8161f" stroke="#777" stroke-width="0.5" />
<rect x="311.60" y="76.13" width="14.70" height="9.57" fill="#b8121b" stroke="#777" stroke-width="0.5" />
<rect x="311.60" y="73.78" width="14.70" height="2.35" fill="#7a0c14" stroke="#777" stroke-width="0.5" />
<rect x="316.00" y="72.21" width="6.50" height="1.57" fill="#8aa89e" />
<rect x="330.00" y="143.35" width="14.50" height="3.65" fill="#d2e2f2" stroke="#777" stroke-width="0.5" />
<rect x="330.00" y="130.04" width="14.50" height="13.30" fill="#f8cfd1" stroke="#777" stroke-width="0.5" />
<rect x="330.00" y="116.56" width="14.50" height="13.48" fill="#ee6a74" stroke="#777" stroke-width="0.5" />
<rect x="330.00" y="99.61" width="14.50" height="16.96" fill="#e8161f" stroke="#777" stroke-width="0.5" />
<rect x="330.00" y="80.74" width="14.50" height="18.87" fill="#c0141d" stroke="#777" stroke-width="0.5" />
<rect x="330.00" y="67.43" width="14.50" height="13.30" fill="#7e0c14" stroke="#777" stroke-width="0.5" />
<line x1="319" y1="76.1276" x2="319" y2="72.2144" stroke="#3a1a1a" stroke-width="0.5"/>
<line x1="316.6" y1="76.1276" x2="321.4" y2="76.1276" stroke="#3a1a1a" stroke-width="0.5"/>
<line x1="316.6" y1="72.2144" x2="321.4" y2="72.2144" stroke="#3a1a1a" stroke-width="0.5"/>
<line x1="319" y1="83.95400000000001" x2="319" y2="80.04079999999999" stroke="#3a1a1a" stroke-width="0.5"/>
<line x1="316.6" y1="83.95400000000001" x2="321.4" y2="83.95400000000001" stroke="#3a1a1a" stroke-width="0.5"/>
<line x1="316.6" y1="80.04079999999999" x2="321.4" y2="80.04079999999999" stroke="#3a1a1a" stroke-width="0.5"/>
<line x1="319" y1="97.4328" x2="319" y2="89.60640000000001" stroke="#3a1a1a" stroke-width="0.5"/>
<line x1="316.6" y1="97.4328" x2="321.4" y2="97.4328" stroke="#3a1a1a" stroke-width="0.5"/>
<line x1="316.6" y1="89.60640000000001" x2="321.4" y2="89.60640000000001" stroke="#3a1a1a" stroke-width="0.5"/>
<line x1="319" y1="117.4336" x2="319" y2="108.7376" stroke="#3a1a1a" stroke-width="0.5"/>
<line x1="316.6" y1="117.4336" x2="321.4" y2="117.4336" stroke="#3a1a1a" stroke-width="0.5"/>
<line x1="316.6" y1="108.7376" x2="321.4" y2="108.7376" stroke="#3a1a1a" stroke-width="0.5"/>
<line x1="319" y1="145.6956" x2="319" y2="136.9996" stroke="#3a1a1a" stroke-width="0.5"/>
<line x1="316.6" y1="145.6956" x2="321.4" y2="145.6956" stroke="#3a1a1a" stroke-width="0.5"/>
<line x1="316.6" y1="136.9996" x2="321.4" y2="136.9996" stroke="#3a1a1a" stroke-width="0.5"/>
<line x1="337.2" y1="67.4316" x2="337.2" y2="56.996399999999994" stroke="#3a1a1a" stroke-width="0.5"/>
<line x1="334.8" y1="67.4316" x2="339.59999999999997" y2="67.4316" stroke="#3a1a1a" stroke-width="0.5"/>
<line x1="334.8" y1="56.996399999999994" x2="339.59999999999997" y2="56.996399999999994" stroke="#3a1a1a" stroke-width="0.5"/>
<line x1="337.2" y1="83.5192" x2="337.2" y2="78.3016" stroke="#3a1a1a" stroke-width="0.5"/>
<line x1="334.8" y1="83.5192" x2="339.59999999999997" y2="83.5192" stroke="#3a1a1a" stroke-width="0.5"/>
<line x1="334.8" y1="78.3016" x2="339.59999999999997" y2="78.3016" stroke="#3a1a1a" stroke-width="0.5"/>
<line x1="337.2" y1="99.172" x2="337.2" y2="94.824" stroke="#3a1a1a" stroke-width="0.5"/>
<line x1="334.8" y1="99.172" x2="339.59999999999997" y2="99.172" stroke="#3a1a1a" stroke-width="0.5"/>
<line x1="334.8" y1="94.824" x2="339.59999999999997" y2="94.824" stroke="#3a1a1a" stroke-width="0.5"/>
<line x1="337.2" y1="118.3032" x2="337.2" y2="113.95519999999999" stroke="#3a1a1a" stroke-width="0.5"/>
<line x1="334.8" y1="118.3032" x2="339.59999999999997" y2="118.3032" stroke="#3a1a1a" stroke-width="0.5"/>
<line x1="334.8" y1="113.95519999999999" x2="339.59999999999997" y2="113.95519999999999" stroke="#3a1a1a" stroke-width="0.5"/>
<line x1="337.2" y1="130.4776" x2="337.2" y2="126.1296" stroke="#3a1a1a" stroke-width="0.5"/>
<line x1="334.8" y1="130.4776" x2="339.59999999999997" y2="130.4776" stroke="#3a1a1a" stroke-width="0.5"/>
<line x1="334.8" y1="126.1296" x2="339.59999999999997" y2="126.1296" stroke="#3a1a1a" stroke-width="0.5"/>
<line x1="337.2" y1="145.6956" x2="337.2" y2="142.652" stroke="#3a1a1a" stroke-width="0.5"/>
<line x1="334.8" y1="145.6956" x2="339.59999999999997" y2="145.6956" stroke="#3a1a1a" stroke-width="0.5"/>
<line x1="334.8" y1="142.652" x2="339.59999999999997" y2="142.652" stroke="#3a1a1a" stroke-width="0.5"/>
<rect x="365.60" y="143.35" width="15.40" height="3.65" fill="#1b6b36" stroke="#777" stroke-width="0.5" />
<rect x="365.60" y="134.39" width="15.40" height="8.96" fill="#6a98d0" stroke="#777" stroke-width="0.5" />
<rect x="383.90" y="141.09" width="15.40" height="5.91" fill="#1b6b36" stroke="#777" stroke-width="0.5" />
<line x1="373.3" y1="140.0432" x2="373.3" y2="123.17296" stroke="#444" stroke-width="0.7"/>
<line x1="369.7" y1="140.0432" x2="376.90000000000003" y2="140.0432" stroke="#444" stroke-width="0.7"/>
<line x1="369.7" y1="123.17296" x2="376.90000000000003" y2="123.17296" stroke="#444" stroke-width="0.7"/>
<line x1="391.7" y1="143.5216" x2="391.7" y2="136.73872" stroke="#444" stroke-width="0.7"/>
<line x1="388.09999999999997" y1="143.5216" x2="395.3" y2="143.5216" stroke="#444" stroke-width="0.7"/>
<line x1="388.09999999999997" y1="136.73872" x2="395.3" y2="136.73872" stroke="#444" stroke-width="0.7"/>
<rect x="384.2" y="141.3" width="14.8" height="1.3" fill="#4a8a6a" opacity="0.6"/>
<circle cx="43.4" cy="201.7" r="2.6" fill="#4aa23e"/>
<text x="48.70" y="204.14" font-size="7.08" fill="#1e1e1e" textLength="23.67" lengthAdjust="spacingAndGlyphs" >JAK2WT</text>
<circle cx="83.5" cy="201.7" r="2.6" fill="#c3162e"/>
<text x="88.80" y="204.06" font-size="6.84" fill="#1e1e1e" textLength="30.95" lengthAdjust="spacingAndGlyphs" >JAK2V617F</text>
<circle cx="131.3" cy="201.7" r="2.6" fill="#9592cc"/>
<text x="136.60" y="204.10" font-size="6.96" fill="#1e1e1e" textLength="35.42" lengthAdjust="spacingAndGlyphs" >heterozygous</text>
<text x="40.60" y="218.00" font-size="7.26" fill="#1e1e1e" textLength="40.68" lengthAdjust="spacingAndGlyphs" >JAK2WT: 3708</text>
<text x="40.60" y="225.34" font-size="7.08" fill="#1e1e1e" textLength="59.03" lengthAdjust="spacingAndGlyphs" >JAK2V617F: 395 cells</text>
<text x="40.60" y="232.78" font-size="7.2" fill="#1e1e1e" textLength="45.78" lengthAdjust="spacingAndGlyphs" >total: 54307 cells</text>
<text x="79.30" y="245.56" font-size="6.84" fill="#1e1e1e" textLength="19.98" lengthAdjust="spacingAndGlyphs" >myeloid</text>
<text x="52.90" y="295.76" font-size="6.84" fill="#1e1e1e" textLength="23.21" lengthAdjust="spacingAndGlyphs" >lymphoid</text>
<text x="140.50" y="223.66" font-size="6.84" fill="#1e1e1e" textLength="29.65" lengthAdjust="spacingAndGlyphs" >erythrocytic</text>
<line x1="35" y1="211.3" x2="35" y2="312.3" stroke="#262626" stroke-width="1.2"/>
<line x1="32.0" y1="226.5" x2="35" y2="226.5" stroke="#262626" stroke-width="0.8"/>
<text x="29.20" y="228.57" font-size="6" fill="#2a2a2a" text-anchor="end" >10</text>
<line x1="32.0" y1="246.3" x2="35" y2="246.3" stroke="#262626" stroke-width="0.8"/>
<text x="29.20" y="248.37" font-size="6" fill="#2a2a2a" text-anchor="end" >5</text>
<line x1="32.0" y1="266.9" x2="35" y2="266.9" stroke="#262626" stroke-width="0.8"/>
<text x="29.20" y="268.97" font-size="6" fill="#2a2a2a" text-anchor="end" >0</text>
<line x1="32.0" y1="287" x2="35" y2="287" stroke="#262626" stroke-width="0.8"/>
<text x="29.20" y="289.07" font-size="6" fill="#2a2a2a" text-anchor="end" >−5</text>
<line x1="32.0" y1="307.7" x2="35" y2="307.7" stroke="#262626" stroke-width="0.8"/>
<text x="29.20" y="309.77" font-size="6" fill="#2a2a2a" text-anchor="end" >−10</text>
<line x1="35" y1="312.3" x2="162" y2="312.3" stroke="#262626" stroke-width="1.2"/>
<line x1="37.8" y1="312.3" x2="37.8" y2="315.3" stroke="#262626" stroke-width="0.8"/>
<text x="37.80" y="323.87" font-size="6" fill="#2a2a2a" text-anchor="middle" >−15</text>
<line x1="64.6" y1="312.3" x2="64.6" y2="315.3" stroke="#262626" stroke-width="0.8"/>
<text x="64.60" y="323.87" font-size="6" fill="#2a2a2a" text-anchor="middle" >−10</text>
<line x1="91.7" y1="312.3" x2="91.7" y2="315.3" stroke="#262626" stroke-width="0.8"/>
<text x="91.70" y="323.87" font-size="6" fill="#2a2a2a" text-anchor="middle" >−5</text>
<line x1="117.8" y1="312.3" x2="117.8" y2="315.3" stroke="#262626" stroke-width="0.8"/>
<text x="117.80" y="323.87" font-size="6" fill="#2a2a2a" text-anchor="middle" >0</text>
<line x1="144.6" y1="312.3" x2="144.6" y2="315.3" stroke="#262626" stroke-width="0.8"/>
<text x="144.60" y="323.87" font-size="6" fill="#2a2a2a" text-anchor="middle" >5</text>
<text x="13.74" y="261.80" font-size="8.8" fill="#1e1e1e" text-anchor="middle" textLength="20.2" lengthAdjust="spacingAndGlyphs" transform="rotate(-90 13.74 261.80)" stroke="#1e1e1e" stroke-width="0.25">UMAP 2</text>
<text x="97.80" y="334.84" font-size="8.8" fill="#1e1e1e" text-anchor="middle" textLength="19.8" lengthAdjust="spacingAndGlyphs" stroke="#1e1e1e" stroke-width="0.25">UMAP 1</text>
<path d="M111.0,218.0 C110.6,216.6 113.4,216.9 115.0,216.6 C116.6,216.3 119.0,216.2 120.8,216.3 C122.6,216.4 124.5,216.8 126.0,217.2 C127.5,217.6 128.0,217.2 130.0,218.7 C132.0,220.2 135.3,222.8 138.0,226.1 C140.7,229.4 143.9,235.4 146.1,238.8 C148.3,242.2 149.6,243.8 151.0,246.5 C152.4,249.2 153.7,252.1 154.4,254.7 C155.1,257.3 155.2,259.6 155.0,262.0 C154.8,264.4 153.9,266.9 153.1,269.4 C152.3,271.9 151.2,274.6 150.0,277.0 C148.8,279.4 147.3,281.8 145.8,284.0 C144.3,286.2 142.7,288.0 141.0,290.0 C139.3,292.0 137.5,294.1 135.5,295.8 C133.5,297.6 131.2,299.3 129.0,300.5 C126.8,301.7 124.3,302.4 122.0,303.0 C119.7,303.6 117.0,303.9 115.0,304.0 C113.0,304.1 111.2,304.2 110.0,303.5 C108.8,302.8 107.9,301.9 108.0,300.0 C108.1,298.1 109.6,294.7 110.5,292.0 C111.4,289.3 112.5,286.6 113.5,284.0 C114.5,281.4 115.5,278.9 116.5,276.5 C117.5,274.1 118.4,271.8 119.4,269.4 C120.4,267.0 121.5,264.4 122.5,262.0 C123.5,259.6 124.4,257.0 125.2,254.7 C126.0,252.4 127.0,250.3 127.2,248.0 C127.4,245.7 127.6,243.6 126.5,241.1 C125.4,238.6 122.3,235.7 120.8,233.0 C119.3,230.3 118.9,227.5 117.3,225.0 C115.7,222.5 111.4,219.4 111.0,218.0Z" fill="#72be38" />
<g fill="#ffffff" fill-opacity="0.9"><circle cx="137.8" cy="258.3" r="0.65"/><circle cx="118.2" cy="285.8" r="0.65"/><circle cx="146.0" cy="261.2" r="0.65"/><circle cx="131.7" cy="237.0" r="0.65"/><circle cx="118.9" cy="220.0" r="0.65"/><circle cx="149.1" cy="270.3" r="0.65"/><circle cx="131.4" cy="226.5" r="0.65"/><circle cx="115.3" cy="288.0" r="0.65"/><circle cx="113.9" cy="297.7" r="0.65"/><circle cx="129.3" cy="264.7" r="0.65"/><circle cx="124.1" cy="258.8" r="0.65"/><circle cx="116.8" cy="219.6" r="0.65"/><circle cx="143.5" cy="283.2" r="0.65"/><circle cx="135.3" cy="280.3" r="0.65"/><circle cx="127.3" cy="248.3" r="0.65"/><circle cx="129.2" cy="250.1" r="0.65"/><circle cx="131.3" cy="259.4" r="0.65"/><circle cx="133.9" cy="281.9" r="0.65"/><circle cx="134.2" cy="270.9" r="0.65"/><circle cx="124.4" cy="297.6" r="0.65"/><circle cx="124.3" cy="268.7" r="0.65"/><circle cx="122.4" cy="225.4" r="0.65"/><circle cx="144.5" cy="249.2" r="0.65"/><circle cx="140.1" cy="275.6" r="0.65"/><circle cx="153.2" cy="268.1" r="0.65"/><circle cx="149.5" cy="259.4" r="0.65"/><circle cx="125.7" cy="238.0" r="0.65"/><circle cx="144.4" cy="258.7" r="0.65"/><circle cx="127.7" cy="231.3" r="0.65"/><circle cx="143.1" cy="258.3" r="0.65"/><circle cx="119.9" cy="300.4" r="0.65"/><circle cx="132.7" cy="280.2" r="0.65"/><circle cx="149.4" cy="269.0" r="0.65"/><circle cx="128.0" cy="267.3" r="0.65"/><circle cx="147.9" cy="243.3" r="0.65"/><circle cx="133.1" cy="240.5" r="0.65"/><circle cx="138.3" cy="291.0" r="0.65"/><circle cx="135.5" cy="238.9" r="0.65"/><circle cx="127.1" cy="300.4" r="0.65"/><circle cx="114.6" cy="292.4" r="0.65"/><circle cx="138.8" cy="227.4" r="0.65"/><circle cx="133.3" cy="244.7" r="0.65"/><circle cx="131.2" cy="235.6" r="0.65"/><circle cx="125.8" cy="278.6" r="0.65"/><circle cx="144.4" cy="285.6" r="0.65"/><circle cx="116.2" cy="278.7" r="0.65"/><circle cx="119.9" cy="277.4" r="0.65"/><circle cx="122.7" cy="220.0" r="0.65"/><circle cx="131.6" cy="264.5" r="0.65"/><circle cx="136.3" cy="260.9" r="0.65"/><circle cx="122.6" cy="277.6" r="0.65"/><circle cx="132.7" cy="265.5" r="0.65"/><circle cx="143.7" cy="255.6" r="0.65"/><circle cx="138.3" cy="255.1" r="0.65"/><circle cx="132.3" cy="250.5" r="0.65"/><circle cx="126.9" cy="236.1" r="0.65"/><circle cx="119.6" cy="278.1" r="0.65"/><circle cx="146.4" cy="279.8" r="0.65"/><circle cx="129.4" cy="237.0" r="0.65"/><circle cx="126.1" cy="259.0" r="0.65"/><circle cx="131.1" cy="279.2" r="0.65"/><circle cx="137.5" cy="282.8" r="0.65"/><circle cx="139.4" cy="291.6" r="0.65"/><circle cx="140.9" cy="276.2" r="0.65"/><circle cx="119.5" cy="296.7" r="0.65"/><circle cx="126.1" cy="270.2" r="0.65"/><circle cx="126.4" cy="229.1" r="0.65"/><circle cx="134.0" cy="223.3" r="0.65"/><circle cx="122.2" cy="299.0" r="0.65"/><circle cx="142.9" cy="256.8" r="0.65"/><circle cx="113.1" cy="300.1" r="0.65"/><circle cx="141.1" cy="234.4" r="0.65"/><circle cx="123.8" cy="272.6" r="0.65"/><circle cx="140.0" cy="239.2" r="0.65"/><circle cx="119.9" cy="290.4" r="0.65"/><circle cx="152.2" cy="257.3" r="0.65"/><circle cx="128.5" cy="270.4" r="0.65"/><circle cx="121.2" cy="231.6" r="0.65"/><circle cx="126.1" cy="240.2" r="0.65"/><circle cx="116.9" cy="300.6" r="0.65"/><circle cx="140.9" cy="237.4" r="0.65"/><circle cx="129.3" cy="294.7" r="0.65"/><circle cx="125.4" cy="228.1" r="0.65"/><circle cx="133.9" cy="236.0" r="0.65"/><circle cx="111.8" cy="295.2" r="0.65"/><circle cx="143.1" cy="282.9" r="0.65"/><circle cx="116.8" cy="221.5" r="0.65"/><circle cx="146.3" cy="269.5" r="0.65"/><circle cx="137.2" cy="257.6" r="0.65"/><circle cx="145.6" cy="245.9" r="0.65"/><circle cx="122.0" cy="271.3" r="0.65"/><circle cx="139.9" cy="232.9" r="0.65"/><circle cx="120.7" cy="221.5" r="0.65"/><circle cx="140.0" cy="273.6" r="0.65"/><circle cx="151.8" cy="263.5" r="0.65"/><circle cx="127.2" cy="276.9" r="0.65"/><circle cx="142.2" cy="262.3" r="0.65"/><circle cx="111.7" cy="288.9" r="0.65"/><circle cx="118.0" cy="219.8" r="0.65"/><circle cx="124.6" cy="263.0" r="0.65"/><circle cx="137.5" cy="231.6" r="0.65"/><circle cx="141.4" cy="259.6" r="0.65"/><circle cx="115.6" cy="290.9" r="0.65"/><circle cx="139.9" cy="235.4" r="0.65"/><circle cx="133.1" cy="296.0" r="0.65"/><circle cx="124.5" cy="270.1" r="0.65"/><circle cx="136.5" cy="282.6" r="0.65"/><circle cx="138.4" cy="230.5" r="0.65"/><circle cx="151.7" cy="263.3" r="0.65"/><circle cx="144.5" cy="281.2" r="0.65"/><circle cx="149.5" cy="248.1" r="0.65"/><circle cx="146.3" cy="248.1" r="0.65"/><circle cx="114.2" cy="218.7" r="0.65"/><circle cx="127.9" cy="267.2" r="0.65"/><circle cx="117.9" cy="225.7" r="0.65"/><circle cx="151.6" cy="262.2" r="0.65"/><circle cx="150.1" cy="261.4" r="0.65"/><circle cx="127.9" cy="272.5" r="0.65"/><circle cx="144.2" cy="282.2" r="0.65"/><circle cx="138.6" cy="238.5" r="0.65"/><circle cx="128.2" cy="249.5" r="0.65"/><circle cx="131.0" cy="239.6" r="0.65"/><circle cx="133.3" cy="256.5" r="0.65"/><circle cx="135.6" cy="286.7" r="0.65"/><circle cx="142.6" cy="280.4" r="0.65"/><circle cx="139.2" cy="267.3" r="0.65"/><circle cx="142.5" cy="287.5" r="0.65"/><circle cx="130.7" cy="221.1" r="0.65"/><circle cx="125.4" cy="288.8" r="0.65"/><circle cx="131.5" cy="256.8" r="0.65"/><circle cx="126.3" cy="271.4" r="0.65"/><circle cx="136.1" cy="277.1" r="0.65"/><circle cx="125.6" cy="238.3" r="0.65"/><circle cx="137.8" cy="229.1" r="0.65"/><circle cx="140.1" cy="242.2" r="0.65"/><circle cx="131.4" cy="278.8" r="0.65"/><circle cx="118.2" cy="276.5" r="0.65"/><circle cx="123.7" cy="273.2" r="0.65"/><circle cx="125.3" cy="233.2" r="0.65"/><circle cx="114.6" cy="221.4" r="0.65"/><circle cx="140.7" cy="252.6" r="0.65"/><circle cx="113.8" cy="293.5" r="0.65"/><circle cx="142.1" cy="268.5" r="0.65"/><circle cx="128.9" cy="260.2" r="0.65"/><circle cx="137.9" cy="272.1" r="0.65"/><circle cx="143.5" cy="272.1" r="0.65"/><circle cx="129.5" cy="261.4" r="0.65"/><circle cx="118.5" cy="285.5" r="0.65"/><circle cx="129.4" cy="235.7" r="0.65"/><circle cx="135.6" cy="267.4" r="0.65"/></g>
<g fill="#e8f0c0" fill-opacity="0.8"><circle cx="115.8" cy="286.4" r="0.55"/><circle cx="118.1" cy="220.5" r="0.55"/><circle cx="137.3" cy="290.6" r="0.55"/><circle cx="118.4" cy="226.1" r="0.55"/><circle cx="133.1" cy="226.4" r="0.55"/><circle cx="127.0" cy="283.0" r="0.55"/><circle cx="117.5" cy="277.7" r="0.55"/><circle cx="133.3" cy="223.8" r="0.55"/><circle cx="135.1" cy="288.0" r="0.55"/><circle cx="132.5" cy="274.5" r="0.55"/><circle cx="123.0" cy="296.4" r="0.55"/><circle cx="124.8" cy="285.1" r="0.55"/><circle cx="135.2" cy="232.3" r="0.55"/><circle cx="141.8" cy="262.8" r="0.55"/><circle cx="139.2" cy="273.8" r="0.55"/><circle cx="126.3" cy="286.6" r="0.55"/><circle cx="145.3" cy="282.4" r="0.55"/><circle cx="128.8" cy="236.6" r="0.55"/><circle cx="125.6" cy="292.2" r="0.55"/><circle cx="128.0" cy="276.9" r="0.55"/><circle cx="137.5" cy="257.8" r="0.55"/><circle cx="134.2" cy="248.2" r="0.55"/><circle cx="116.8" cy="296.4" r="0.55"/><circle cx="128.0" cy="233.9" r="0.55"/><circle cx="148.8" cy="245.8" r="0.55"/><circle cx="139.4" cy="236.5" r="0.55"/><circle cx="138.6" cy="255.8" r="0.55"/><circle cx="142.6" cy="262.6" r="0.55"/><circle cx="135.9" cy="289.3" r="0.55"/><circle cx="140.5" cy="258.4" r="0.55"/><circle cx="123.4" cy="294.5" r="0.55"/><circle cx="139.9" cy="284.0" r="0.55"/><circle cx="137.4" cy="240.2" r="0.55"/><circle cx="120.5" cy="286.0" r="0.55"/><circle cx="136.8" cy="281.5" r="0.55"/><circle cx="154.0" cy="260.1" r="0.55"/><circle cx="141.0" cy="261.4" r="0.55"/><circle cx="128.2" cy="274.5" r="0.55"/><circle cx="121.9" cy="227.7" r="0.55"/><circle cx="126.2" cy="228.3" r="0.55"/><circle cx="129.4" cy="283.2" r="0.55"/><circle cx="141.5" cy="252.6" r="0.55"/><circle cx="126.4" cy="280.2" r="0.55"/><circle cx="141.0" cy="289.5" r="0.55"/><circle cx="137.4" cy="243.7" r="0.55"/><circle cx="137.7" cy="288.1" r="0.55"/><circle cx="121.1" cy="285.0" r="0.55"/><circle cx="118.0" cy="218.5" r="0.55"/><circle cx="134.9" cy="264.9" r="0.55"/><circle cx="137.2" cy="231.1" r="0.55"/><circle cx="126.6" cy="285.7" r="0.55"/><circle cx="142.3" cy="237.7" r="0.55"/><circle cx="128.4" cy="293.0" r="0.55"/><circle cx="129.7" cy="277.1" r="0.55"/><circle cx="130.9" cy="296.0" r="0.55"/><circle cx="113.7" cy="286.8" r="0.55"/><circle cx="122.6" cy="228.7" r="0.55"/><circle cx="137.9" cy="271.5" r="0.55"/><circle cx="110.9" cy="299.7" r="0.55"/><circle cx="153.4" cy="254.9" r="0.55"/><circle cx="135.0" cy="248.2" r="0.55"/><circle cx="136.5" cy="251.2" r="0.55"/><circle cx="128.7" cy="282.1" r="0.55"/><circle cx="143.9" cy="236.0" r="0.55"/><circle cx="111.2" cy="296.2" r="0.55"/><circle cx="124.6" cy="263.4" r="0.55"/><circle cx="147.3" cy="274.0" r="0.55"/><circle cx="130.2" cy="283.9" r="0.55"/><circle cx="140.2" cy="244.0" r="0.55"/><circle cx="136.9" cy="281.7" r="0.55"/><circle cx="133.1" cy="282.3" r="0.55"/><circle cx="120.4" cy="275.2" r="0.55"/><circle cx="153.9" cy="262.6" r="0.55"/><circle cx="142.0" cy="239.6" r="0.55"/><circle cx="143.3" cy="253.4" r="0.55"/><circle cx="133.1" cy="238.1" r="0.55"/><circle cx="120.1" cy="292.2" r="0.55"/><circle cx="138.2" cy="271.4" r="0.55"/><circle cx="133.3" cy="277.4" r="0.55"/><circle cx="132.0" cy="264.9" r="0.55"/></g>
<g fill="#c92e1a" fill-opacity="1.0"><circle cx="127.7" cy="276.3" r="0.95"/><circle cx="139.7" cy="239.2" r="0.95"/><circle cx="140.5" cy="254.1" r="0.95"/><circle cx="125.7" cy="233.6" r="0.95"/><circle cx="151.8" cy="271.5" r="0.95"/><circle cx="148.3" cy="259.4" r="0.95"/><circle cx="135.6" cy="294.7" r="0.95"/><circle cx="128.1" cy="221.3" r="0.95"/><circle cx="123.7" cy="286.2" r="0.95"/><circle cx="118.6" cy="283.9" r="0.95"/><circle cx="141.9" cy="275.4" r="0.95"/><circle cx="112.0" cy="300.2" r="0.95"/><circle cx="147.9" cy="258.5" r="0.95"/><circle cx="148.4" cy="269.0" r="0.95"/><circle cx="146.6" cy="257.0" r="0.95"/><circle cx="138.3" cy="255.6" r="0.95"/><circle cx="127.0" cy="300.7" r="0.95"/><circle cx="124.1" cy="275.2" r="0.95"/><circle cx="123.8" cy="226.4" r="0.95"/><circle cx="125.9" cy="273.6" r="0.95"/><circle cx="133.8" cy="286.1" r="0.95"/><circle cx="130.4" cy="223.7" r="0.95"/><circle cx="142.2" cy="251.6" r="0.95"/><circle cx="132.6" cy="238.3" r="0.95"/><circle cx="124.8" cy="260.0" r="0.95"/><circle cx="123.0" cy="225.2" r="0.95"/><circle cx="126.7" cy="273.8" r="0.95"/><circle cx="127.3" cy="272.8" r="0.95"/><circle cx="141.3" cy="239.6" r="0.95"/><circle cx="130.2" cy="240.1" r="0.95"/><circle cx="145.4" cy="253.7" r="0.95"/><circle cx="144.5" cy="249.6" r="0.95"/><circle cx="124.1" cy="299.2" r="0.95"/><circle cx="125.0" cy="285.4" r="0.95"/><circle cx="143.6" cy="241.1" r="0.95"/><circle cx="152.5" cy="257.5" r="0.95"/><circle cx="123.5" cy="236.2" r="0.95"/><circle cx="120.2" cy="284.9" r="0.95"/><circle cx="137.6" cy="262.8" r="0.95"/><circle cx="153.4" cy="261.3" r="0.95"/><circle cx="131.1" cy="295.5" r="0.95"/><circle cx="145.8" cy="251.3" r="0.95"/><circle cx="131.2" cy="252.8" r="0.95"/><circle cx="136.1" cy="268.7" r="0.95"/><circle cx="142.6" cy="266.1" r="0.95"/><circle cx="120.7" cy="303.0" r="0.95"/><circle cx="130.8" cy="249.9" r="0.95"/><circle cx="130.5" cy="273.7" r="0.95"/><circle cx="114.0" cy="301.3" r="0.95"/><circle cx="133.9" cy="268.0" r="0.95"/><circle cx="122.8" cy="278.2" r="0.95"/><circle cx="135.3" cy="240.0" r="0.95"/><circle cx="143.0" cy="243.2" r="0.95"/><circle cx="136.1" cy="231.1" r="0.95"/><circle cx="147.9" cy="250.4" r="0.95"/><circle cx="132.6" cy="285.6" r="0.95"/><circle cx="140.6" cy="284.9" r="0.95"/><circle cx="145.3" cy="246.7" r="0.95"/><circle cx="130.3" cy="285.1" r="0.95"/><circle cx="137.8" cy="291.0" r="0.95"/><circle cx="119.5" cy="274.7" r="0.95"/><circle cx="130.4" cy="273.1" r="0.95"/><circle cx="130.6" cy="239.0" r="0.95"/><circle cx="120.2" cy="219.8" r="0.95"/><circle cx="138.3" cy="274.0" r="0.95"/><circle cx="118.5" cy="297.1" r="0.95"/><circle cx="137.8" cy="234.0" r="0.95"/><circle cx="122.7" cy="292.2" r="0.95"/><circle cx="127.7" cy="300.1" r="0.95"/><circle cx="117.7" cy="288.2" r="0.95"/><circle cx="116.6" cy="290.6" r="0.95"/><circle cx="124.0" cy="264.5" r="0.95"/><circle cx="132.8" cy="272.1" r="0.95"/><circle cx="135.2" cy="252.0" r="0.95"/><circle cx="138.4" cy="243.9" r="0.95"/><circle cx="115.3" cy="217.1" r="0.95"/><circle cx="136.5" cy="266.7" r="0.95"/><circle cx="139.6" cy="256.1" r="0.95"/><circle cx="132.7" cy="289.2" r="0.95"/><circle cx="132.4" cy="254.5" r="0.95"/><circle cx="138.3" cy="229.3" r="0.95"/><circle cx="149.0" cy="261.7" r="0.95"/><circle cx="128.0" cy="239.6" r="0.95"/><circle cx="130.1" cy="275.4" r="0.95"/><circle cx="142.2" cy="246.5" r="0.95"/><circle cx="116.3" cy="278.7" r="0.95"/><circle cx="128.5" cy="277.3" r="0.95"/><circle cx="130.8" cy="287.6" r="0.95"/><circle cx="146.2" cy="279.6" r="0.95"/><circle cx="131.0" cy="269.8" r="0.95"/><circle cx="125.7" cy="223.0" r="0.95"/><circle cx="134.8" cy="288.1" r="0.95"/><circle cx="132.5" cy="285.6" r="0.95"/><circle cx="125.6" cy="275.7" r="0.95"/><circle cx="145.4" cy="268.9" r="0.95"/><circle cx="115.9" cy="279.4" r="0.95"/><circle cx="126.7" cy="270.8" r="0.95"/><circle cx="111.7" cy="294.4" r="0.95"/><circle cx="131.1" cy="270.0" r="0.95"/><circle cx="138.3" cy="246.5" r="0.95"/><circle cx="144.7" cy="243.5" r="0.95"/><circle cx="137.3" cy="271.3" r="0.95"/><circle cx="141.7" cy="239.1" r="0.95"/><circle cx="134.3" cy="255.9" r="0.95"/><circle cx="122.3" cy="272.6" r="0.95"/><circle cx="114.1" cy="295.1" r="0.95"/><circle cx="137.9" cy="256.6" r="0.95"/><circle cx="145.8" cy="247.0" r="0.95"/><circle cx="141.5" cy="262.9" r="0.95"/><circle cx="112.2" cy="291.7" r="0.95"/><circle cx="148.1" cy="248.5" r="0.95"/><circle cx="133.9" cy="254.2" r="0.95"/><circle cx="139.0" cy="287.4" r="0.95"/><circle cx="117.4" cy="280.4" r="0.95"/><circle cx="114.1" cy="296.5" r="0.95"/><circle cx="136.2" cy="255.4" r="0.95"/><circle cx="134.5" cy="228.9" r="0.95"/><circle cx="128.4" cy="241.3" r="0.95"/><circle cx="125.1" cy="268.7" r="0.95"/><circle cx="130.5" cy="244.7" r="0.95"/><circle cx="130.8" cy="221.8" r="0.95"/><circle cx="144.0" cy="254.0" r="0.95"/><circle cx="127.5" cy="273.7" r="0.95"/><circle cx="133.3" cy="273.7" r="0.95"/><circle cx="152.8" cy="255.3" r="0.95"/><circle cx="125.2" cy="256.2" r="0.95"/><circle cx="145.8" cy="242.7" r="0.95"/><circle cx="139.6" cy="277.9" r="0.95"/><circle cx="112.6" cy="287.8" r="0.95"/><circle cx="132.9" cy="270.0" r="0.95"/><circle cx="118.1" cy="285.3" r="0.95"/><circle cx="136.5" cy="254.8" r="0.95"/><circle cx="124.7" cy="270.6" r="0.95"/><circle cx="114.2" cy="218.8" r="0.95"/><circle cx="132.5" cy="257.4" r="0.95"/><circle cx="153.8" cy="255.1" r="0.95"/><circle cx="114.6" cy="300.8" r="0.95"/><circle cx="125.5" cy="280.1" r="0.95"/><circle cx="134.5" cy="291.6" r="0.95"/><circle cx="134.2" cy="291.0" r="0.95"/><circle cx="127.3" cy="288.8" r="0.95"/><circle cx="129.0" cy="247.8" r="0.95"/><circle cx="124.9" cy="236.3" r="0.95"/><circle cx="135.8" cy="283.6" r="0.95"/><circle cx="135.3" cy="250.0" r="0.95"/><circle cx="139.4" cy="279.6" r="0.95"/><circle cx="140.7" cy="257.3" r="0.95"/><circle cx="130.0" cy="241.2" r="0.95"/><circle cx="118.4" cy="222.1" r="0.95"/><circle cx="141.7" cy="256.3" r="0.95"/><circle cx="135.6" cy="243.0" r="0.95"/><circle cx="127.0" cy="254.1" r="0.95"/><circle cx="149.1" cy="270.6" r="0.95"/><circle cx="134.6" cy="263.0" r="0.95"/><circle cx="135.8" cy="224.3" r="0.95"/><circle cx="118.4" cy="223.8" r="0.95"/><circle cx="141.5" cy="253.2" r="0.95"/><circle cx="142.8" cy="250.7" r="0.95"/><circle cx="132.1" cy="253.4" r="0.95"/><circle cx="133.7" cy="256.1" r="0.95"/><circle cx="137.3" cy="236.7" r="0.95"/><circle cx="112.8" cy="301.5" r="0.95"/><circle cx="153.4" cy="255.6" r="0.95"/><circle cx="143.4" cy="284.7" r="0.95"/><circle cx="132.5" cy="242.4" r="0.95"/><circle cx="139.0" cy="262.5" r="0.95"/><circle cx="118.8" cy="297.0" r="0.95"/><circle cx="121.3" cy="295.2" r="0.95"/><circle cx="136.5" cy="256.5" r="0.95"/><circle cx="118.2" cy="291.4" r="0.95"/><circle cx="150.1" cy="274.8" r="0.95"/><circle cx="123.9" cy="269.2" r="0.95"/><circle cx="124.1" cy="287.7" r="0.95"/><circle cx="134.0" cy="292.3" r="0.95"/><circle cx="144.3" cy="237.2" r="0.95"/><circle cx="153.9" cy="257.6" r="0.95"/><circle cx="136.5" cy="288.7" r="0.95"/><circle cx="146.7" cy="252.7" r="0.95"/><circle cx="129.6" cy="285.5" r="0.95"/><circle cx="146.9" cy="246.5" r="0.95"/><circle cx="124.1" cy="225.4" r="0.95"/><circle cx="116.6" cy="218.4" r="0.95"/><circle cx="120.6" cy="277.8" r="0.95"/><circle cx="124.8" cy="231.6" r="0.95"/><circle cx="115.8" cy="221.8" r="0.95"/><circle cx="127.1" cy="298.3" r="0.95"/><circle cx="138.3" cy="283.1" r="0.95"/><circle cx="129.2" cy="220.3" r="0.95"/><circle cx="133.9" cy="225.0" r="0.95"/><circle cx="130.3" cy="288.3" r="0.95"/><circle cx="145.3" cy="265.8" r="0.95"/><circle cx="108.6" cy="300.7" r="0.95"/><circle cx="121.7" cy="264.5" r="0.95"/><circle cx="149.2" cy="253.6" r="0.95"/><circle cx="128.9" cy="280.0" r="0.95"/><circle cx="130.0" cy="232.6" r="0.95"/><circle cx="148.4" cy="247.7" r="0.95"/><circle cx="137.5" cy="252.6" r="0.95"/><circle cx="114.3" cy="221.6" r="0.95"/><circle cx="120.7" cy="288.3" r="0.95"/><circle cx="135.2" cy="248.9" r="0.95"/><circle cx="125.6" cy="269.3" r="0.95"/><circle cx="151.8" cy="254.9" r="0.95"/><circle cx="132.2" cy="291.0" r="0.95"/><circle cx="118.3" cy="279.3" r="0.95"/><circle cx="145.0" cy="255.3" r="0.95"/><circle cx="145.3" cy="255.5" r="0.95"/><circle cx="125.9" cy="227.9" r="0.95"/><circle cx="127.1" cy="290.0" r="0.95"/><circle cx="124.7" cy="299.9" r="0.95"/><circle cx="124.8" cy="258.0" r="0.95"/><circle cx="147.7" cy="253.3" r="0.95"/><circle cx="129.2" cy="227.7" r="0.95"/><circle cx="133.3" cy="288.1" r="0.95"/><circle cx="134.8" cy="271.2" r="0.95"/><circle cx="138.0" cy="253.3" r="0.95"/><circle cx="126.3" cy="293.1" r="0.95"/><circle cx="126.6" cy="293.4" r="0.95"/><circle cx="146.6" cy="264.9" r="0.95"/><circle cx="135.7" cy="233.9" r="0.95"/><circle cx="142.4" cy="276.6" r="0.95"/><circle cx="149.8" cy="268.4" r="0.95"/><circle cx="113.2" cy="286.1" r="0.95"/><circle cx="132.4" cy="244.7" r="0.95"/><circle cx="128.8" cy="265.5" r="0.95"/><circle cx="140.8" cy="271.8" r="0.95"/><circle cx="148.5" cy="263.3" r="0.95"/><circle cx="117.6" cy="291.6" r="0.95"/><circle cx="129.7" cy="290.9" r="0.95"/><circle cx="135.1" cy="227.0" r="0.95"/><circle cx="117.3" cy="277.2" r="0.95"/><circle cx="148.6" cy="266.8" r="0.95"/><circle cx="152.6" cy="263.5" r="0.95"/><circle cx="145.8" cy="257.8" r="0.95"/><circle cx="110.3" cy="297.5" r="0.95"/><circle cx="144.5" cy="256.1" r="0.95"/><circle cx="132.4" cy="230.5" r="0.95"/><circle cx="116.4" cy="223.8" r="0.95"/><circle cx="129.5" cy="289.7" r="0.95"/><circle cx="129.0" cy="278.1" r="0.95"/><circle cx="141.7" cy="286.8" r="0.95"/><circle cx="145.4" cy="260.2" r="0.95"/><circle cx="136.1" cy="260.0" r="0.95"/><circle cx="121.5" cy="231.0" r="0.95"/><circle cx="140.7" cy="286.4" r="0.95"/><circle cx="133.3" cy="271.9" r="0.95"/><circle cx="148.5" cy="258.3" r="0.95"/><circle cx="147.3" cy="266.4" r="0.95"/><circle cx="146.8" cy="255.4" r="0.95"/><circle cx="122.7" cy="278.6" r="0.95"/><circle cx="125.7" cy="228.8" r="0.95"/><circle cx="133.7" cy="241.5" r="0.95"/><circle cx="130.5" cy="289.0" r="0.95"/><circle cx="151.8" cy="262.5" r="0.95"/><circle cx="118.3" cy="283.4" r="0.95"/><circle cx="118.2" cy="222.4" r="0.95"/><circle cx="125.6" cy="281.1" r="0.95"/><circle cx="137.8" cy="252.3" r="0.95"/><circle cx="136.2" cy="259.6" r="0.95"/><circle cx="133.5" cy="281.4" r="0.95"/></g>
<g fill="#c42a18" fill-opacity="1.0"><circle cx="141.8" cy="280.6" r="0.95"/><circle cx="152.5" cy="255.7" r="0.95"/><circle cx="146.3" cy="250.2" r="0.95"/><circle cx="134.0" cy="223.0" r="0.95"/><circle cx="142.5" cy="234.8" r="0.95"/><circle cx="143.8" cy="237.9" r="0.95"/><circle cx="146.1" cy="260.9" r="0.95"/><circle cx="132.5" cy="223.8" r="0.95"/><circle cx="138.8" cy="282.7" r="0.95"/><circle cx="144.6" cy="238.4" r="0.95"/><circle cx="147.3" cy="244.7" r="0.95"/><circle cx="150.0" cy="268.3" r="0.95"/><circle cx="149.8" cy="256.5" r="0.95"/><circle cx="138.0" cy="232.0" r="0.95"/><circle cx="148.6" cy="250.4" r="0.95"/><circle cx="147.9" cy="278.2" r="0.95"/><circle cx="148.2" cy="277.7" r="0.95"/><circle cx="137.9" cy="227.1" r="0.95"/><circle cx="145.1" cy="237.3" r="0.95"/><circle cx="137.0" cy="283.2" r="0.95"/><circle cx="147.3" cy="245.4" r="0.95"/><circle cx="148.2" cy="261.5" r="0.95"/><circle cx="152.2" cy="258.5" r="0.95"/><circle cx="128.7" cy="224.5" r="0.95"/><circle cx="145.3" cy="241.5" r="0.95"/><circle cx="136.1" cy="229.8" r="0.95"/><circle cx="149.3" cy="273.7" r="0.95"/><circle cx="143.6" cy="277.8" r="0.95"/><circle cx="128.7" cy="221.9" r="0.95"/><circle cx="130.3" cy="225.2" r="0.95"/><circle cx="146.7" cy="250.0" r="0.95"/><circle cx="152.6" cy="257.4" r="0.95"/><circle cx="135.0" cy="234.2" r="0.95"/><circle cx="143.5" cy="241.5" r="0.95"/><circle cx="144.4" cy="247.2" r="0.95"/><circle cx="147.3" cy="257.0" r="0.95"/><circle cx="141.0" cy="239.4" r="0.95"/><circle cx="138.1" cy="238.3" r="0.95"/><circle cx="148.1" cy="268.1" r="0.95"/><circle cx="143.4" cy="253.5" r="0.95"/><circle cx="152.5" cy="258.9" r="0.95"/><circle cx="135.1" cy="228.2" r="0.95"/><circle cx="146.3" cy="251.4" r="0.95"/><circle cx="142.4" cy="270.9" r="0.95"/><circle cx="137.4" cy="283.7" r="0.95"/><circle cx="147.8" cy="254.7" r="0.95"/><circle cx="141.7" cy="276.1" r="0.95"/><circle cx="135.5" cy="223.8" r="0.95"/><circle cx="149.5" cy="257.1" r="0.95"/><circle cx="145.3" cy="283.6" r="0.95"/><circle cx="151.6" cy="258.2" r="0.95"/><circle cx="148.4" cy="269.5" r="0.95"/><circle cx="149.0" cy="274.1" r="0.95"/><circle cx="139.7" cy="237.0" r="0.95"/><circle cx="139.5" cy="285.0" r="0.95"/><circle cx="152.4" cy="269.3" r="0.95"/><circle cx="144.5" cy="246.4" r="0.95"/><circle cx="137.0" cy="231.8" r="0.95"/><circle cx="142.8" cy="272.7" r="0.95"/><circle cx="131.9" cy="224.3" r="0.95"/><circle cx="136.6" cy="228.1" r="0.95"/><circle cx="148.2" cy="267.6" r="0.95"/><circle cx="135.9" cy="231.5" r="0.95"/><circle cx="149.9" cy="267.9" r="0.95"/><circle cx="151.9" cy="266.5" r="0.95"/><circle cx="149.7" cy="256.7" r="0.95"/><circle cx="146.0" cy="268.4" r="0.95"/><circle cx="146.4" cy="272.9" r="0.95"/><circle cx="144.9" cy="276.2" r="0.95"/><circle cx="138.7" cy="284.3" r="0.95"/><circle cx="146.6" cy="249.5" r="0.95"/><circle cx="154.0" cy="259.5" r="0.95"/><circle cx="145.4" cy="259.3" r="0.95"/><circle cx="141.7" cy="242.4" r="0.95"/><circle cx="138.2" cy="234.2" r="0.95"/><circle cx="152.8" cy="266.2" r="0.95"/><circle cx="144.9" cy="278.1" r="0.95"/><circle cx="148.4" cy="249.9" r="0.95"/><circle cx="144.0" cy="238.0" r="0.95"/><circle cx="143.1" cy="249.7" r="0.95"/><circle cx="150.7" cy="263.9" r="0.95"/><circle cx="143.5" cy="239.0" r="0.95"/><circle cx="142.1" cy="237.8" r="0.95"/><circle cx="142.5" cy="234.5" r="0.95"/><circle cx="144.4" cy="283.3" r="0.95"/><circle cx="135.8" cy="224.6" r="0.95"/><circle cx="146.9" cy="271.8" r="0.95"/><circle cx="148.0" cy="246.3" r="0.95"/><circle cx="130.3" cy="219.4" r="0.95"/><circle cx="150.8" cy="259.6" r="0.95"/><circle cx="151.0" cy="260.9" r="0.95"/><circle cx="142.2" cy="271.9" r="0.95"/><circle cx="148.2" cy="251.7" r="0.95"/><circle cx="134.5" cy="229.2" r="0.95"/><circle cx="147.5" cy="251.9" r="0.95"/><circle cx="152.1" cy="253.0" r="0.95"/><circle cx="142.5" cy="282.4" r="0.95"/><circle cx="153.8" cy="262.0" r="0.95"/><circle cx="146.0" cy="276.1" r="0.95"/><circle cx="141.3" cy="279.9" r="0.95"/><circle cx="148.9" cy="275.0" r="0.95"/><circle cx="146.5" cy="251.7" r="0.95"/><circle cx="150.7" cy="255.1" r="0.95"/><circle cx="150.1" cy="267.5" r="0.95"/><circle cx="142.9" cy="245.9" r="0.95"/><circle cx="145.1" cy="262.7" r="0.95"/><circle cx="137.5" cy="232.7" r="0.95"/><circle cx="134.0" cy="232.8" r="0.95"/><circle cx="150.9" cy="264.1" r="0.95"/><circle cx="144.7" cy="258.3" r="0.95"/><circle cx="146.1" cy="242.3" r="0.95"/><circle cx="150.5" cy="263.4" r="0.95"/><circle cx="144.8" cy="258.2" r="0.95"/><circle cx="146.5" cy="258.3" r="0.95"/><circle cx="143.8" cy="273.8" r="0.95"/><circle cx="140.1" cy="239.8" r="0.95"/><circle cx="149.1" cy="264.6" r="0.95"/><circle cx="141.3" cy="283.2" r="0.95"/><circle cx="148.9" cy="250.7" r="0.95"/><circle cx="131.3" cy="229.1" r="0.95"/></g>
<g fill="#a82012" fill-opacity="1.0"><circle cx="142.3" cy="274.5" r="0.7"/><circle cx="117.7" cy="302.4" r="0.7"/><circle cx="131.5" cy="279.5" r="0.7"/><circle cx="114.4" cy="287.3" r="0.7"/><circle cx="128.8" cy="235.6" r="0.7"/><circle cx="128.0" cy="274.1" r="0.7"/><circle cx="125.6" cy="231.4" r="0.7"/><circle cx="150.7" cy="254.5" r="0.7"/><circle cx="145.1" cy="267.7" r="0.7"/><circle cx="125.5" cy="286.3" r="0.7"/><circle cx="118.1" cy="217.4" r="0.7"/><circle cx="143.7" cy="255.0" r="0.7"/><circle cx="134.0" cy="286.5" r="0.7"/><circle cx="122.5" cy="275.3" r="0.7"/><circle cx="125.1" cy="273.5" r="0.7"/><circle cx="135.1" cy="268.0" r="0.7"/><circle cx="128.2" cy="253.0" r="0.7"/><circle cx="150.2" cy="252.9" r="0.7"/><circle cx="126.8" cy="250.1" r="0.7"/><circle cx="136.4" cy="260.4" r="0.7"/><circle cx="120.1" cy="217.7" r="0.7"/><circle cx="148.7" cy="257.2" r="0.7"/><circle cx="134.1" cy="233.1" r="0.7"/><circle cx="134.1" cy="260.2" r="0.7"/><circle cx="117.9" cy="225.1" r="0.7"/><circle cx="149.0" cy="266.0" r="0.7"/><circle cx="137.0" cy="281.9" r="0.7"/><circle cx="135.7" cy="293.7" r="0.7"/><circle cx="116.4" cy="301.6" r="0.7"/><circle cx="148.1" cy="277.8" r="0.7"/><circle cx="121.3" cy="226.8" r="0.7"/><circle cx="115.3" cy="220.8" r="0.7"/><circle cx="133.1" cy="293.0" r="0.7"/><circle cx="148.0" cy="248.3" r="0.7"/><circle cx="145.5" cy="250.5" r="0.7"/><circle cx="132.5" cy="241.4" r="0.7"/><circle cx="123.6" cy="272.5" r="0.7"/><circle cx="126.2" cy="233.7" r="0.7"/><circle cx="123.8" cy="219.8" r="0.7"/><circle cx="125.7" cy="296.9" r="0.7"/><circle cx="134.3" cy="239.8" r="0.7"/><circle cx="130.2" cy="262.9" r="0.7"/><circle cx="120.8" cy="225.9" r="0.7"/><circle cx="130.7" cy="267.1" r="0.7"/><circle cx="144.7" cy="246.0" r="0.7"/><circle cx="120.0" cy="278.0" r="0.7"/><circle cx="152.2" cy="262.9" r="0.7"/><circle cx="125.3" cy="272.6" r="0.7"/><circle cx="131.8" cy="261.8" r="0.7"/><circle cx="132.3" cy="282.1" r="0.7"/></g>
<g fill="#72be38" fill-opacity="1.0"><circle cx="119.4" cy="259.2" r="0.7"/><circle cx="118.3" cy="245.7" r="0.7"/><circle cx="104.2" cy="283.1" r="0.7"/><circle cx="122.7" cy="255.3" r="0.7"/><circle cx="114.1" cy="272.0" r="0.7"/><circle cx="99.6" cy="294.4" r="0.7"/><circle cx="105.1" cy="292.6" r="0.7"/><circle cx="124.9" cy="243.3" r="0.7"/><circle cx="116.9" cy="240.4" r="0.7"/><circle cx="104.4" cy="291.4" r="0.7"/><circle cx="114.3" cy="265.9" r="0.7"/><circle cx="102.7" cy="286.9" r="0.7"/><circle cx="110.5" cy="275.9" r="0.7"/><circle cx="113.2" cy="280.2" r="0.7"/><circle cx="120.7" cy="263.8" r="0.7"/><circle cx="124.3" cy="242.6" r="0.7"/><circle cx="118.6" cy="249.5" r="0.7"/><circle cx="111.8" cy="282.4" r="0.7"/><circle cx="115.8" cy="255.9" r="0.7"/><circle cx="108.5" cy="283.1" r="0.7"/><circle cx="116.6" cy="244.6" r="0.7"/><circle cx="119.9" cy="254.4" r="0.7"/><circle cx="110.2" cy="275.3" r="0.7"/><circle cx="125.4" cy="252.9" r="0.7"/><circle cx="105.8" cy="290.1" r="0.7"/><circle cx="117.4" cy="250.8" r="0.7"/><circle cx="99.9" cy="297.3" r="0.7"/><circle cx="122.6" cy="245.5" r="0.7"/><circle cx="104.5" cy="289.1" r="0.7"/><circle cx="124.9" cy="245.3" r="0.7"/><circle cx="119.0" cy="265.8" r="0.7"/><circle cx="116.0" cy="274.1" r="0.7"/><circle cx="109.9" cy="273.0" r="0.7"/><circle cx="104.1" cy="290.4" r="0.7"/><circle cx="114.7" cy="273.2" r="0.7"/><circle cx="103.0" cy="294.3" r="0.7"/><circle cx="104.1" cy="285.2" r="0.7"/><circle cx="100.5" cy="291.0" r="0.7"/><circle cx="99.2" cy="295.4" r="0.7"/><circle cx="112.2" cy="284.1" r="0.7"/><circle cx="119.2" cy="268.6" r="0.7"/><circle cx="118.7" cy="267.3" r="0.7"/><circle cx="116.3" cy="258.7" r="0.7"/><circle cx="119.7" cy="262.1" r="0.7"/><circle cx="118.3" cy="255.0" r="0.7"/><circle cx="112.4" cy="279.2" r="0.7"/><circle cx="110.3" cy="277.0" r="0.7"/><circle cx="111.3" cy="285.9" r="0.7"/><circle cx="101.8" cy="295.0" r="0.7"/><circle cx="99.6" cy="297.4" r="0.7"/><circle cx="119.7" cy="245.7" r="0.7"/><circle cx="119.1" cy="259.9" r="0.7"/><circle cx="98.4" cy="296.7" r="0.7"/><circle cx="118.3" cy="253.6" r="0.7"/><circle cx="123.9" cy="240.8" r="0.7"/><circle cx="125.5" cy="241.5" r="0.7"/><circle cx="120.4" cy="252.7" r="0.7"/><circle cx="115.1" cy="247.8" r="0.7"/><circle cx="110.9" cy="269.0" r="0.7"/><circle cx="107.4" cy="281.0" r="0.7"/></g>
<g fill="#c92e1a" fill-opacity="1.0"><circle cx="108.1" cy="283.9" r="0.7"/><circle cx="112.5" cy="266.4" r="0.7"/><circle cx="118.9" cy="242.1" r="0.7"/><circle cx="112.8" cy="241.3" r="0.7"/><circle cx="108.3" cy="281.6" r="0.7"/><circle cx="122.0" cy="246.3" r="0.7"/><circle cx="113.0" cy="270.8" r="0.7"/><circle cx="109.8" cy="272.6" r="0.7"/><circle cx="113.5" cy="277.6" r="0.7"/><circle cx="119.2" cy="255.3" r="0.7"/><circle cx="106.8" cy="280.3" r="0.7"/><circle cx="121.6" cy="253.9" r="0.7"/></g>
<g fill="#72be38" fill-opacity="1.0"><circle cx="92.7" cy="305.3" r="0.85"/><circle cx="106.3" cy="299.3" r="0.85"/><circle cx="94.6" cy="304.4" r="0.85"/><circle cx="104.6" cy="303.6" r="0.85"/><circle cx="105.0" cy="298.8" r="0.85"/><circle cx="102.6" cy="298.9" r="0.85"/><circle cx="97.6" cy="306.2" r="0.85"/><circle cx="106.4" cy="305.4" r="0.85"/><circle cx="96.2" cy="305.6" r="0.85"/><circle cx="110.1" cy="299.2" r="0.85"/><circle cx="109.7" cy="294.7" r="0.85"/><circle cx="108.9" cy="293.1" r="0.85"/><circle cx="106.8" cy="304.5" r="0.85"/><circle cx="109.4" cy="295.1" r="0.85"/><circle cx="95.7" cy="301.9" r="0.85"/><circle cx="103.7" cy="297.0" r="0.85"/><circle cx="105.5" cy="302.2" r="0.85"/><circle cx="92.7" cy="305.3" r="0.85"/><circle cx="92.1" cy="300.5" r="0.85"/><circle cx="104.8" cy="305.6" r="0.85"/><circle cx="104.4" cy="306.3" r="0.85"/><circle cx="110.4" cy="300.9" r="0.85"/><circle cx="102.6" cy="296.9" r="0.85"/><circle cx="109.5" cy="304.7" r="0.85"/><circle cx="102.0" cy="303.3" r="0.85"/><circle cx="108.5" cy="294.9" r="0.85"/><circle cx="92.4" cy="302.0" r="0.85"/><circle cx="97.4" cy="298.3" r="0.85"/><circle cx="95.5" cy="302.6" r="0.85"/><circle cx="104.9" cy="299.3" r="0.85"/><circle cx="99.8" cy="296.7" r="0.85"/><circle cx="101.4" cy="295.9" r="0.85"/><circle cx="105.6" cy="295.0" r="0.85"/><circle cx="100.5" cy="298.9" r="0.85"/><circle cx="107.2" cy="295.3" r="0.85"/></g>
<g fill="#c92e1a" fill-opacity="1.0"><circle cx="97.3" cy="303.4" r="0.9"/><circle cx="108.3" cy="300.6" r="0.9"/><circle cx="108.2" cy="291.8" r="0.9"/><circle cx="93.6" cy="305.1" r="0.9"/><circle cx="105.6" cy="295.4" r="0.9"/><circle cx="110.4" cy="302.7" r="0.9"/><circle cx="108.3" cy="297.0" r="0.9"/><circle cx="107.3" cy="291.8" r="0.9"/><circle cx="99.6" cy="305.9" r="0.9"/><circle cx="108.4" cy="298.5" r="0.9"/><circle cx="97.2" cy="299.8" r="0.9"/><circle cx="98.8" cy="297.2" r="0.9"/><circle cx="99.9" cy="295.3" r="0.9"/><circle cx="105.3" cy="297.2" r="0.9"/><circle cx="99.6" cy="295.2" r="0.9"/><circle cx="96.3" cy="306.0" r="0.9"/><circle cx="105.1" cy="300.3" r="0.9"/><circle cx="105.0" cy="302.3" r="0.9"/><circle cx="110.4" cy="300.0" r="0.9"/><circle cx="106.6" cy="304.8" r="0.9"/><circle cx="108.7" cy="301.7" r="0.9"/><circle cx="106.9" cy="305.6" r="0.9"/><circle cx="99.1" cy="296.1" r="0.9"/><circle cx="107.3" cy="292.5" r="0.9"/><circle cx="96.7" cy="304.2" r="0.9"/><circle cx="97.4" cy="300.9" r="0.9"/><circle cx="103.2" cy="301.7" r="0.9"/><circle cx="99.1" cy="305.7" r="0.9"/><circle cx="94.7" cy="301.5" r="0.9"/><circle cx="106.8" cy="306.1" r="0.9"/></g>
<g fill="#74b43c"><circle cx="50.7" cy="257.9" r="0.8"/><circle cx="59.5" cy="257.8" r="0.8"/><circle cx="53.0" cy="259.2" r="0.8"/><circle cx="54.8" cy="257.1" r="0.8"/><circle cx="59.1" cy="259.0" r="0.8"/><circle cx="46.0" cy="256.1" r="0.8"/><circle cx="55.9" cy="258.4" r="0.8"/><circle cx="60.5" cy="259.3" r="0.8"/><circle cx="59.9" cy="260.2" r="0.8"/><circle cx="58.6" cy="259.8" r="0.8"/><circle cx="46.8" cy="256.0" r="0.8"/><circle cx="62.4" cy="258.4" r="0.8"/><circle cx="55.0" cy="258.2" r="0.8"/><circle cx="60.8" cy="257.9" r="0.8"/><circle cx="45.6" cy="255.8" r="0.8"/><circle cx="55.4" cy="258.7" r="0.8"/><circle cx="44.5" cy="257.7" r="0.8"/><circle cx="56.2" cy="259.5" r="0.8"/><circle cx="54.8" cy="257.3" r="0.8"/><circle cx="49.7" cy="257.4" r="0.8"/><circle cx="45.4" cy="255.5" r="0.8"/><circle cx="59.1" cy="259.7" r="0.8"/><circle cx="46.7" cy="255.8" r="0.8"/><circle cx="57.3" cy="258.3" r="0.8"/><circle cx="60.4" cy="258.6" r="0.8"/><circle cx="51.6" cy="256.3" r="0.8"/><circle cx="49.0" cy="258.3" r="0.8"/><circle cx="48.8" cy="258.2" r="0.8"/><circle cx="49.2" cy="256.4" r="0.8"/><circle cx="59.5" cy="259.7" r="0.8"/><circle cx="58.0" cy="258.3" r="0.8"/><circle cx="46.9" cy="256.7" r="0.8"/><circle cx="56.9" cy="258.9" r="0.8"/><circle cx="54.8" cy="259.0" r="0.8"/><circle cx="47.4" cy="256.2" r="0.8"/><circle cx="60.8" cy="257.2" r="0.8"/><circle cx="51.7" cy="258.3" r="0.8"/><circle cx="60.5" cy="258.3" r="0.8"/><circle cx="56.0" cy="258.0" r="0.8"/><circle cx="52.9" cy="257.6" r="0.8"/><circle cx="57.6" cy="258.5" r="0.8"/><circle cx="52.5" cy="257.6" r="0.8"/><circle cx="58.4" cy="257.8" r="0.8"/><circle cx="50.2" cy="258.5" r="0.8"/><circle cx="56.1" cy="256.9" r="0.8"/></g>
<g fill="#74b43c"><circle cx="62.8" cy="256.1" r="0.75"/><circle cx="65.1" cy="252.6" r="0.75"/><circle cx="63.7" cy="254.8" r="0.75"/><circle cx="62.5" cy="256.9" r="0.75"/><circle cx="64.8" cy="254.7" r="0.75"/><circle cx="62.6" cy="257.0" r="0.75"/><circle cx="65.7" cy="253.7" r="0.75"/><circle cx="62.9" cy="256.4" r="0.75"/><circle cx="63.9" cy="256.7" r="0.75"/><circle cx="63.3" cy="256.2" r="0.75"/></g>
<g fill="#74b43c"><circle cx="57.8" cy="263.1" r="0.75"/><circle cx="58.2" cy="260.3" r="0.75"/><circle cx="58.1" cy="259.8" r="0.75"/><circle cx="58.5" cy="269.8" r="0.75"/><circle cx="57.9" cy="273.5" r="0.75"/><circle cx="58.0" cy="273.3" r="0.75"/><circle cx="57.3" cy="264.4" r="0.75"/><circle cx="58.5" cy="278.8" r="0.75"/><circle cx="58.5" cy="277.4" r="0.75"/><circle cx="59.1" cy="259.8" r="0.75"/><circle cx="58.0" cy="275.6" r="0.75"/><circle cx="58.6" cy="279.3" r="0.75"/><circle cx="58.5" cy="268.2" r="0.75"/><circle cx="59.0" cy="264.3" r="0.75"/><circle cx="58.6" cy="267.3" r="0.75"/><circle cx="58.6" cy="281.1" r="0.75"/></g>
<g fill="#74b43c"><circle cx="76.4" cy="288.0" r="0.75"/><circle cx="76.5" cy="287.7" r="0.75"/><circle cx="73.9" cy="286.1" r="0.75"/><circle cx="74.1" cy="287.6" r="0.75"/></g>
<g fill="#74b43c" fill-opacity="1.0"><circle cx="83.1" cy="262.8" r="0.65"/><circle cx="83.9" cy="256.1" r="0.65"/><circle cx="86.8" cy="262.6" r="0.65"/><circle cx="80.7" cy="255.5" r="0.65"/><circle cx="88.1" cy="256.0" r="0.65"/><circle cx="82.3" cy="263.2" r="0.65"/><circle cx="85.4" cy="255.1" r="0.65"/><circle cx="85.5" cy="250.0" r="0.65"/><circle cx="79.6" cy="256.7" r="0.65"/><circle cx="81.8" cy="253.5" r="0.65"/><circle cx="82.5" cy="251.3" r="0.65"/><circle cx="84.4" cy="274.0" r="0.65"/><circle cx="85.2" cy="260.9" r="0.65"/><circle cx="82.9" cy="260.2" r="0.65"/><circle cx="80.5" cy="249.9" r="0.65"/><circle cx="85.0" cy="265.1" r="0.65"/><circle cx="84.0" cy="259.0" r="0.65"/><circle cx="83.1" cy="258.6" r="0.65"/><circle cx="83.6" cy="266.9" r="0.65"/><circle cx="80.8" cy="253.8" r="0.65"/><circle cx="89.8" cy="256.0" r="0.65"/><circle cx="80.5" cy="261.8" r="0.65"/><circle cx="78.9" cy="258.1" r="0.65"/><circle cx="85.4" cy="251.4" r="0.65"/><circle cx="86.7" cy="253.8" r="0.65"/><circle cx="82.9" cy="263.1" r="0.65"/><circle cx="80.3" cy="254.7" r="0.65"/><circle cx="82.4" cy="258.1" r="0.65"/><circle cx="83.2" cy="258.0" r="0.65"/><circle cx="82.0" cy="268.9" r="0.65"/><circle cx="78.9" cy="251.5" r="0.65"/><circle cx="82.8" cy="256.5" r="0.65"/><circle cx="83.2" cy="271.4" r="0.65"/><circle cx="89.0" cy="255.0" r="0.65"/><circle cx="81.5" cy="251.9" r="0.65"/><circle cx="80.8" cy="255.8" r="0.65"/><circle cx="80.1" cy="257.7" r="0.65"/><circle cx="84.7" cy="273.0" r="0.65"/><circle cx="84.7" cy="262.1" r="0.65"/><circle cx="80.0" cy="251.6" r="0.65"/><circle cx="82.6" cy="259.6" r="0.65"/><circle cx="80.2" cy="259.6" r="0.65"/><circle cx="82.2" cy="267.5" r="0.65"/><circle cx="88.6" cy="256.5" r="0.65"/><circle cx="82.2" cy="260.3" r="0.65"/><circle cx="87.9" cy="256.9" r="0.65"/><circle cx="88.7" cy="253.8" r="0.65"/><circle cx="85.9" cy="265.4" r="0.65"/><circle cx="87.9" cy="259.4" r="0.65"/><circle cx="84.0" cy="261.2" r="0.65"/><circle cx="82.5" cy="273.4" r="0.65"/><circle cx="85.7" cy="260.5" r="0.65"/><circle cx="82.8" cy="269.0" r="0.65"/><circle cx="80.1" cy="261.5" r="0.65"/><circle cx="86.9" cy="251.3" r="0.65"/><circle cx="78.9" cy="250.3" r="0.65"/><circle cx="85.7" cy="269.8" r="0.65"/><circle cx="85.6" cy="265.1" r="0.65"/><circle cx="83.0" cy="257.8" r="0.65"/><circle cx="80.3" cy="258.7" r="0.65"/><circle cx="80.0" cy="250.8" r="0.65"/><circle cx="84.4" cy="249.6" r="0.65"/><circle cx="82.6" cy="259.4" r="0.65"/><circle cx="86.3" cy="267.8" r="0.65"/><circle cx="83.4" cy="259.3" r="0.65"/><circle cx="83.9" cy="251.7" r="0.65"/><circle cx="85.1" cy="252.4" r="0.65"/><circle cx="85.7" cy="264.9" r="0.65"/><circle cx="85.9" cy="253.8" r="0.65"/><circle cx="82.2" cy="251.0" r="0.65"/><circle cx="81.5" cy="270.3" r="0.65"/><circle cx="82.8" cy="255.1" r="0.65"/><circle cx="83.8" cy="257.7" r="0.65"/><circle cx="80.4" cy="249.5" r="0.65"/><circle cx="86.0" cy="265.6" r="0.65"/><circle cx="82.9" cy="271.6" r="0.65"/><circle cx="79.4" cy="260.6" r="0.65"/><circle cx="83.6" cy="261.5" r="0.65"/><circle cx="77.9" cy="250.7" r="0.65"/><circle cx="80.5" cy="266.6" r="0.65"/><circle cx="85.4" cy="256.5" r="0.65"/><circle cx="83.8" cy="270.7" r="0.65"/><circle cx="81.3" cy="265.6" r="0.65"/><circle cx="87.5" cy="256.9" r="0.65"/><circle cx="86.8" cy="263.2" r="0.65"/><circle cx="85.0" cy="256.1" r="0.65"/><circle cx="89.9" cy="255.7" r="0.65"/><circle cx="86.0" cy="268.1" r="0.65"/><circle cx="81.2" cy="264.6" r="0.65"/><circle cx="85.7" cy="255.2" r="0.65"/><circle cx="87.4" cy="259.2" r="0.65"/><circle cx="87.7" cy="254.6" r="0.65"/><circle cx="80.8" cy="261.8" r="0.65"/><circle cx="87.7" cy="256.3" r="0.65"/><circle cx="86.2" cy="265.5" r="0.65"/><circle cx="84.3" cy="266.9" r="0.65"/><circle cx="84.2" cy="259.4" r="0.65"/><circle cx="84.1" cy="251.7" r="0.65"/><circle cx="85.4" cy="250.7" r="0.65"/><circle cx="78.7" cy="251.1" r="0.65"/><circle cx="83.2" cy="251.8" r="0.65"/><circle cx="84.5" cy="251.9" r="0.65"/><circle cx="80.6" cy="252.7" r="0.65"/><circle cx="83.4" cy="263.3" r="0.65"/><circle cx="78.9" cy="253.0" r="0.65"/><circle cx="84.5" cy="268.3" r="0.65"/><circle cx="84.6" cy="255.5" r="0.65"/><circle cx="82.2" cy="258.5" r="0.65"/><circle cx="79.7" cy="261.0" r="0.65"/><circle cx="84.6" cy="254.8" r="0.65"/></g>
<path d="M88.3,251.5 L85,258 L83,262.5" stroke="#c62a1c" stroke-width="1.8" fill="none" stroke-linecap="round"/>
<g fill="#c62a1c" fill-opacity="1.0"><circle cx="82.2" cy="260.7" r="0.6"/><circle cx="81.5" cy="260.1" r="0.6"/><circle cx="83.8" cy="258.6" r="0.6"/><circle cx="83.1" cy="258.5" r="0.6"/><circle cx="85.6" cy="255.6" r="0.6"/><circle cx="82.4" cy="255.7" r="0.6"/><circle cx="81.7" cy="254.9" r="0.6"/><circle cx="85.6" cy="256.6" r="0.6"/><circle cx="81.8" cy="260.7" r="0.6"/><circle cx="83.0" cy="261.5" r="0.6"/><circle cx="84.6" cy="254.8" r="0.6"/><circle cx="81.2" cy="259.8" r="0.6"/><circle cx="81.4" cy="260.0" r="0.6"/><circle cx="86.5" cy="252.5" r="0.6"/><circle cx="80.7" cy="259.4" r="0.6"/><circle cx="84.2" cy="255.5" r="0.6"/><circle cx="81.9" cy="252.8" r="0.6"/><circle cx="84.3" cy="253.9" r="0.6"/><circle cx="83.3" cy="255.8" r="0.6"/><circle cx="83.3" cy="254.1" r="0.6"/><circle cx="87.7" cy="251.2" r="0.6"/><circle cx="81.8" cy="260.0" r="0.6"/><circle cx="81.6" cy="253.3" r="0.6"/><circle cx="83.1" cy="258.0" r="0.6"/><circle cx="81.4" cy="261.3" r="0.6"/></g>
<g fill="#74b43c" fill-opacity="1.0"><circle cx="91.9" cy="254.5" r="0.6"/><circle cx="95.3" cy="248.9" r="0.6"/><circle cx="92.9" cy="249.7" r="0.6"/><circle cx="93.3" cy="254.3" r="0.6"/><circle cx="95.0" cy="254.1" r="0.6"/><circle cx="94.8" cy="249.4" r="0.6"/><circle cx="91.8" cy="251.9" r="0.6"/><circle cx="94.0" cy="249.0" r="0.6"/><circle cx="95.4" cy="252.6" r="0.6"/><circle cx="93.0" cy="250.2" r="0.6"/><circle cx="95.2" cy="252.0" r="0.6"/><circle cx="94.0" cy="253.8" r="0.6"/><circle cx="93.3" cy="254.9" r="0.6"/><circle cx="92.1" cy="252.9" r="0.6"/></g>
<g fill="#74b43c" fill-opacity="1.0"><circle cx="104.8" cy="256.6" r="0.6"/><circle cx="100.5" cy="254.7" r="0.6"/><circle cx="105.3" cy="257.5" r="0.6"/><circle cx="105.5" cy="255.6" r="0.6"/><circle cx="101.0" cy="255.1" r="0.6"/><circle cx="103.5" cy="257.4" r="0.6"/><circle cx="105.0" cy="257.5" r="0.6"/><circle cx="101.3" cy="254.6" r="0.6"/><circle cx="104.5" cy="259.7" r="0.6"/><circle cx="101.3" cy="255.9" r="0.6"/><circle cx="102.7" cy="256.3" r="0.6"/><circle cx="104.2" cy="256.9" r="0.6"/><circle cx="102.4" cy="256.3" r="0.6"/><circle cx="100.8" cy="259.5" r="0.6"/><circle cx="105.6" cy="255.3" r="0.6"/><circle cx="101.6" cy="258.3" r="0.6"/><circle cx="101.5" cy="256.6" r="0.6"/><circle cx="102.9" cy="255.6" r="0.6"/></g>
<g fill="#74b43c" fill-opacity="1.0"><circle cx="108.9" cy="266.3" r="0.6"/><circle cx="111.7" cy="262.4" r="0.6"/><circle cx="111.4" cy="262.5" r="0.6"/><circle cx="110.3" cy="262.3" r="0.6"/><circle cx="109.7" cy="263.4" r="0.6"/><circle cx="111.0" cy="262.1" r="0.6"/><circle cx="109.6" cy="267.8" r="0.6"/><circle cx="109.7" cy="264.7" r="0.6"/><circle cx="110.2" cy="266.8" r="0.6"/><circle cx="110.4" cy="264.5" r="0.6"/></g>
<g fill="#74b43c" fill-opacity="1.0"><circle cx="118.6" cy="248.7" r="0.6"/><circle cx="119.5" cy="249.7" r="0.6"/><circle cx="119.0" cy="245.8" r="0.6"/><circle cx="119.4" cy="249.9" r="0.6"/><circle cx="120.3" cy="245.8" r="0.6"/><circle cx="120.1" cy="248.9" r="0.6"/></g>
<g fill="#74b43c" fill-opacity="1.0"><circle cx="96.3" cy="275.0" r="0.6"/><circle cx="98.4" cy="275.5" r="0.6"/><circle cx="99.8" cy="273.5" r="0.6"/><circle cx="96.4" cy="273.6" r="0.6"/><circle cx="97.9" cy="272.8" r="0.6"/><circle cx="99.4" cy="275.5" r="0.6"/></g>
<g fill="#74b43c" fill-opacity="1.0"><circle cx="105.8" cy="243.5" r="0.6"/><circle cx="106.2" cy="244.4" r="0.6"/><circle cx="104.2" cy="243.4" r="0.6"/><circle cx="105.6" cy="243.1" r="0.6"/><circle cx="104.5" cy="246.8" r="0.6"/></g>
<line x1="215" y1="204.2" x2="215" y2="312.2" stroke="#262626" stroke-width="1.2"/>
<line x1="212.0" y1="207.3" x2="215" y2="207.3" stroke="#262626" stroke-width="0.8"/>
<text x="209.20" y="209.37" font-size="6" fill="#2a2a2a" text-anchor="end" >100</text>
<line x1="212.0" y1="232.3" x2="215" y2="232.3" stroke="#262626" stroke-width="0.8"/>
<text x="209.20" y="234.37" font-size="6" fill="#2a2a2a" text-anchor="end" >75</text>
<line x1="212.0" y1="257.3" x2="215" y2="257.3" stroke="#262626" stroke-width="0.8"/>
<text x="209.20" y="259.37" font-size="6" fill="#2a2a2a" text-anchor="end" >50</text>
<line x1="212.0" y1="282.3" x2="215" y2="282.3" stroke="#262626" stroke-width="0.8"/>
<text x="209.20" y="284.37" font-size="6" fill="#2a2a2a" text-anchor="end" >25</text>
<line x1="212.0" y1="307.3" x2="215" y2="307.3" stroke="#262626" stroke-width="0.8"/>
<text x="209.20" y="309.37" font-size="6" fill="#2a2a2a" text-anchor="end" >0</text>
<line x1="215" y1="312.2" x2="307" y2="312.2" stroke="#262626" stroke-width="1.2"/>
<line x1="219.0" y1="312.2" x2="219.0" y2="315.2" stroke="#262626" stroke-width="0.8"/>
<text x="219.00" y="323.77" font-size="6" fill="#2a2a2a" text-anchor="middle" >0</text>
<line x1="239.4" y1="312.2" x2="239.4" y2="315.2" stroke="#262626" stroke-width="0.8"/>
<text x="239.40" y="323.77" font-size="6" fill="#2a2a2a" text-anchor="middle" >25</text>
<line x1="259.8" y1="312.2" x2="259.8" y2="315.2" stroke="#262626" stroke-width="0.8"/>
<text x="259.80" y="323.77" font-size="6" fill="#2a2a2a" text-anchor="middle" >50</text>
<line x1="280.2" y1="312.2" x2="280.2" y2="315.2" stroke="#262626" stroke-width="0.8"/>
<text x="280.20" y="323.77" font-size="6" fill="#2a2a2a" text-anchor="middle" >75</text>
<line x1="300.6" y1="312.2" x2="300.6" y2="315.2" stroke="#262626" stroke-width="0.8"/>
<text x="300.60" y="323.77" font-size="6" fill="#2a2a2a" text-anchor="middle" >100</text>
<line x1="215.5" y1="311.8" x2="303.2" y2="202.3" stroke="#1a1a1a" stroke-width="1.1"/>
<circle cx="282.3" cy="215.7" r="2.2" fill="#c8145a"/>
<circle cx="229.2" cy="253.1" r="2.2" fill="#c8145a"/>
<circle cx="219" cy="300.3" r="2.2" fill="#c8145a"/>
<text x="193.27" y="257.50" font-size="8.6" fill="#1e1e1e" text-anchor="middle" textLength="56.6" lengthAdjust="spacingAndGlyphs" transform="rotate(-90 193.27 257.50)" stroke="#1e1e1e" stroke-width="0.25">Mutant VAF using NGS</text>
<text x="259.70" y="334.77" font-size="8.6" fill="#1e1e1e" text-anchor="middle" textLength="83.3" lengthAdjust="spacingAndGlyphs" stroke="#1e1e1e" stroke-width="0.25">Mutant VAF using scRNAseq data</text>
<text x="465.40" y="205.90" font-size="6.96" fill="#1e1e1e" text-anchor="middle" textLength="25.58" lengthAdjust="spacingAndGlyphs" >Pathways</text>
<text x="440.50" y="217.58" font-size="6.6" fill="#1e1e1e" text-anchor="end" textLength="99.5" lengthAdjust="spacingAndGlyphs" >WIERENGA_STAT5A_TARGETS_UP</text>
<text x="440.50" y="230.08" font-size="6.6" fill="#1e1e1e" text-anchor="end" textLength="88.6" lengthAdjust="spacingAndGlyphs" >HALLMARK_MYC_TARGETS_V1</text>
<text x="440.50" y="242.58" font-size="6.6" fill="#1e1e1e" text-anchor="end" textLength="118.5" lengthAdjust="spacingAndGlyphs" >HALLMARK_INFLAMMATORY_RESPONSE</text>
<text x="440.50" y="255.08" font-size="6.6" fill="#1e1e1e" text-anchor="end" textLength="95.0" lengthAdjust="spacingAndGlyphs" >HALLMARK_HEME_METABOLISM</text>
<text x="440.50" y="267.58" font-size="6.6" fill="#1e1e1e" text-anchor="end" textLength="92.3" lengthAdjust="spacingAndGlyphs" >HALLMARK_G2M_CHECKPOINT</text>
<text x="440.50" y="280.08" font-size="6.6" fill="#1e1e1e" text-anchor="end" textLength="75.5" lengthAdjust="spacingAndGlyphs" >HALLMARK_E2F_TARGETS</text>
<rect x="445.40" y="210.00" width="13.80" height="13.00" fill="#f1a07f" />
<rect x="458.60" y="210.00" width="13.80" height="13.00" fill="#f07c5c" />
<rect x="471.80" y="210.00" width="13.20" height="13.00" fill="#8e84d0" />
<rect x="445.40" y="222.40" width="13.80" height="13.00" fill="#6c60c0" />
<rect x="458.60" y="222.40" width="13.80" height="13.00" fill="#8070c8" />
<rect x="471.80" y="222.40" width="13.20" height="13.00" fill="#a8a0d8" />
<rect x="445.40" y="234.80" width="13.80" height="13.00" fill="#a094d4" />
<rect x="458.60" y="234.80" width="13.80" height="13.00" fill="#8474c8" />
<rect x="471.80" y="234.80" width="13.20" height="13.00" fill="#f4a888" />
<rect x="445.40" y="247.20" width="13.80" height="13.00" fill="#e63628" />
<rect x="458.60" y="247.20" width="13.80" height="13.00" fill="#e01412" />
<rect x="471.80" y="247.20" width="13.20" height="13.00" fill="#8c80cc" />
<rect x="445.40" y="259.60" width="13.80" height="13.00" fill="#f07050" />
<rect x="458.60" y="259.60" width="13.80" height="13.00" fill="#f06848" />
<rect x="471.80" y="259.60" width="13.20" height="13.00" fill="#b0a8d8" />
<rect x="445.40" y="272.00" width="13.80" height="12.40" fill="#b8b0e0" />
<rect x="458.60" y="272.00" width="13.80" height="12.40" fill="#f4ac94" />
<rect x="471.80" y="272.00" width="13.20" height="12.40" fill="#8878c8" />
<text x="452.00" y="218.68" font-size="6.6" fill="#2a2535" text-anchor="middle" textLength="6.34" lengthAdjust="spacingAndGlyphs" >ns</text>
<text x="465.20" y="218.68" font-size="6.6" fill="#2a2535" text-anchor="middle" textLength="4.67" lengthAdjust="spacingAndGlyphs" >**</text>
<text x="478.40" y="218.68" font-size="6.6" fill="#2a2535" text-anchor="middle" textLength="2.34" lengthAdjust="spacingAndGlyphs" >*</text>
<text x="452.00" y="231.08" font-size="6.6" fill="#2a2535" text-anchor="middle" textLength="7.01" lengthAdjust="spacingAndGlyphs" >***</text>
<text x="465.20" y="231.08" font-size="6.6" fill="#2a2535" text-anchor="middle" textLength="4.67" lengthAdjust="spacingAndGlyphs" >**</text>
<text x="478.40" y="231.08" font-size="6.6" fill="#2a2535" text-anchor="middle" textLength="2.34" lengthAdjust="spacingAndGlyphs" >*</text>
<text x="452.00" y="243.48" font-size="6.6" fill="#2a2535" text-anchor="middle" textLength="6.34" lengthAdjust="spacingAndGlyphs" >ns</text>
<text x="465.20" y="243.48" font-size="6.6" fill="#2a2535" text-anchor="middle" textLength="2.34" lengthAdjust="spacingAndGlyphs" >*</text>
<text x="478.40" y="243.48" font-size="6.6" fill="#2a2535" text-anchor="middle" textLength="6.34" lengthAdjust="spacingAndGlyphs" >ns</text>
<text x="452.00" y="255.88" font-size="6.6" fill="#2a2535" text-anchor="middle" textLength="7.01" lengthAdjust="spacingAndGlyphs" >***</text>
<text x="465.20" y="255.88" font-size="6.6" fill="#2a2535" text-anchor="middle" textLength="7.01" lengthAdjust="spacingAndGlyphs" >***</text>
<text x="478.40" y="255.88" font-size="6.6" fill="#2a2535" text-anchor="middle" textLength="2.34" lengthAdjust="spacingAndGlyphs" >*</text>
<text x="452.00" y="268.28" font-size="6.6" fill="#2a2535" text-anchor="middle" textLength="4.67" lengthAdjust="spacingAndGlyphs" >**</text>
<text x="465.20" y="268.28" font-size="6.6" fill="#2a2535" text-anchor="middle" textLength="7.01" lengthAdjust="spacingAndGlyphs" >***</text>
<text x="478.40" y="268.28" font-size="6.6" fill="#2a2535" text-anchor="middle" textLength="6.34" lengthAdjust="spacingAndGlyphs" >ns</text>
<text x="452.00" y="280.68" font-size="6.6" fill="#2a2535" text-anchor="middle" textLength="6.34" lengthAdjust="spacingAndGlyphs" >ns</text>
<text x="465.20" y="280.68" font-size="6.6" fill="#2a2535" text-anchor="middle" textLength="6.34" lengthAdjust="spacingAndGlyphs" >ns</text>
<text x="478.40" y="280.68" font-size="6.6" fill="#2a2535" text-anchor="middle" textLength="2.34" lengthAdjust="spacingAndGlyphs" >*</text>
<defs><linearGradient id="nes" x1="0" y1="0" x2="0" y2="1"><stop offset="0" stop-color="#dc1414"/><stop offset="0.25" stop-color="#f0604a"/><stop offset="0.5" stop-color="#f9d2c4"/><stop offset="0.56" stop-color="#ffffff"/><stop offset="0.75" stop-color="#c8c0e2"/><stop offset="1" stop-color="#6a5cb4"/></linearGradient></defs>
<rect x="495.20" y="229.00" width="8.70" height="44.70" fill="url(#nes)" />
<text x="499.60" y="225.32" font-size="5.0" fill="#1e1e1e" text-anchor="middle" font-weight="bold" textLength="7.4" lengthAdjust="spacingAndGlyphs" >NES</text>
<line x1="503.9" y1="234.9" x2="505" y2="234.9" stroke="#fff" stroke-width="0.5"/>
<text x="506.50" y="237.18" font-size="6.61" fill="#1e1e1e" textLength="3.11" lengthAdjust="spacingAndGlyphs" >2</text>
<line x1="503.9" y1="244.9" x2="505" y2="244.9" stroke="#fff" stroke-width="0.5"/>
<text x="506.50" y="247.18" font-size="6.61" fill="#1e1e1e" textLength="3.11" lengthAdjust="spacingAndGlyphs" >1</text>
<line x1="503.9" y1="254.2" x2="505" y2="254.2" stroke="#fff" stroke-width="0.5"/>
<text x="506.50" y="256.48" font-size="6.61" fill="#1e1e1e" textLength="3.11" lengthAdjust="spacingAndGlyphs" >0</text>
<line x1="503.9" y1="264.5" x2="505" y2="264.5" stroke="#fff" stroke-width="0.5"/>
<text x="506.50" y="266.78" font-size="6.61" fill="#1e1e1e" textLength="6.38" lengthAdjust="spacingAndGlyphs" >−1</text>
<text x="453.50" y="289.50" font-size="6.4" fill="#1e1e1e" text-anchor="end" textLength="50.5" lengthAdjust="spacingAndGlyphs" transform="rotate(-45 453.50 289.50)" >JAK2V617F vs. HC</text>
<text x="467.90" y="289.50" font-size="6.4" fill="#1e1e1e" text-anchor="end" textLength="52" lengthAdjust="spacingAndGlyphs" transform="rotate(-45 467.90 289.50)" >JAK2V617F vs. WT</text>
<text x="481.40" y="289.50" font-size="6.4" fill="#1e1e1e" text-anchor="end" textLength="43" lengthAdjust="spacingAndGlyphs" transform="rotate(-45 481.40 289.50)" >JAK2WT vs. HC</text>
<text x="87.70" y="364.34" font-size="8.24" fill="#1e1e1e" text-anchor="middle" textLength="46.21" lengthAdjust="spacingAndGlyphs" >HC untreated</text>
<text x="233.40" y="364.35" font-size="8.27" fill="#1e1e1e" text-anchor="middle" textLength="45.53" lengthAdjust="spacingAndGlyphs" >PV untreated</text>
<line x1="31.7" y1="378.5" x2="31.7" y2="452.3" stroke="#262626" stroke-width="1.2"/>
<line x1="28.7" y1="391.7" x2="31.7" y2="391.7" stroke="#262626" stroke-width="0.8"/>
<text x="25.90" y="393.91" font-size="6.4" fill="#2a2a2a" text-anchor="end" >15</text>
<line x1="28.7" y1="405.2" x2="31.7" y2="405.2" stroke="#262626" stroke-width="0.8"/>
<text x="25.90" y="407.41" font-size="6.4" fill="#2a2a2a" text-anchor="end" >10</text>
<line x1="28.7" y1="418.5" x2="31.7" y2="418.5" stroke="#262626" stroke-width="0.8"/>
<text x="25.90" y="420.71" font-size="6.4" fill="#2a2a2a" text-anchor="end" >5</text>
<line x1="28.7" y1="431.7" x2="31.7" y2="431.7" stroke="#262626" stroke-width="0.8"/>
<text x="25.90" y="433.91" font-size="6.4" fill="#2a2a2a" text-anchor="end" >0</text>
<line x1="28.7" y1="445.2" x2="31.7" y2="445.2" stroke="#262626" stroke-width="0.8"/>
<text x="25.90" y="447.41" font-size="6.4" fill="#2a2a2a" text-anchor="end" >−5</text>
<line x1="31.7" y1="452.3" x2="145" y2="452.3" stroke="#262626" stroke-width="1.2"/>
<line x1="34.8" y1="452.3" x2="34.8" y2="455.3" stroke="#262626" stroke-width="0.8"/>
<text x="34.80" y="463.51" font-size="6.4" fill="#2a2a2a" text-anchor="middle" >−10</text>
<line x1="53.8" y1="452.3" x2="53.8" y2="455.3" stroke="#262626" stroke-width="0.8"/>
<text x="53.80" y="463.51" font-size="6.4" fill="#2a2a2a" text-anchor="middle" >−5</text>
<line x1="73.2" y1="452.3" x2="73.2" y2="455.3" stroke="#262626" stroke-width="0.8"/>
<text x="73.20" y="463.51" font-size="6.4" fill="#2a2a2a" text-anchor="middle" >0</text>
<line x1="92.3" y1="452.3" x2="92.3" y2="455.3" stroke="#262626" stroke-width="0.8"/>
<text x="92.30" y="463.51" font-size="6.4" fill="#2a2a2a" text-anchor="middle" >5</text>
<line x1="112.3" y1="452.3" x2="112.3" y2="455.3" stroke="#262626" stroke-width="0.8"/>
<text x="112.30" y="463.51" font-size="6.4" fill="#2a2a2a" text-anchor="middle" >10</text>
<line x1="131.7" y1="452.3" x2="131.7" y2="455.3" stroke="#262626" stroke-width="0.8"/>
<text x="131.70" y="463.51" font-size="6.4" fill="#2a2a2a" text-anchor="middle" >15</text>
<line x1="177.7" y1="379.4" x2="177.7" y2="452.3" stroke="#262626" stroke-width="1.2"/>
<line x1="174.7" y1="391.7" x2="177.7" y2="391.7" stroke="#262626" stroke-width="0.8"/>
<text x="171.90" y="393.91" font-size="6.4" fill="#2a2a2a" text-anchor="end" >15</text>
<line x1="174.7" y1="405.2" x2="177.7" y2="405.2" stroke="#262626" stroke-width="0.8"/>
<text x="171.90" y="407.41" font-size="6.4" fill="#2a2a2a" text-anchor="end" >10</text>
<line x1="174.7" y1="418.5" x2="177.7" y2="418.5" stroke="#262626" stroke-width="0.8"/>
<text x="171.90" y="420.71" font-size="6.4" fill="#2a2a2a" text-anchor="end" >5</text>
<line x1="174.7" y1="431.7" x2="177.7" y2="431.7" stroke="#262626" stroke-width="0.8"/>
<text x="171.90" y="433.91" font-size="6.4" fill="#2a2a2a" text-anchor="end" >0</text>
<line x1="174.7" y1="445.2" x2="177.7" y2="445.2" stroke="#262626" stroke-width="0.8"/>
<text x="171.90" y="447.41" font-size="6.4" fill="#2a2a2a" text-anchor="end" >−5</text>
<line x1="177.7" y1="452.3" x2="291" y2="452.3" stroke="#262626" stroke-width="1.2"/>
<line x1="181.7" y1="452.3" x2="181.7" y2="455.3" stroke="#262626" stroke-width="0.8"/>
<text x="181.70" y="463.51" font-size="6.4" fill="#2a2a2a" text-anchor="middle" >−10</text>
<line x1="200.8" y1="452.3" x2="200.8" y2="455.3" stroke="#262626" stroke-width="0.8"/>
<text x="200.80" y="463.51" font-size="6.4" fill="#2a2a2a" text-anchor="middle" >−5</text>
<line x1="220.2" y1="452.3" x2="220.2" y2="455.3" stroke="#262626" stroke-width="0.8"/>
<text x="220.20" y="463.51" font-size="6.4" fill="#2a2a2a" text-anchor="middle" >0</text>
<line x1="238.6" y1="452.3" x2="238.6" y2="455.3" stroke="#262626" stroke-width="0.8"/>
<text x="238.60" y="463.51" font-size="6.4" fill="#2a2a2a" text-anchor="middle" >5</text>
<line x1="257.7" y1="452.3" x2="257.7" y2="455.3" stroke="#262626" stroke-width="0.8"/>
<text x="257.70" y="463.51" font-size="6.4" fill="#2a2a2a" text-anchor="middle" >10</text>
<line x1="277.7" y1="452.3" x2="277.7" y2="455.3" stroke="#262626" stroke-width="0.8"/>
<text x="277.70" y="463.51" font-size="6.4" fill="#2a2a2a" text-anchor="middle" >15</text>
<text x="88.00" y="473.98" font-size="7.2" fill="#1e1e1e" text-anchor="middle" font-weight="bold" textLength="2.6" lengthAdjust="spacingAndGlyphs" >x</text>
<text x="233.30" y="473.98" font-size="7.2" fill="#1e1e1e" text-anchor="middle" font-weight="bold" textLength="2.6" lengthAdjust="spacingAndGlyphs" >x</text>
<text x="13.76" y="415.50" font-size="8" fill="#1e1e1e" text-anchor="middle" font-weight="bold" textLength="3.1" lengthAdjust="spacingAndGlyphs" transform="rotate(-90 13.76 415.50)" >y</text>
<text x="159.36" y="415.50" font-size="8" fill="#1e1e1e" text-anchor="middle" font-weight="bold" textLength="3.1" lengthAdjust="spacingAndGlyphs" transform="rotate(-90 159.36 415.50)" >y</text>
<path d="M64.8,401.7 L66.3,396.3 L69.0,391.2 L73.6,386.4 L82.4,383.5 L92.4,383.5 L100.1,385.3 L106.2,388.8 L109.3,393.1" fill="none" stroke="#e3e3e3" stroke-width="4.4" stroke-linejoin="round" stroke-linecap="round"/>
<path d="M64.8,401.7 L66.3,396.3 L69.0,391.2 L73.6,386.4 L82.4,383.5 L92.4,383.5 L100.1,385.3 L106.2,388.8 L109.3,393.1" fill="none" stroke="#eeeeee" stroke-width="1.54" stroke-linejoin="round" stroke-linecap="round" stroke-dasharray="1.6 1.1"/>
<path d="M109.3,393.1 L108.1,399.0 L106.6,406.2 L106.2,412.9 L107.0,418.8 L109.3,422.6" fill="none" stroke="#e3e3e3" stroke-width="7.4" stroke-linejoin="round" stroke-linecap="round"/>
<path d="M109.3,393.1 L108.1,399.0 L106.6,406.2 L106.2,412.9 L107.0,418.8 L109.3,422.6" fill="none" stroke="#eeeeee" stroke-width="3.0" stroke-linejoin="round" stroke-linecap="round" stroke-dasharray="1.6 1.1"/>
<path d="M109.3,422.6 L112.8,425.3 L117.4,427.4" fill="none" stroke="#e3e3e3" stroke-width="3.4" stroke-linejoin="round" stroke-linecap="round"/>
<path d="M109.3,422.6 L112.8,425.3 L117.4,427.4" fill="none" stroke="#eeeeee" stroke-width="1.19" stroke-linejoin="round" stroke-linecap="round" stroke-dasharray="1.6 1.1"/>
<path d="M123.1,431.2 L130.8,434.9 L135.4,439.7 L135.0,445.6 L128.9,448.0 L121.2,448.3" fill="none" stroke="#e3e3e3" stroke-width="2.6" stroke-linejoin="round" stroke-linecap="round"/>
<path d="M37.5,400.9 C37.7,399.5 38.7,397.4 40.2,396.3 C41.6,395.3 44.3,394.7 46.3,394.7 C48.4,394.7 51.0,395.4 52.5,396.3 C53.9,397.2 55.3,398.7 55.2,400.1 C55.0,401.4 53.4,403.4 51.7,404.4 C50.0,405.3 46.9,405.9 44.8,406.0 C42.7,406.0 40.2,405.5 39.0,404.6 C37.8,403.8 37.3,402.3 37.5,400.9Z" fill="#e3e3e3" />
<path d="M54.0,401.4 L58.6,402.0 L63.2,401.4" fill="none" stroke="#e3e3e3" stroke-width="1.8" stroke-linejoin="round" stroke-linecap="round"/>
<path d="M55.5,414.3 C56.7,413.6 59.3,413.8 60.5,414.5 C61.7,415.3 62.6,417.3 62.8,418.8 C63.0,420.4 62.1,422.3 61.7,423.7 C61.2,425.0 61.2,426.3 60.1,426.9 C59.1,427.5 56.5,428.0 55.5,427.4 C54.6,426.8 54.7,424.6 54.4,423.1 C54.1,421.7 53.4,420.3 53.6,418.8 C53.8,417.4 54.4,415.0 55.5,414.3Z" fill="#e3e3e3" />
<path d="M53.6,425.5 C54.5,424.2 58.5,424.5 60.9,424.7 C63.3,425.0 66.2,426.0 67.8,426.9 C69.5,427.8 69.0,429.3 70.9,430.1 C72.8,430.9 76.3,431.1 79.0,431.7 C81.6,432.3 87.0,432.9 87.0,433.6 C87.0,434.3 81.2,435.1 79.0,436.0 C76.7,436.9 74.7,437.6 73.6,439.2 C72.5,440.8 73.5,444.0 72.4,445.6 C71.4,447.2 69.6,448.4 67.4,448.9 C65.3,449.3 62.0,449.0 59.8,448.6 C57.5,448.2 55.1,447.9 54.0,446.4 C52.9,445.0 53.0,442.0 53.2,439.7 C53.5,437.5 55.5,435.4 55.5,433.0 C55.6,430.7 52.7,426.9 53.6,425.5Z" fill="#e3e3e3" />
<g fill="#f4f4f4" stroke="#cfcfcf" stroke-width="0.35"><circle cx="46.8" cy="396.8" r="0.9"/><circle cx="42.0" cy="397.6" r="0.9"/><circle cx="44.9" cy="401.2" r="0.9"/><circle cx="53.7" cy="400.0" r="0.9"/><circle cx="46.1" cy="398.0" r="0.9"/><circle cx="51.8" cy="400.4" r="0.9"/><circle cx="49.2" cy="403.2" r="0.9"/><circle cx="44.3" cy="401.8" r="0.9"/><circle cx="41.3" cy="403.7" r="0.9"/><circle cx="39.5" cy="400.9" r="0.9"/><circle cx="45.4" cy="401.4" r="0.9"/><circle cx="46.6" cy="404.0" r="0.9"/><circle cx="45.9" cy="399.5" r="0.9"/><circle cx="50.0" cy="402.8" r="0.9"/><circle cx="44.8" cy="404.8" r="0.9"/><circle cx="44.6" cy="404.9" r="0.9"/><circle cx="40.6" cy="397.7" r="0.9"/><circle cx="39.0" cy="398.8" r="0.9"/><circle cx="48.1" cy="401.4" r="0.9"/><circle cx="48.8" cy="398.6" r="0.9"/><circle cx="51.5" cy="401.0" r="0.9"/><circle cx="43.2" cy="402.2" r="0.9"/><circle cx="41.3" cy="400.5" r="0.9"/><circle cx="42.7" cy="397.4" r="0.9"/><circle cx="39.7" cy="402.7" r="0.9"/><circle cx="43.1" cy="404.6" r="0.9"/><circle cx="51.3" cy="404.1" r="0.9"/><circle cx="44.8" cy="402.1" r="0.9"/><circle cx="51.4" cy="404.0" r="0.9"/><circle cx="51.3" cy="402.4" r="0.9"/><circle cx="45.5" cy="402.5" r="0.9"/><circle cx="49.3" cy="403.5" r="0.9"/><circle cx="45.9" cy="399.2" r="0.9"/><circle cx="51.2" cy="404.2" r="0.9"/><circle cx="52.4" cy="398.1" r="0.9"/><circle cx="43.7" cy="399.3" r="0.9"/><circle cx="44.4" cy="396.3" r="0.9"/><circle cx="47.5" cy="401.1" r="0.9"/><circle cx="45.0" cy="401.0" r="0.9"/><circle cx="45.4" cy="403.1" r="0.9"/><circle cx="52.2" cy="403.6" r="0.9"/><circle cx="38.3" cy="400.5" r="0.9"/><circle cx="45.5" cy="399.1" r="0.9"/><circle cx="45.2" cy="400.8" r="0.9"/><circle cx="48.0" cy="397.4" r="0.9"/></g>
<g fill="#f4f4f4" stroke="#cfcfcf" stroke-width="0.35"><circle cx="60.9" cy="439.6" r="0.9"/><circle cx="71.5" cy="434.6" r="0.9"/><circle cx="60.2" cy="427.9" r="0.9"/><circle cx="67.9" cy="440.8" r="0.9"/><circle cx="57.4" cy="435.3" r="0.9"/><circle cx="59.4" cy="443.2" r="0.9"/><circle cx="57.1" cy="440.0" r="0.9"/><circle cx="69.5" cy="439.7" r="0.9"/><circle cx="56.8" cy="433.4" r="0.9"/><circle cx="64.0" cy="431.5" r="0.9"/><circle cx="69.9" cy="438.1" r="0.9"/><circle cx="62.7" cy="437.4" r="0.9"/><circle cx="57.8" cy="433.1" r="0.9"/><circle cx="70.5" cy="436.1" r="0.9"/><circle cx="62.1" cy="438.9" r="0.9"/><circle cx="59.4" cy="442.0" r="0.9"/><circle cx="61.3" cy="442.5" r="0.9"/><circle cx="61.6" cy="445.5" r="0.9"/><circle cx="65.8" cy="436.7" r="0.9"/><circle cx="59.7" cy="446.0" r="0.9"/><circle cx="63.6" cy="430.2" r="0.9"/><circle cx="59.4" cy="440.2" r="0.9"/><circle cx="60.4" cy="432.8" r="0.9"/><circle cx="59.0" cy="431.3" r="0.9"/><circle cx="61.9" cy="431.1" r="0.9"/><circle cx="63.8" cy="438.7" r="0.9"/><circle cx="56.7" cy="440.7" r="0.9"/><circle cx="62.1" cy="432.6" r="0.9"/><circle cx="65.0" cy="441.8" r="0.9"/><circle cx="65.8" cy="430.9" r="0.9"/><circle cx="62.7" cy="440.1" r="0.9"/><circle cx="61.4" cy="431.8" r="0.9"/><circle cx="66.5" cy="442.9" r="0.9"/><circle cx="65.8" cy="440.4" r="0.9"/><circle cx="59.9" cy="430.0" r="0.9"/><circle cx="68.0" cy="441.6" r="0.9"/><circle cx="64.1" cy="433.6" r="0.9"/><circle cx="59.8" cy="437.9" r="0.9"/><circle cx="66.4" cy="445.8" r="0.9"/><circle cx="65.5" cy="432.1" r="0.9"/><circle cx="66.1" cy="444.7" r="0.9"/><circle cx="65.4" cy="442.7" r="0.9"/><circle cx="66.9" cy="433.1" r="0.9"/><circle cx="64.9" cy="442.2" r="0.9"/><circle cx="60.4" cy="431.7" r="0.9"/><circle cx="58.7" cy="433.9" r="0.9"/><circle cx="66.7" cy="439.0" r="0.9"/><circle cx="72.2" cy="436.8" r="0.9"/><circle cx="70.0" cy="444.0" r="0.9"/><circle cx="55.7" cy="433.1" r="0.9"/><circle cx="67.3" cy="439.2" r="0.9"/><circle cx="63.4" cy="446.4" r="0.9"/><circle cx="60.3" cy="443.3" r="0.9"/><circle cx="62.3" cy="431.3" r="0.9"/><circle cx="63.9" cy="434.4" r="0.9"/><circle cx="59.6" cy="439.9" r="0.9"/><circle cx="64.3" cy="439.1" r="0.9"/><circle cx="69.6" cy="441.9" r="0.9"/><circle cx="71.0" cy="441.5" r="0.9"/><circle cx="69.0" cy="441.6" r="0.9"/><circle cx="71.2" cy="436.3" r="0.9"/><circle cx="65.9" cy="432.1" r="0.9"/><circle cx="60.3" cy="443.4" r="0.9"/><circle cx="56.3" cy="432.0" r="0.9"/><circle cx="59.7" cy="440.9" r="0.9"/><circle cx="63.5" cy="427.6" r="0.9"/><circle cx="55.9" cy="435.8" r="0.9"/><circle cx="61.3" cy="433.4" r="0.9"/><circle cx="55.8" cy="439.0" r="0.9"/><circle cx="67.3" cy="429.1" r="0.9"/><circle cx="70.6" cy="441.4" r="0.9"/><circle cx="63.9" cy="437.8" r="0.9"/><circle cx="57.9" cy="443.9" r="0.9"/><circle cx="68.0" cy="435.4" r="0.9"/><circle cx="62.9" cy="429.7" r="0.9"/><circle cx="58.2" cy="433.8" r="0.9"/><circle cx="63.7" cy="437.5" r="0.9"/><circle cx="66.6" cy="435.8" r="0.9"/><circle cx="65.2" cy="435.2" r="0.9"/><circle cx="71.7" cy="438.6" r="0.9"/><circle cx="69.0" cy="433.3" r="0.9"/><circle cx="61.6" cy="431.8" r="0.9"/><circle cx="59.4" cy="430.5" r="0.9"/><circle cx="59.1" cy="440.2" r="0.9"/><circle cx="65.4" cy="431.6" r="0.9"/><circle cx="68.3" cy="431.7" r="0.9"/><circle cx="62.4" cy="443.2" r="0.9"/><circle cx="66.9" cy="435.0" r="0.9"/><circle cx="58.8" cy="431.4" r="0.9"/><circle cx="64.7" cy="443.2" r="0.9"/><circle cx="65.8" cy="444.7" r="0.9"/><circle cx="58.7" cy="434.5" r="0.9"/><circle cx="56.2" cy="436.9" r="0.9"/><circle cx="57.1" cy="433.0" r="0.9"/><circle cx="59.4" cy="435.8" r="0.9"/><circle cx="56.4" cy="439.0" r="0.9"/><circle cx="68.8" cy="434.2" r="0.9"/><circle cx="56.2" cy="432.8" r="0.9"/><circle cx="68.6" cy="439.5" r="0.9"/><circle cx="69.9" cy="442.5" r="0.9"/><circle cx="63.1" cy="430.1" r="0.9"/><circle cx="69.3" cy="430.6" r="0.9"/><circle cx="59.2" cy="445.2" r="0.9"/><circle cx="65.5" cy="445.1" r="0.9"/><circle cx="62.9" cy="444.7" r="0.9"/><circle cx="69.0" cy="432.3" r="0.9"/><circle cx="66.9" cy="436.9" r="0.9"/><circle cx="63.9" cy="439.2" r="0.9"/><circle cx="65.9" cy="435.3" r="0.9"/><circle cx="66.3" cy="440.0" r="0.9"/></g>
<g fill="#f4f4f4" stroke="#cfcfcf" stroke-width="0.35"><circle cx="61.8" cy="418.9" r="0.9"/><circle cx="61.0" cy="417.0" r="0.9"/><circle cx="57.7" cy="422.4" r="0.9"/><circle cx="61.2" cy="420.2" r="0.9"/><circle cx="59.2" cy="420.1" r="0.9"/><circle cx="59.2" cy="422.0" r="0.9"/><circle cx="58.8" cy="420.6" r="0.9"/><circle cx="59.0" cy="423.0" r="0.9"/><circle cx="60.6" cy="418.6" r="0.9"/><circle cx="56.4" cy="420.7" r="0.9"/><circle cx="59.1" cy="417.8" r="0.9"/><circle cx="59.0" cy="416.4" r="0.9"/><circle cx="59.0" cy="421.7" r="0.9"/><circle cx="57.7" cy="417.6" r="0.9"/><circle cx="57.8" cy="417.4" r="0.9"/></g>
<g fill="#f4f4f4" stroke="#cfcfcf" stroke-width="0.35"><circle cx="91.0" cy="384.2" r="0.9"/><circle cx="91.3" cy="385.0" r="0.9"/><circle cx="82.7" cy="385.4" r="0.9"/><circle cx="78.6" cy="386.1" r="0.9"/><circle cx="78.3" cy="385.8" r="0.9"/><circle cx="72.1" cy="384.7" r="0.9"/><circle cx="87.0" cy="385.2" r="0.9"/><circle cx="92.4" cy="384.0" r="0.9"/><circle cx="91.2" cy="385.4" r="0.9"/><circle cx="72.1" cy="384.3" r="0.9"/><circle cx="85.5" cy="384.0" r="0.9"/><circle cx="86.0" cy="383.6" r="0.9"/><circle cx="80.2" cy="384.1" r="0.9"/><circle cx="78.1" cy="386.3" r="0.9"/><circle cx="79.6" cy="383.5" r="0.9"/><circle cx="72.2" cy="384.0" r="0.9"/><circle cx="76.8" cy="385.2" r="0.9"/><circle cx="83.2" cy="384.6" r="0.9"/><circle cx="74.6" cy="384.7" r="0.9"/><circle cx="86.6" cy="383.9" r="0.9"/><circle cx="77.6" cy="383.5" r="0.9"/><circle cx="91.1" cy="383.5" r="0.9"/><circle cx="72.5" cy="384.6" r="0.9"/><circle cx="70.8" cy="384.5" r="0.9"/><circle cx="87.2" cy="385.9" r="0.9"/><circle cx="71.5" cy="384.6" r="0.9"/><circle cx="88.1" cy="385.6" r="0.9"/><circle cx="81.4" cy="386.4" r="0.9"/><circle cx="76.5" cy="384.6" r="0.9"/><circle cx="83.9" cy="383.4" r="0.9"/><circle cx="76.9" cy="386.2" r="0.9"/><circle cx="86.8" cy="385.4" r="0.9"/><circle cx="85.3" cy="384.0" r="0.9"/><circle cx="87.1" cy="383.6" r="0.9"/><circle cx="90.8" cy="386.0" r="0.9"/><circle cx="82.4" cy="383.3" r="0.9"/><circle cx="79.4" cy="383.8" r="0.9"/><circle cx="82.3" cy="385.3" r="0.9"/><circle cx="93.1" cy="384.0" r="0.9"/><circle cx="80.7" cy="383.9" r="0.9"/></g>
<g fill="#f4f4f4" stroke="#cfcfcf" stroke-width="0.35"><circle cx="105.3" cy="411.0" r="0.9"/><circle cx="108.3" cy="405.9" r="0.9"/><circle cx="105.5" cy="403.0" r="0.9"/><circle cx="107.4" cy="397.3" r="0.9"/><circle cx="108.4" cy="408.3" r="0.9"/><circle cx="106.2" cy="407.4" r="0.9"/><circle cx="106.7" cy="396.5" r="0.9"/><circle cx="108.6" cy="398.9" r="0.9"/><circle cx="107.6" cy="408.3" r="0.9"/><circle cx="108.3" cy="408.9" r="0.9"/><circle cx="107.3" cy="416.6" r="0.9"/><circle cx="106.5" cy="396.7" r="0.9"/><circle cx="105.8" cy="415.2" r="0.9"/><circle cx="106.8" cy="395.8" r="0.9"/><circle cx="108.8" cy="408.6" r="0.9"/><circle cx="106.2" cy="407.2" r="0.9"/><circle cx="105.6" cy="406.0" r="0.9"/><circle cx="106.6" cy="416.0" r="0.9"/><circle cx="106.1" cy="408.3" r="0.9"/><circle cx="105.9" cy="413.8" r="0.9"/><circle cx="107.9" cy="396.0" r="0.9"/><circle cx="106.5" cy="409.7" r="0.9"/><circle cx="107.8" cy="408.1" r="0.9"/><circle cx="106.0" cy="397.3" r="0.9"/><circle cx="105.6" cy="411.4" r="0.9"/><circle cx="106.1" cy="412.8" r="0.9"/><circle cx="106.6" cy="401.6" r="0.9"/><circle cx="108.8" cy="402.0" r="0.9"/><circle cx="107.0" cy="415.1" r="0.9"/><circle cx="106.9" cy="413.5" r="0.9"/><circle cx="106.9" cy="398.8" r="0.9"/><circle cx="107.3" cy="408.0" r="0.9"/><circle cx="105.8" cy="406.4" r="0.9"/><circle cx="107.2" cy="413.4" r="0.9"/><circle cx="106.3" cy="399.6" r="0.9"/><circle cx="105.0" cy="409.0" r="0.9"/><circle cx="105.7" cy="397.4" r="0.9"/><circle cx="107.9" cy="402.2" r="0.9"/><circle cx="107.6" cy="403.9" r="0.9"/><circle cx="107.3" cy="416.4" r="0.9"/><circle cx="107.4" cy="401.4" r="0.9"/><circle cx="105.3" cy="401.0" r="0.9"/><circle cx="107.8" cy="415.8" r="0.9"/><circle cx="106.3" cy="408.8" r="0.9"/><circle cx="106.2" cy="403.1" r="0.9"/></g>
<circle cx="135.6" cy="436.5" r="0.75" fill="#24102e"/><circle cx="131.6" cy="431.5" r="0.75" fill="#7a4c92"/><circle cx="129.0" cy="447.9" r="0.75" fill="#4a2060"/><circle cx="127.0" cy="446.8" r="0.75" fill="#4a2060"/><circle cx="135.5" cy="441.4" r="0.75" fill="#7a4c92"/><circle cx="108.3" cy="400.8" r="0.75" fill="#3c1a52"/><circle cx="134.9" cy="447.8" r="0.75" fill="#4a2060"/><circle cx="137.0" cy="438.5" r="0.75" fill="#5a2c72"/><circle cx="107.2" cy="403.2" r="0.75" fill="#7a4c92"/><circle cx="112.7" cy="417.1" r="0.75" fill="#5a2c72"/><circle cx="114.9" cy="422.3" r="0.75" fill="#3c1a52"/><circle cx="106.7" cy="401.6" r="0.75" fill="#7a4c92"/><circle cx="137.0" cy="436.8" r="0.75" fill="#24102e"/><circle cx="137.1" cy="442.2" r="0.75" fill="#4a2060"/><circle cx="135.6" cy="447.0" r="0.75" fill="#24102e"/><circle cx="122.2" cy="447.8" r="0.75" fill="#5a2c72"/><circle cx="134.4" cy="435.5" r="0.75" fill="#3c1a52"/><circle cx="133.2" cy="446.3" r="0.75" fill="#5a2c72"/><circle cx="133.1" cy="433.6" r="0.75" fill="#7a4c92"/><circle cx="120.6" cy="426.5" r="0.75" fill="#7a4c92"/><circle cx="135.1" cy="446.0" r="0.75" fill="#3c1a52"/><circle cx="135.3" cy="444.0" r="0.75" fill="#4a2060"/><circle cx="129.7" cy="431.5" r="0.75" fill="#5a2c72"/><circle cx="123.5" cy="428.1" r="0.75" fill="#4a2060"/><circle cx="119.9" cy="425.1" r="0.75" fill="#7a4c92"/><circle cx="135.4" cy="436.2" r="0.75" fill="#4a2060"/><circle cx="117.2" cy="423.7" r="0.75" fill="#3c1a52"/><circle cx="133.6" cy="433.7" r="0.75" fill="#3c1a52"/><circle cx="124.1" cy="428.3" r="0.75" fill="#5a2c72"/><circle cx="122.9" cy="428.3" r="0.75" fill="#24102e"/><circle cx="136.3" cy="439.4" r="0.75" fill="#3c1a52"/><circle cx="132.7" cy="445.1" r="0.75" fill="#7a4c92"/><circle cx="135.4" cy="447.4" r="0.75" fill="#4a2060"/><circle cx="125.6" cy="430.6" r="0.75" fill="#24102e"/><circle cx="129.5" cy="431.0" r="0.75" fill="#3c1a52"/><circle cx="137.0" cy="438.2" r="0.75" fill="#3c1a52"/><circle cx="105.8" cy="399.5" r="0.75" fill="#5a2c72"/><circle cx="136.7" cy="441.7" r="0.75" fill="#7a4c92"/><circle cx="129.4" cy="431.9" r="0.75" fill="#3c1a52"/><circle cx="132.8" cy="434.5" r="0.75" fill="#7a4c92"/><circle cx="111.2" cy="412.5" r="0.75" fill="#3c1a52"/><circle cx="134.8" cy="436.2" r="0.75" fill="#7a4c92"/><circle cx="118.0" cy="425.5" r="0.75" fill="#4a2060"/><circle cx="132.0" cy="431.3" r="0.75" fill="#7a4c92"/><circle cx="122.6" cy="428.8" r="0.75" fill="#24102e"/><circle cx="131.1" cy="447.4" r="0.75" fill="#7a4c92"/><circle cx="125.4" cy="447.7" r="0.75" fill="#3c1a52"/><circle cx="133.4" cy="446.6" r="0.75" fill="#3c1a52"/><circle cx="127.6" cy="432.3" r="0.75" fill="#3c1a52"/><circle cx="129.6" cy="448.2" r="0.75" fill="#24102e"/><circle cx="122.7" cy="448.0" r="0.75" fill="#3c1a52"/><circle cx="129.7" cy="431.2" r="0.75" fill="#5a2c72"/><circle cx="123.8" cy="428.4" r="0.75" fill="#5a2c72"/><circle cx="137.4" cy="437.8" r="0.75" fill="#5a2c72"/><circle cx="120.9" cy="427.6" r="0.75" fill="#4a2060"/><circle cx="129.9" cy="432.3" r="0.75" fill="#7a4c92"/><circle cx="119.7" cy="423.7" r="0.75" fill="#3c1a52"/><circle cx="137.0" cy="438.8" r="0.75" fill="#24102e"/><circle cx="111.0" cy="413.5" r="0.75" fill="#4a2060"/><circle cx="111.5" cy="417.7" r="0.75" fill="#24102e"/><circle cx="132.9" cy="435.1" r="0.75" fill="#24102e"/><circle cx="130.3" cy="448.2" r="0.75" fill="#5a2c72"/><circle cx="113.9" cy="419.1" r="0.75" fill="#3c1a52"/><circle cx="130.7" cy="430.8" r="0.75" fill="#4a2060"/><circle cx="135.1" cy="441.9" r="0.75" fill="#3c1a52"/><circle cx="136.8" cy="438.2" r="0.75" fill="#3c1a52"/><circle cx="129.5" cy="431.7" r="0.75" fill="#5a2c72"/><circle cx="129.0" cy="432.0" r="0.75" fill="#5a2c72"/><circle cx="130.4" cy="447.6" r="0.75" fill="#4a2060"/><circle cx="130.2" cy="447.1" r="0.75" fill="#4a2060"/><circle cx="123.4" cy="447.7" r="0.75" fill="#7a4c92"/><circle cx="134.8" cy="435.3" r="0.75" fill="#3c1a52"/><circle cx="120.0" cy="424.1" r="0.75" fill="#24102e"/><circle cx="136.6" cy="435.5" r="0.75" fill="#5a2c72"/><circle cx="135.5" cy="444.9" r="0.75" fill="#24102e"/><circle cx="135.5" cy="433.9" r="0.75" fill="#5a2c72"/><circle cx="112.2" cy="416.1" r="0.75" fill="#3c1a52"/><circle cx="119.1" cy="426.2" r="0.75" fill="#24102e"/><circle cx="125.0" cy="448.2" r="0.75" fill="#24102e"/><circle cx="123.4" cy="447.0" r="0.75" fill="#7a4c92"/><circle cx="135.3" cy="436.5" r="0.75" fill="#24102e"/><circle cx="124.8" cy="429.8" r="0.75" fill="#24102e"/><circle cx="136.5" cy="446.3" r="0.75" fill="#3c1a52"/><circle cx="113.2" cy="421.1" r="0.75" fill="#5a2c72"/><circle cx="127.2" cy="447.8" r="0.75" fill="#7a4c92"/><circle cx="131.9" cy="432.7" r="0.75" fill="#4a2060"/><circle cx="108.3" cy="402.7" r="0.75" fill="#7a4c92"/><circle cx="128.1" cy="448.6" r="0.75" fill="#3c1a52"/><circle cx="134.6" cy="433.6" r="0.75" fill="#7a4c92"/><circle cx="134.0" cy="434.0" r="0.75" fill="#7a4c92"/><circle cx="108.9" cy="403.3" r="0.75" fill="#4a2060"/><circle cx="124.7" cy="427.9" r="0.75" fill="#7a4c92"/><circle cx="136.3" cy="436.8" r="0.75" fill="#24102e"/><circle cx="107.5" cy="398.6" r="0.75" fill="#3c1a52"/><circle cx="128.7" cy="448.1" r="0.75" fill="#4a2060"/><circle cx="135.1" cy="435.2" r="0.75" fill="#24102e"/><circle cx="117.7" cy="427.0" r="0.75" fill="#4a2060"/><circle cx="112.5" cy="417.4" r="0.75" fill="#24102e"/><circle cx="131.5" cy="446.6" r="0.75" fill="#5a2c72"/><circle cx="137.0" cy="437.2" r="0.75" fill="#7a4c92"/><circle cx="131.6" cy="449.1" r="0.75" fill="#4a2060"/><circle cx="125.2" cy="428.8" r="0.75" fill="#3c1a52"/><circle cx="135.1" cy="434.3" r="0.75" fill="#24102e"/><circle cx="112.0" cy="417.4" r="0.75" fill="#4a2060"/><circle cx="135.4" cy="437.0" r="0.75" fill="#7a4c92"/><circle cx="120.2" cy="425.8" r="0.75" fill="#7a4c92"/><circle cx="125.1" cy="447.7" r="0.75" fill="#5a2c72"/><circle cx="125.5" cy="448.1" r="0.75" fill="#7a4c92"/><circle cx="137.5" cy="436.6" r="0.75" fill="#7a4c92"/><circle cx="123.6" cy="447.7" r="0.75" fill="#5a2c72"/><circle cx="135.5" cy="445.8" r="0.75" fill="#3c1a52"/><circle cx="136.5" cy="440.3" r="0.75" fill="#24102e"/><circle cx="123.1" cy="448.7" r="0.75" fill="#7a4c92"/><circle cx="134.6" cy="434.1" r="0.75" fill="#5a2c72"/><circle cx="123.4" cy="428.4" r="0.75" fill="#5a2c72"/><circle cx="47.1" cy="398.7" r="0.85" fill="#2a1038"/><circle cx="38.3" cy="404.6" r="0.85" fill="#a05878"/><circle cx="41.7" cy="405.4" r="0.85" fill="#8a4a70"/><circle cx="60.1" cy="402.5" r="0.85" fill="#2a1038"/><circle cx="61.7" cy="406.0" r="0.85" fill="#3a1a48"/><circle cx="52.8" cy="411.9" r="0.85" fill="#4a2060"/><circle cx="99.7" cy="403.6" r="0.85" fill="#2a1038"/><circle cx="76.7" cy="432.8" r="0.85" fill="#2a1038"/><circle cx="98.9" cy="436.0" r="0.85" fill="#c8a0b0"/><circle cx="58.6" cy="419.9" r="0.85" fill="#b07090"/><circle cx="60.5" cy="422.3" r="0.85" fill="#b07090"/><circle cx="72.4" cy="409.7" r="0.85" fill="#c890a8"/><circle cx="72.4" cy="414.0" r="0.85" fill="#d0a8b8"/><circle cx="66.7" cy="401.4" r="0.85" fill="#c8a0b8"/>
<path d="M211.8,401.7 L213.3,396.3 L216.0,391.2 L220.6,386.4 L229.4,383.5 L239.4,383.5 L247.1,385.3 L253.2,388.8 L256.3,393.1" fill="none" stroke="#e3e3e3" stroke-width="4.4" stroke-linejoin="round" stroke-linecap="round"/>
<path d="M211.8,401.7 L213.3,396.3 L216.0,391.2 L220.6,386.4 L229.4,383.5 L239.4,383.5 L247.1,385.3 L253.2,388.8 L256.3,393.1" fill="none" stroke="#eeeeee" stroke-width="1.54" stroke-linejoin="round" stroke-linecap="round" stroke-dasharray="1.6 1.1"/>
<path d="M256.3,393.1 L255.1,399.0 L253.6,406.2 L253.2,412.9 L254.0,418.8 L256.3,422.6" fill="none" stroke="#e3e3e3" stroke-width="7.4" stroke-linejoin="round" stroke-linecap="round"/>
<path d="M256.3,393.1 L255.1,399.0 L253.6,406.2 L253.2,412.9 L254.0,418.8 L256.3,422.6" fill="none" stroke="#eeeeee" stroke-width="3.0" stroke-linejoin="round" stroke-linecap="round" stroke-dasharray="1.6 1.1"/>
<path d="M256.3,422.6 L259.8,425.3 L264.4,427.4" fill="none" stroke="#e3e3e3" stroke-width="3.4" stroke-linejoin="round" stroke-linecap="round"/>
<path d="M256.3,422.6 L259.8,425.3 L264.4,427.4" fill="none" stroke="#eeeeee" stroke-width="1.19" stroke-linejoin="round" stroke-linecap="round" stroke-dasharray="1.6 1.1"/>
<path d="M270.1,431.2 L277.8,434.9 L282.4,439.7 L282.0,445.6 L275.9,448.0 L268.2,448.3" fill="none" stroke="#e3e3e3" stroke-width="2.6" stroke-linejoin="round" stroke-linecap="round"/>
<path d="M184.5,400.9 C184.7,399.5 185.7,397.4 187.2,396.3 C188.6,395.3 191.3,394.7 193.3,394.7 C195.4,394.7 198.0,395.4 199.5,396.3 C200.9,397.2 202.3,398.7 202.2,400.1 C202.0,401.4 200.4,403.4 198.7,404.4 C197.0,405.3 193.9,405.9 191.8,406.0 C189.7,406.0 187.2,405.5 186.0,404.6 C184.8,403.8 184.3,402.3 184.5,400.9Z" fill="#e3e3e3" />
<path d="M201.0,401.4 L205.6,402.0 L210.2,401.4" fill="none" stroke="#e3e3e3" stroke-width="1.8" stroke-linejoin="round" stroke-linecap="round"/>
<path d="M202.5,414.3 C203.7,413.6 206.3,413.8 207.5,414.5 C208.7,415.3 209.6,417.3 209.8,418.8 C210.0,420.4 209.1,422.3 208.7,423.7 C208.2,425.0 208.2,426.3 207.1,426.9 C206.1,427.5 203.5,428.0 202.5,427.4 C201.6,426.8 201.7,424.6 201.4,423.1 C201.1,421.7 200.4,420.3 200.6,418.8 C200.8,417.4 201.4,415.0 202.5,414.3Z" fill="#e3e3e3" />
<path d="M200.6,425.5 C201.5,424.2 205.5,424.5 207.9,424.7 C210.3,425.0 213.2,426.0 214.8,426.9 C216.5,427.8 216.0,429.3 217.9,430.1 C219.8,430.9 223.3,431.1 226.0,431.7 C228.6,432.3 234.0,432.9 234.0,433.6 C234.0,434.3 228.2,435.1 226.0,436.0 C223.7,436.9 221.7,437.6 220.6,439.2 C219.5,440.8 220.5,444.0 219.4,445.6 C218.4,447.2 216.6,448.4 214.4,448.9 C212.3,449.3 209.0,449.0 206.8,448.6 C204.5,448.2 202.1,447.9 201.0,446.4 C199.9,445.0 200.0,442.0 200.2,439.7 C200.5,437.5 202.5,435.4 202.5,433.0 C202.6,430.7 199.7,426.9 200.6,425.5Z" fill="#e3e3e3" />
<g fill="#f4f4f4" stroke="#cfcfcf" stroke-width="0.35"><circle cx="193.5" cy="398.8" r="0.9"/><circle cx="190.8" cy="399.2" r="0.9"/><circle cx="198.0" cy="399.1" r="0.9"/><circle cx="199.6" cy="402.5" r="0.9"/><circle cx="193.7" cy="402.6" r="0.9"/><circle cx="189.2" cy="400.9" r="0.9"/><circle cx="194.5" cy="399.0" r="0.9"/><circle cx="195.0" cy="395.8" r="0.9"/><circle cx="196.8" cy="404.2" r="0.9"/><circle cx="194.4" cy="402.4" r="0.9"/><circle cx="191.0" cy="396.8" r="0.9"/><circle cx="192.5" cy="404.8" r="0.9"/><circle cx="195.1" cy="401.3" r="0.9"/><circle cx="188.1" cy="402.8" r="0.9"/><circle cx="189.9" cy="400.4" r="0.9"/><circle cx="190.9" cy="400.1" r="0.9"/><circle cx="200.2" cy="402.1" r="0.9"/><circle cx="189.1" cy="401.1" r="0.9"/><circle cx="198.4" cy="402.3" r="0.9"/><circle cx="198.8" cy="403.3" r="0.9"/><circle cx="188.1" cy="400.5" r="0.9"/><circle cx="189.0" cy="402.2" r="0.9"/><circle cx="195.7" cy="398.1" r="0.9"/><circle cx="194.0" cy="401.3" r="0.9"/><circle cx="199.4" cy="399.2" r="0.9"/><circle cx="192.2" cy="396.9" r="0.9"/><circle cx="188.7" cy="399.8" r="0.9"/><circle cx="196.9" cy="400.4" r="0.9"/><circle cx="190.2" cy="399.2" r="0.9"/><circle cx="190.5" cy="402.2" r="0.9"/><circle cx="189.0" cy="397.1" r="0.9"/><circle cx="190.7" cy="397.1" r="0.9"/><circle cx="195.4" cy="401.2" r="0.9"/><circle cx="196.9" cy="399.5" r="0.9"/><circle cx="193.9" cy="404.1" r="0.9"/><circle cx="193.7" cy="397.6" r="0.9"/><circle cx="195.7" cy="397.4" r="0.9"/><circle cx="199.8" cy="399.3" r="0.9"/><circle cx="199.6" cy="403.2" r="0.9"/><circle cx="192.6" cy="405.0" r="0.9"/><circle cx="197.6" cy="400.0" r="0.9"/><circle cx="200.3" cy="401.2" r="0.9"/><circle cx="186.7" cy="397.8" r="0.9"/><circle cx="188.0" cy="403.3" r="0.9"/><circle cx="192.4" cy="398.3" r="0.9"/></g>
<g fill="#f4f4f4" stroke="#cfcfcf" stroke-width="0.35"><circle cx="207.5" cy="435.8" r="0.9"/><circle cx="204.2" cy="430.3" r="0.9"/><circle cx="210.2" cy="436.2" r="0.9"/><circle cx="214.1" cy="435.9" r="0.9"/><circle cx="211.7" cy="443.1" r="0.9"/><circle cx="209.9" cy="434.0" r="0.9"/><circle cx="216.3" cy="437.8" r="0.9"/><circle cx="211.2" cy="434.7" r="0.9"/><circle cx="214.0" cy="435.6" r="0.9"/><circle cx="209.1" cy="440.6" r="0.9"/><circle cx="216.6" cy="435.2" r="0.9"/><circle cx="210.7" cy="426.9" r="0.9"/><circle cx="215.2" cy="431.9" r="0.9"/><circle cx="211.4" cy="443.5" r="0.9"/><circle cx="216.7" cy="437.6" r="0.9"/><circle cx="210.9" cy="430.5" r="0.9"/><circle cx="216.2" cy="435.5" r="0.9"/><circle cx="210.7" cy="427.5" r="0.9"/><circle cx="213.6" cy="443.3" r="0.9"/><circle cx="215.0" cy="436.0" r="0.9"/><circle cx="210.8" cy="432.4" r="0.9"/><circle cx="211.6" cy="427.6" r="0.9"/><circle cx="211.9" cy="435.3" r="0.9"/><circle cx="216.6" cy="440.4" r="0.9"/><circle cx="216.2" cy="437.4" r="0.9"/><circle cx="216.4" cy="441.9" r="0.9"/><circle cx="212.5" cy="445.6" r="0.9"/><circle cx="207.9" cy="436.9" r="0.9"/><circle cx="212.6" cy="427.8" r="0.9"/><circle cx="217.5" cy="442.8" r="0.9"/><circle cx="206.9" cy="430.0" r="0.9"/><circle cx="212.8" cy="444.8" r="0.9"/><circle cx="213.1" cy="443.9" r="0.9"/><circle cx="206.5" cy="444.0" r="0.9"/><circle cx="209.6" cy="427.3" r="0.9"/><circle cx="212.9" cy="437.8" r="0.9"/><circle cx="219.1" cy="438.9" r="0.9"/><circle cx="209.7" cy="438.9" r="0.9"/><circle cx="213.1" cy="439.2" r="0.9"/><circle cx="217.7" cy="438.7" r="0.9"/><circle cx="214.0" cy="435.5" r="0.9"/><circle cx="206.2" cy="442.8" r="0.9"/><circle cx="210.4" cy="446.9" r="0.9"/><circle cx="210.7" cy="436.5" r="0.9"/><circle cx="211.5" cy="437.6" r="0.9"/><circle cx="212.7" cy="439.5" r="0.9"/><circle cx="213.5" cy="445.4" r="0.9"/><circle cx="215.3" cy="442.3" r="0.9"/><circle cx="213.5" cy="440.2" r="0.9"/><circle cx="208.2" cy="442.2" r="0.9"/><circle cx="216.6" cy="442.7" r="0.9"/><circle cx="204.3" cy="435.7" r="0.9"/><circle cx="212.2" cy="436.7" r="0.9"/><circle cx="205.5" cy="441.0" r="0.9"/><circle cx="215.1" cy="443.0" r="0.9"/><circle cx="214.0" cy="432.4" r="0.9"/><circle cx="211.3" cy="444.4" r="0.9"/><circle cx="218.7" cy="436.4" r="0.9"/><circle cx="211.8" cy="439.7" r="0.9"/><circle cx="205.3" cy="438.8" r="0.9"/><circle cx="211.7" cy="442.6" r="0.9"/><circle cx="211.2" cy="430.0" r="0.9"/><circle cx="213.3" cy="437.7" r="0.9"/><circle cx="215.8" cy="431.8" r="0.9"/><circle cx="215.4" cy="441.9" r="0.9"/><circle cx="203.1" cy="433.3" r="0.9"/><circle cx="211.0" cy="439.7" r="0.9"/><circle cx="213.5" cy="440.1" r="0.9"/><circle cx="208.0" cy="428.2" r="0.9"/><circle cx="203.6" cy="432.8" r="0.9"/><circle cx="214.7" cy="428.8" r="0.9"/><circle cx="212.1" cy="433.5" r="0.9"/><circle cx="205.5" cy="436.8" r="0.9"/><circle cx="202.5" cy="439.6" r="0.9"/><circle cx="210.4" cy="437.8" r="0.9"/><circle cx="208.1" cy="430.1" r="0.9"/><circle cx="203.2" cy="436.3" r="0.9"/><circle cx="208.2" cy="436.8" r="0.9"/><circle cx="210.8" cy="427.7" r="0.9"/><circle cx="205.8" cy="430.1" r="0.9"/><circle cx="217.6" cy="437.8" r="0.9"/><circle cx="207.5" cy="444.2" r="0.9"/><circle cx="207.3" cy="428.1" r="0.9"/><circle cx="202.3" cy="435.1" r="0.9"/><circle cx="207.8" cy="428.1" r="0.9"/><circle cx="212.2" cy="444.8" r="0.9"/><circle cx="207.5" cy="435.7" r="0.9"/><circle cx="211.3" cy="443.1" r="0.9"/><circle cx="208.9" cy="440.2" r="0.9"/><circle cx="213.5" cy="435.1" r="0.9"/><circle cx="211.9" cy="441.1" r="0.9"/><circle cx="215.0" cy="440.7" r="0.9"/><circle cx="206.0" cy="439.8" r="0.9"/><circle cx="208.6" cy="439.2" r="0.9"/><circle cx="203.6" cy="431.4" r="0.9"/><circle cx="213.7" cy="429.6" r="0.9"/><circle cx="208.4" cy="432.1" r="0.9"/><circle cx="211.8" cy="436.9" r="0.9"/><circle cx="218.2" cy="440.0" r="0.9"/><circle cx="213.1" cy="445.7" r="0.9"/><circle cx="214.0" cy="438.2" r="0.9"/><circle cx="205.2" cy="440.7" r="0.9"/><circle cx="203.0" cy="441.5" r="0.9"/><circle cx="211.2" cy="447.1" r="0.9"/><circle cx="215.9" cy="431.6" r="0.9"/><circle cx="207.2" cy="444.9" r="0.9"/><circle cx="204.7" cy="443.3" r="0.9"/><circle cx="207.8" cy="427.8" r="0.9"/><circle cx="204.9" cy="432.7" r="0.9"/><circle cx="216.5" cy="442.2" r="0.9"/></g>
<g fill="#f4f4f4" stroke="#cfcfcf" stroke-width="0.35"><circle cx="205.5" cy="417.7" r="0.9"/><circle cx="204.9" cy="416.7" r="0.9"/><circle cx="208.9" cy="419.5" r="0.9"/><circle cx="204.4" cy="418.0" r="0.9"/><circle cx="206.7" cy="421.2" r="0.9"/><circle cx="205.7" cy="419.1" r="0.9"/><circle cx="206.9" cy="416.8" r="0.9"/><circle cx="205.2" cy="422.1" r="0.9"/><circle cx="204.0" cy="416.6" r="0.9"/><circle cx="205.1" cy="420.4" r="0.9"/><circle cx="208.8" cy="417.8" r="0.9"/><circle cx="208.9" cy="419.6" r="0.9"/><circle cx="204.6" cy="420.6" r="0.9"/><circle cx="207.3" cy="418.3" r="0.9"/><circle cx="206.5" cy="415.8" r="0.9"/></g>
<g fill="#f4f4f4" stroke="#cfcfcf" stroke-width="0.35"><circle cx="239.1" cy="385.7" r="0.9"/><circle cx="233.7" cy="384.2" r="0.9"/><circle cx="225.8" cy="383.3" r="0.9"/><circle cx="236.0" cy="383.6" r="0.9"/><circle cx="225.6" cy="385.9" r="0.9"/><circle cx="236.5" cy="385.0" r="0.9"/><circle cx="224.5" cy="384.9" r="0.9"/><circle cx="231.8" cy="384.6" r="0.9"/><circle cx="227.9" cy="384.3" r="0.9"/><circle cx="242.2" cy="384.2" r="0.9"/><circle cx="226.7" cy="383.3" r="0.9"/><circle cx="226.4" cy="386.1" r="0.9"/><circle cx="222.4" cy="386.1" r="0.9"/><circle cx="238.0" cy="385.7" r="0.9"/><circle cx="219.4" cy="385.3" r="0.9"/><circle cx="228.2" cy="386.0" r="0.9"/><circle cx="224.5" cy="384.8" r="0.9"/><circle cx="235.0" cy="385.7" r="0.9"/><circle cx="234.8" cy="384.5" r="0.9"/><circle cx="234.6" cy="385.4" r="0.9"/><circle cx="221.2" cy="384.0" r="0.9"/><circle cx="234.8" cy="385.5" r="0.9"/><circle cx="223.2" cy="384.1" r="0.9"/><circle cx="242.2" cy="384.5" r="0.9"/><circle cx="242.9" cy="384.6" r="0.9"/><circle cx="232.9" cy="384.3" r="0.9"/><circle cx="236.9" cy="386.0" r="0.9"/><circle cx="230.9" cy="383.6" r="0.9"/><circle cx="218.5" cy="384.6" r="0.9"/><circle cx="234.6" cy="383.5" r="0.9"/><circle cx="241.1" cy="384.8" r="0.9"/><circle cx="241.2" cy="385.5" r="0.9"/><circle cx="220.8" cy="383.8" r="0.9"/><circle cx="235.0" cy="385.9" r="0.9"/><circle cx="238.1" cy="384.0" r="0.9"/><circle cx="236.1" cy="385.3" r="0.9"/><circle cx="222.1" cy="386.0" r="0.9"/><circle cx="227.7" cy="385.0" r="0.9"/><circle cx="225.2" cy="385.4" r="0.9"/><circle cx="236.7" cy="385.8" r="0.9"/></g>
<g fill="#f4f4f4" stroke="#cfcfcf" stroke-width="0.35"><circle cx="253.2" cy="395.6" r="0.9"/><circle cx="253.0" cy="411.2" r="0.9"/><circle cx="255.1" cy="416.1" r="0.9"/><circle cx="255.7" cy="413.3" r="0.9"/><circle cx="252.9" cy="414.7" r="0.9"/><circle cx="252.7" cy="411.6" r="0.9"/><circle cx="255.4" cy="406.8" r="0.9"/><circle cx="255.7" cy="401.2" r="0.9"/><circle cx="252.3" cy="406.1" r="0.9"/><circle cx="253.1" cy="409.7" r="0.9"/><circle cx="254.2" cy="403.2" r="0.9"/><circle cx="254.4" cy="417.5" r="0.9"/><circle cx="253.7" cy="410.1" r="0.9"/><circle cx="256.1" cy="407.7" r="0.9"/><circle cx="253.9" cy="406.3" r="0.9"/><circle cx="255.0" cy="414.2" r="0.9"/><circle cx="253.8" cy="407.4" r="0.9"/><circle cx="253.9" cy="408.5" r="0.9"/><circle cx="253.1" cy="405.6" r="0.9"/><circle cx="252.6" cy="397.5" r="0.9"/><circle cx="254.0" cy="417.1" r="0.9"/><circle cx="253.6" cy="399.1" r="0.9"/><circle cx="253.7" cy="407.6" r="0.9"/><circle cx="252.1" cy="400.0" r="0.9"/><circle cx="254.0" cy="417.4" r="0.9"/><circle cx="253.4" cy="396.7" r="0.9"/><circle cx="254.5" cy="416.1" r="0.9"/><circle cx="253.1" cy="404.3" r="0.9"/><circle cx="256.1" cy="405.0" r="0.9"/><circle cx="255.1" cy="408.9" r="0.9"/><circle cx="254.0" cy="413.9" r="0.9"/><circle cx="252.5" cy="414.2" r="0.9"/><circle cx="253.2" cy="397.7" r="0.9"/><circle cx="253.9" cy="397.6" r="0.9"/><circle cx="255.2" cy="405.1" r="0.9"/><circle cx="253.5" cy="395.0" r="0.9"/><circle cx="255.3" cy="398.5" r="0.9"/><circle cx="255.9" cy="400.0" r="0.9"/><circle cx="254.3" cy="403.1" r="0.9"/><circle cx="254.5" cy="394.9" r="0.9"/><circle cx="252.9" cy="416.2" r="0.9"/><circle cx="253.2" cy="406.2" r="0.9"/><circle cx="253.2" cy="399.4" r="0.9"/><circle cx="254.9" cy="406.5" r="0.9"/><circle cx="254.1" cy="395.2" r="0.9"/></g>
<circle cx="259.7" cy="422.8" r="0.75" fill="#4a2060"/><circle cx="282.6" cy="438.7" r="0.75" fill="#5a2c72"/><circle cx="271.1" cy="448.5" r="0.75" fill="#5a2c72"/><circle cx="281.0" cy="441.9" r="0.75" fill="#24102e"/><circle cx="280.8" cy="446.3" r="0.75" fill="#5a2c72"/><circle cx="263.1" cy="424.3" r="0.75" fill="#5a2c72"/><circle cx="281.3" cy="443.2" r="0.75" fill="#24102e"/><circle cx="280.0" cy="445.2" r="0.75" fill="#3c1a52"/><circle cx="274.7" cy="447.3" r="0.75" fill="#4a2060"/><circle cx="281.1" cy="438.7" r="0.75" fill="#7a4c92"/><circle cx="275.0" cy="446.6" r="0.75" fill="#5a2c72"/><circle cx="273.9" cy="430.7" r="0.75" fill="#5a2c72"/><circle cx="268.4" cy="448.3" r="0.75" fill="#4a2060"/><circle cx="281.3" cy="444.1" r="0.75" fill="#24102e"/><circle cx="263.6" cy="426.8" r="0.75" fill="#3c1a52"/><circle cx="264.9" cy="428.1" r="0.75" fill="#4a2060"/><circle cx="280.7" cy="436.6" r="0.75" fill="#7a4c92"/><circle cx="263.1" cy="426.0" r="0.75" fill="#24102e"/><circle cx="273.6" cy="431.3" r="0.75" fill="#3c1a52"/><circle cx="281.8" cy="445.6" r="0.75" fill="#5a2c72"/><circle cx="258.7" cy="421.8" r="0.75" fill="#3c1a52"/><circle cx="280.4" cy="436.3" r="0.75" fill="#5a2c72"/><circle cx="275.3" cy="445.7" r="0.75" fill="#3c1a52"/><circle cx="281.6" cy="444.3" r="0.75" fill="#4a2060"/><circle cx="260.4" cy="424.6" r="0.75" fill="#24102e"/><circle cx="267.6" cy="429.4" r="0.75" fill="#24102e"/><circle cx="261.8" cy="425.2" r="0.75" fill="#4a2060"/><circle cx="280.5" cy="442.7" r="0.75" fill="#4a2060"/><circle cx="272.0" cy="431.2" r="0.75" fill="#24102e"/><circle cx="282.5" cy="440.2" r="0.75" fill="#3c1a52"/><circle cx="256.7" cy="419.0" r="0.75" fill="#5a2c72"/><circle cx="259.8" cy="426.2" r="0.75" fill="#3c1a52"/><circle cx="280.5" cy="436.7" r="0.75" fill="#3c1a52"/><circle cx="277.7" cy="446.4" r="0.75" fill="#24102e"/><circle cx="280.9" cy="439.7" r="0.75" fill="#24102e"/><circle cx="265.1" cy="427.5" r="0.75" fill="#3c1a52"/><circle cx="271.6" cy="446.2" r="0.75" fill="#3c1a52"/><circle cx="272.1" cy="432.3" r="0.75" fill="#24102e"/><circle cx="256.7" cy="418.2" r="0.75" fill="#7a4c92"/><circle cx="278.8" cy="445.7" r="0.75" fill="#5a2c72"/><circle cx="276.9" cy="444.5" r="0.75" fill="#3c1a52"/><circle cx="265.3" cy="448.3" r="0.75" fill="#24102e"/><circle cx="280.6" cy="437.6" r="0.75" fill="#4a2060"/><circle cx="280.7" cy="442.8" r="0.75" fill="#4a2060"/><circle cx="281.2" cy="443.3" r="0.75" fill="#5a2c72"/><circle cx="277.8" cy="434.0" r="0.75" fill="#4a2060"/><circle cx="272.2" cy="430.2" r="0.75" fill="#4a2060"/><circle cx="280.7" cy="440.5" r="0.75" fill="#4a2060"/><circle cx="268.6" cy="446.7" r="0.75" fill="#4a2060"/><circle cx="281.5" cy="442.9" r="0.75" fill="#5a2c72"/><circle cx="280.5" cy="437.9" r="0.75" fill="#4a2060"/><circle cx="281.2" cy="435.3" r="0.75" fill="#4a2060"/><circle cx="280.9" cy="439.0" r="0.75" fill="#5a2c72"/><circle cx="268.4" cy="429.7" r="0.75" fill="#4a2060"/><circle cx="267.0" cy="447.6" r="0.75" fill="#24102e"/><circle cx="263.2" cy="426.3" r="0.75" fill="#5a2c72"/><circle cx="280.9" cy="438.5" r="0.75" fill="#5a2c72"/><circle cx="273.1" cy="431.6" r="0.75" fill="#24102e"/><circle cx="281.6" cy="440.9" r="0.75" fill="#24102e"/><circle cx="258.8" cy="407.8" r="0.75" fill="#3c1a52"/><circle cx="272.4" cy="447.3" r="0.75" fill="#5a2c72"/><circle cx="274.3" cy="432.4" r="0.75" fill="#7a4c92"/><circle cx="267.2" cy="447.3" r="0.75" fill="#24102e"/><circle cx="278.3" cy="445.7" r="0.75" fill="#3c1a52"/><circle cx="276.3" cy="431.4" r="0.75" fill="#3c1a52"/><circle cx="282.7" cy="439.1" r="0.75" fill="#24102e"/><circle cx="273.0" cy="446.4" r="0.75" fill="#3c1a52"/><circle cx="279.3" cy="445.8" r="0.75" fill="#4a2060"/><circle cx="277.3" cy="435.0" r="0.75" fill="#3c1a52"/><circle cx="276.7" cy="435.1" r="0.75" fill="#3c1a52"/><circle cx="271.3" cy="429.1" r="0.75" fill="#24102e"/><circle cx="280.9" cy="445.9" r="0.75" fill="#24102e"/><circle cx="270.3" cy="446.0" r="0.75" fill="#3c1a52"/><circle cx="277.2" cy="445.3" r="0.75" fill="#4a2060"/><circle cx="275.3" cy="447.2" r="0.75" fill="#24102e"/><circle cx="271.4" cy="447.4" r="0.75" fill="#7a4c92"/><circle cx="270.5" cy="429.6" r="0.75" fill="#5a2c72"/><circle cx="281.6" cy="441.5" r="0.75" fill="#4a2060"/><circle cx="273.2" cy="431.0" r="0.75" fill="#3c1a52"/><circle cx="281.4" cy="437.2" r="0.75" fill="#7a4c92"/><circle cx="278.6" cy="445.2" r="0.75" fill="#24102e"/><circle cx="264.5" cy="426.8" r="0.75" fill="#4a2060"/><circle cx="279.6" cy="444.7" r="0.75" fill="#7a4c92"/><circle cx="279.9" cy="447.7" r="0.75" fill="#7a4c92"/><circle cx="280.0" cy="444.2" r="0.75" fill="#3c1a52"/><circle cx="280.3" cy="445.5" r="0.75" fill="#4a2060"/><circle cx="281.7" cy="444.2" r="0.75" fill="#3c1a52"/><circle cx="278.1" cy="436.2" r="0.75" fill="#5a2c72"/><circle cx="257.7" cy="412.8" r="0.75" fill="#5a2c72"/><circle cx="271.7" cy="429.7" r="0.75" fill="#5a2c72"/><circle cx="270.3" cy="429.4" r="0.75" fill="#7a4c92"/><circle cx="258.8" cy="423.0" r="0.75" fill="#7a4c92"/><circle cx="278.7" cy="445.5" r="0.75" fill="#5a2c72"/><circle cx="265.3" cy="427.9" r="0.75" fill="#5a2c72"/><circle cx="267.5" cy="427.8" r="0.75" fill="#24102e"/><circle cx="269.2" cy="429.0" r="0.75" fill="#24102e"/><circle cx="280.8" cy="443.5" r="0.75" fill="#24102e"/><circle cx="258.7" cy="421.6" r="0.75" fill="#3c1a52"/><circle cx="272.1" cy="446.5" r="0.75" fill="#5a2c72"/><circle cx="257.0" cy="413.9" r="0.75" fill="#3c1a52"/><circle cx="274.3" cy="448.0" r="0.75" fill="#7a4c92"/><circle cx="279.7" cy="436.4" r="0.75" fill="#5a2c72"/><circle cx="260.6" cy="424.4" r="0.75" fill="#4a2060"/><circle cx="277.1" cy="435.1" r="0.75" fill="#7a4c92"/><circle cx="268.2" cy="429.3" r="0.75" fill="#3c1a52"/><circle cx="269.4" cy="430.0" r="0.75" fill="#24102e"/><circle cx="278.3" cy="446.1" r="0.75" fill="#4a2060"/><circle cx="280.9" cy="446.5" r="0.75" fill="#7a4c92"/><circle cx="281.5" cy="442.1" r="0.75" fill="#5a2c72"/><circle cx="283.2" cy="438.5" r="0.75" fill="#24102e"/><circle cx="255.8" cy="407.2" r="0.75" fill="#4a2060"/><circle cx="255.3" cy="398.2" r="0.75" fill="#5a2c72"/><circle cx="259.0" cy="422.1" r="0.75" fill="#4a2060"/><circle cx="271.3" cy="447.3" r="0.75" fill="#4a2060"/><circle cx="276.8" cy="447.1" r="0.75" fill="#24102e"/><circle cx="192.6" cy="403.0" r="0.85" fill="#4a2060"/><circle cx="186.0" cy="404.1" r="0.85" fill="#6a3a80"/><circle cx="190.2" cy="404.9" r="0.85" fill="#6a3a80"/><circle cx="194.5" cy="408.7" r="0.85" fill="#2a1038"/><circle cx="231.7" cy="387.7" r="0.85" fill="#2a1038"/><circle cx="217.1" cy="429.6" r="0.85" fill="#2a1038"/><circle cx="256.7" cy="406.2" r="0.85" fill="#3a1a48"/><circle cx="272.0" cy="438.4" r="0.85" fill="#2a1038"/><circle cx="194.9" cy="402.2" r="0.85" fill="#3a1a48"/>
<rect x="121.60" y="369.20" width="20.80" height="26.10" fill="#fff" stroke="#444" stroke-width="0.7" />
<circle cx="125.0" cy="374.9" r="1" fill="#e8d8e0"/>
<text x="128.30" y="376.97" font-size="6.0" fill="#1e1e1e" textLength="11.7" lengthAdjust="spacingAndGlyphs" >0.45</text>
<circle cx="125.0" cy="380.2" r="1" fill="#c890b0"/>
<text x="128.30" y="382.24" font-size="6.0" fill="#1e1e1e" textLength="11.7" lengthAdjust="spacingAndGlyphs" >0.60</text>
<circle cx="125.0" cy="385.4" r="1" fill="#7a4088"/>
<text x="128.30" y="387.51" font-size="6.0" fill="#1e1e1e" textLength="11.7" lengthAdjust="spacingAndGlyphs" >0.75</text>
<circle cx="125.0" cy="390.7" r="1" fill="#2a1038"/>
<text x="128.30" y="392.78" font-size="6.0" fill="#1e1e1e" textLength="11.7" lengthAdjust="spacingAndGlyphs" >0.90</text>
<rect x="267.40" y="369.40" width="21.10" height="32.30" fill="#fff" stroke="#444" stroke-width="0.7" />
<circle cx="271.2" cy="374.2" r="1" fill="#e0d0dc"/>
<text x="273.70" y="376.27" font-size="6.0" fill="#1e1e1e" textLength="12.2" lengthAdjust="spacingAndGlyphs" >0.64</text>
<circle cx="271.2" cy="379.9" r="1" fill="#c8a0c0"/>
<text x="273.70" y="381.95" font-size="6.0" fill="#1e1e1e" textLength="12.2" lengthAdjust="spacingAndGlyphs" >0.72</text>
<circle cx="271.2" cy="385.6" r="1" fill="#8a5098"/>
<text x="273.70" y="387.63" font-size="6.0" fill="#1e1e1e" textLength="12.2" lengthAdjust="spacingAndGlyphs" >0.80</text>
<circle cx="271.2" cy="391.2" r="1" fill="#4a2060"/>
<text x="273.70" y="393.31" font-size="6.0" fill="#1e1e1e" textLength="12.2" lengthAdjust="spacingAndGlyphs" >0.88</text>
<circle cx="271.2" cy="396.9" r="1" fill="#200a30"/>
<text x="273.70" y="398.99" font-size="6.0" fill="#1e1e1e" textLength="12.2" lengthAdjust="spacingAndGlyphs" >0.96</text>
<text x="359.30" y="359.52" font-size="8.46" fill="#1e1e1e" text-anchor="middle" textLength="114.43" lengthAdjust="spacingAndGlyphs" >% of projected cells per cell type</text>
<text x="359.30" y="369.42" font-size="8.16" fill="#1e1e1e" text-anchor="middle" textLength="46.65" lengthAdjust="spacingAndGlyphs" >metacell level</text>
<line x1="326" y1="375.5" x2="326" y2="452.2" stroke="#262626" stroke-width="1.2"/>
<line x1="323.0" y1="377.55" x2="326" y2="377.55" stroke="#262626" stroke-width="0.8"/>
<text x="320.20" y="379.76" font-size="6.4" fill="#2a2a2a" text-anchor="end" >100</text>
<line x1="323.0" y1="392.44" x2="326" y2="392.44" stroke="#262626" stroke-width="0.8"/>
<text x="320.20" y="394.65" font-size="6.4" fill="#2a2a2a" text-anchor="end" >80</text>
<line x1="323.0" y1="407.33" x2="326" y2="407.33" stroke="#262626" stroke-width="0.8"/>
<text x="320.20" y="409.54" font-size="6.4" fill="#2a2a2a" text-anchor="end" >60</text>
<line x1="323.0" y1="422.22" x2="326" y2="422.22" stroke="#262626" stroke-width="0.8"/>
<text x="320.20" y="424.43" font-size="6.4" fill="#2a2a2a" text-anchor="end" >40</text>
<line x1="323.0" y1="437.11" x2="326" y2="437.11" stroke="#262626" stroke-width="0.8"/>
<text x="320.20" y="439.32" font-size="6.4" fill="#2a2a2a" text-anchor="end" >20</text>
<line x1="323.0" y1="452.0" x2="326" y2="452.0" stroke="#262626" stroke-width="0.8"/>
<text x="320.20" y="454.21" font-size="6.4" fill="#2a2a2a" text-anchor="end" >0</text>
<line x1="326" y1="452.2" x2="388" y2="452.2" stroke="#262626" stroke-width="1"/>
<line x1="344" y1="452.2" x2="344" y2="455.5" stroke="#262626" stroke-width="0.8"/>
<line x1="372.5" y1="452.2" x2="372.5" y2="455.5" stroke="#262626" stroke-width="0.8"/>
<text x="344.00" y="462.30" font-size="7.55" fill="#1e1e1e" text-anchor="middle" textLength="8.54" lengthAdjust="spacingAndGlyphs" >PV</text>
<text x="344.00" y="470.17" font-size="6.3" fill="#1e1e1e" text-anchor="middle" textLength="25.35" lengthAdjust="spacingAndGlyphs" >untreated</text>
<text x="372.50" y="462.30" font-size="7.55" fill="#1e1e1e" text-anchor="middle" textLength="9.24" lengthAdjust="spacingAndGlyphs" >HC</text>
<text x="372.50" y="470.17" font-size="6.3" fill="#1e1e1e" text-anchor="middle" textLength="25.35" lengthAdjust="spacingAndGlyphs" >untreated</text>
<text x="304.80" y="412.70" font-size="8.4" fill="#1e1e1e" text-anchor="middle" textLength="45.3" lengthAdjust="spacingAndGlyphs" transform="rotate(-90 304.80 412.70)" >% Projected_type</text>
<rect x="336.00" y="400.63" width="16.00" height="51.37" fill="#e43538" />
<rect x="336.00" y="398.40" width="16.00" height="2.23" fill="#f8f2d6" />
<rect x="336.00" y="393.93" width="16.00" height="4.47" fill="#b8cc8c" />
<rect x="336.00" y="392.81" width="16.00" height="1.12" fill="#68a848" />
<rect x="336.00" y="381.27" width="16.00" height="11.54" fill="#a6729c" />
<rect x="336.00" y="377.55" width="16.00" height="3.72" fill="#f08c40" />
<rect x="364.40" y="395.79" width="16.20" height="56.21" fill="#e43538" />
<rect x="364.40" y="394.30" width="16.20" height="1.49" fill="#f8f2d6" />
<rect x="364.40" y="392.81" width="16.20" height="1.49" fill="#a8c888" />
<rect x="364.40" y="386.86" width="16.20" height="5.96" fill="#a6729c" />
<rect x="364.40" y="383.51" width="16.20" height="3.35" fill="#f08c40" />
<rect x="364.40" y="377.92" width="16.20" height="5.58" fill="#a848a8" />
<line x1="352" y1="381.2725" x2="364.4" y2="386.85625" stroke="#e86060" stroke-width="0.6"/>
<line x1="352" y1="392.81225" x2="364.4" y2="392.81225" stroke="#f070a0" stroke-width="0.6"/>
<rect x="397.60" y="380.40" width="8.00" height="3.20" fill="#e03038" />
<text x="408.00" y="384.36" font-size="6.84" fill="#333" textLength="17.68" lengthAdjust="spacingAndGlyphs" >BasoE</text>
<rect x="397.60" y="388.00" width="8.00" height="3.20" fill="#f8f2d6" />
<text x="408.00" y="391.96" font-size="6.84" fill="#333" textLength="29.35" lengthAdjust="spacingAndGlyphs" >Basophils2</text>
<rect x="397.60" y="395.60" width="8.00" height="3.20" fill="#f8c4bc" />
<text x="408.00" y="399.56" font-size="6.84" fill="#333" textLength="18.33" lengthAdjust="spacingAndGlyphs" >CFU-E</text>
<rect x="397.60" y="403.20" width="8.00" height="3.20" fill="#c4c884" />
<text x="408.00" y="407.16" font-size="6.84" fill="#333" textLength="9.0" lengthAdjust="spacingAndGlyphs" >Ery</text>
<rect x="397.60" y="410.80" width="8.00" height="3.20" fill="#7cc04c" />
<text x="408.00" y="414.76" font-size="6.84" fill="#333" textLength="26.01" lengthAdjust="spacingAndGlyphs" >Monocyte</text>
<rect x="397.60" y="418.40" width="8.00" height="3.20" fill="#283c8c" />
<text x="408.00" y="422.36" font-size="6.84" fill="#333" textLength="30.35" lengthAdjust="spacingAndGlyphs" >Neutrophils</text>
<rect x="397.60" y="426.00" width="8.00" height="3.20" fill="#a06a88" />
<text x="408.00" y="429.96" font-size="6.84" fill="#333" textLength="15.67" lengthAdjust="spacingAndGlyphs" >PolyE</text>
<rect x="397.60" y="433.60" width="8.00" height="3.20" fill="#f08444" />
<text x="408.00" y="437.56" font-size="6.84" fill="#333" textLength="13.34" lengthAdjust="spacingAndGlyphs" >ProE</text>
<rect x="397.60" y="441.20" width="8.00" height="3.20" fill="#b070c0" />
<text x="408.00" y="445.16" font-size="6.84" fill="#333" textLength="13.0" lengthAdjust="spacingAndGlyphs" >mast</text>
<rect x="443.80" y="380.40" width="8.00" height="3.20" fill="#eabbd2" />
<text x="454.30" y="384.36" font-size="6.84" fill="#333" textLength="26.0" lengthAdjust="spacingAndGlyphs" >MEBEMP</text>
<rect x="443.80" y="388.00" width="8.00" height="3.20" fill="#94c2e2" />
<text x="454.30" y="391.96" font-size="6.84" fill="#333" textLength="13.67" lengthAdjust="spacingAndGlyphs" >GMP</text>
<rect x="443.80" y="395.60" width="8.00" height="3.20" fill="#f8cadb" />
<text x="454.30" y="399.56" font-size="6.84" fill="#333" textLength="9.0" lengthAdjust="spacingAndGlyphs" >MK</text>
<rect x="443.80" y="403.20" width="8.00" height="3.20" fill="#b04a62" />
<text x="454.30" y="407.16" font-size="6.84" fill="#333" textLength="34.02" lengthAdjust="spacingAndGlyphs" >Eosinophils2</text>
<rect x="443.80" y="410.80" width="8.00" height="3.20" fill="#d6dcd6" />
<text x="454.30" y="414.76" font-size="6.84" fill="#333" textLength="22.68" lengthAdjust="spacingAndGlyphs" >doublets</text>
<rect x="443.80" y="418.40" width="8.00" height="3.20" fill="#f2d2a4" />
<text x="454.30" y="422.36" font-size="6.84" fill="#333" textLength="29.35" lengthAdjust="spacingAndGlyphs" >Basophils1</text>
<rect x="443.80" y="426.00" width="8.00" height="3.20" fill="#b452b4" />
<text x="454.30" y="429.96" font-size="6.84" fill="#333" textLength="17.0" lengthAdjust="spacingAndGlyphs" >MastP</text>
<rect x="443.80" y="433.60" width="8.00" height="3.20" fill="#c49494" />
<text x="454.30" y="437.56" font-size="6.84" fill="#333" textLength="34.02" lengthAdjust="spacingAndGlyphs" >Eosinophils1</text>
</svg>
</body></html>
